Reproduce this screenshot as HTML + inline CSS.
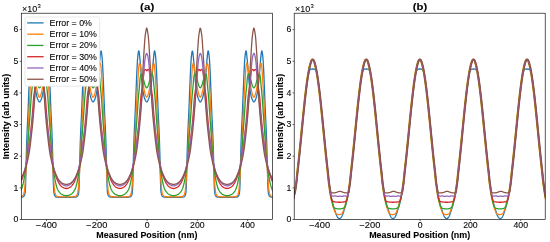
<!DOCTYPE html><html><head><meta charset="utf-8"><style>html,body{margin:0;padding:0;background:#fff;}svg{display:block;will-change:transform;}text{font-family:"Liberation Sans",sans-serif;fill:#000;stroke:#000;stroke-width:0.08px;}</style></head><body>
<svg width="550" height="242" viewBox="0 0 550 242">
<rect width="550" height="242" fill="#fff"/>
<defs><clipPath id="cL"><rect x="21.3" y="13.2" width="251.09999999999997" height="206.3"/></clipPath><clipPath id="cR"><rect x="294.2" y="13.2" width="251.00000000000006" height="206.3"/></clipPath></defs>
<g clip-path="url(#cL)" fill="none" stroke-width="1.3" stroke-linejoin="round">
<path d="M20.30,197.23 L20.63,197.22 L20.96,197.21 L21.29,197.20 L21.62,197.18 L21.95,197.14 L22.28,197.07 L22.61,196.98 L22.94,196.86 L23.27,196.73 L23.60,196.51 L23.93,196.14 L24.26,195.61 L24.59,194.90 L24.92,193.55 L25.25,191.17 L25.58,185.18 L25.91,171.61 L26.24,157.96 L26.57,146.56 L26.90,136.91 L27.23,128.60 L27.56,121.88 L27.89,115.28 L28.22,107.35 L28.55,98.91 L28.88,90.51 L29.21,82.24 L29.54,74.13 L29.87,67.48 L30.20,61.58 L30.53,57.15 L30.86,54.34 L31.19,52.06 L31.52,50.86 L31.85,51.39 L32.18,53.57 L32.51,56.70 L32.84,60.04 L33.17,63.55 L33.50,67.83 L33.83,72.24 L34.16,76.15 L34.49,79.80 L34.82,83.34 L35.15,86.57 L35.48,89.25 L35.81,91.33 L36.14,93.19 L36.47,94.85 L36.80,96.31 L37.13,97.53 L37.46,98.50 L37.79,99.30 L38.12,100.08 L38.45,100.77 L38.78,101.34 L39.11,101.74 L39.44,101.92 L39.77,101.83 L40.10,101.51 L40.43,101.00 L40.76,100.34 L41.09,99.59 L41.42,98.79 L41.75,97.91 L42.08,96.78 L42.41,95.41 L42.74,93.82 L43.07,92.03 L43.40,90.05 L43.73,87.61 L44.06,84.56 L44.39,81.11 L44.72,77.48 L45.05,73.75 L45.38,69.45 L45.71,65.05 L46.04,61.20 L46.37,57.93 L46.70,54.64 L47.03,52.03 L47.36,50.82 L47.69,51.46 L48.02,53.43 L48.35,56.08 L48.68,59.75 L49.01,65.23 L49.34,71.54 L49.67,79.21 L50.00,87.47 L50.33,95.88 L50.66,104.29 L50.99,112.52 L51.32,119.59 L51.65,125.99 L51.98,133.74 L52.31,142.89 L52.64,153.47 L52.97,166.60 L53.30,181.20 L53.63,189.53 L53.96,192.82 L54.29,194.51 L54.62,195.38 L54.95,195.97 L55.28,196.39 L55.61,196.66 L55.94,196.82 L56.27,196.94 L56.60,197.04 L56.93,197.12 L57.26,197.17 L57.59,197.19 L57.92,197.20 L58.25,197.22 L58.58,197.23 L58.91,197.24 L59.24,197.25 L59.57,197.26 L59.90,197.27 L60.23,197.28 L60.56,197.29 L60.89,197.29 L61.22,197.30 L61.55,197.31 L61.88,197.31 L62.21,197.32 L62.54,197.32 L62.87,197.33 L63.20,197.33 L63.53,197.33 L63.86,197.34 L64.19,197.34 L64.52,197.34 L64.85,197.34 L65.18,197.34 L65.51,197.34 L65.84,197.34 L66.17,197.34 L66.50,197.34 L66.83,197.34 L67.16,197.34 L67.49,197.34 L67.82,197.34 L68.15,197.34 L68.48,197.34 L68.81,197.34 L69.14,197.33 L69.47,197.33 L69.80,197.32 L70.13,197.32 L70.46,197.32 L70.79,197.31 L71.12,197.30 L71.45,197.30 L71.78,197.29 L72.11,197.28 L72.44,197.28 L72.77,197.27 L73.10,197.26 L73.43,197.25 L73.76,197.24 L74.09,197.23 L74.42,197.21 L74.75,197.20 L75.08,197.19 L75.41,197.16 L75.74,197.11 L76.07,197.02 L76.40,196.92 L76.73,196.79 L77.06,196.62 L77.39,196.32 L77.72,195.86 L78.05,195.24 L78.38,194.23 L78.71,192.34 L79.04,188.27 L79.37,178.01 L79.70,163.66 L80.03,151.08 L80.36,140.84 L80.69,131.97 L81.02,124.58 L81.35,118.21 L81.68,110.83 L82.01,102.49 L82.34,94.10 L82.67,85.73 L83.00,77.47 L83.33,70.17 L83.66,63.97 L83.99,58.79 L84.32,55.49 L84.65,52.93 L84.98,51.19 L85.31,50.92 L85.64,52.49 L85.97,55.30 L86.30,58.64 L86.63,61.94 L86.96,65.96 L87.29,70.39 L87.62,74.59 L87.95,78.25 L88.28,81.87 L88.61,85.25 L88.94,88.19 L89.27,90.48 L89.60,92.42 L89.93,94.17 L90.26,95.72 L90.59,97.04 L90.92,98.12 L91.25,98.96 L91.58,99.75 L91.91,100.49 L92.24,101.12 L92.57,101.60 L92.90,101.87 L93.23,101.90 L93.56,101.67 L93.89,101.23 L94.22,100.63 L94.55,99.92 L94.88,99.13 L95.21,98.31 L95.54,97.29 L95.87,96.02 L96.20,94.52 L96.53,92.81 L96.86,90.91 L97.19,88.74 L97.52,85.92 L97.85,82.61 L98.18,79.03 L98.51,75.38 L98.84,71.33 L99.17,66.88 L99.50,62.72 L99.83,59.35 L100.16,55.99 L100.49,53.01 L100.82,51.12 L101.15,50.99 L101.48,52.47 L101.81,54.91 L102.14,57.92 L102.47,62.75 L102.80,68.82 L103.13,75.77 L103.46,84.00 L103.79,92.30 L104.12,100.69 L104.45,109.11 L104.78,116.78 L105.11,123.21 L105.44,130.25 L105.77,138.84 L106.10,148.79 L106.43,160.77 L106.76,174.68 L107.09,186.82 L107.42,191.81 L107.75,193.91 L108.08,195.08 L108.41,195.74 L108.74,196.23 L109.07,196.57 L109.40,196.76 L109.73,196.89 L110.06,197.00 L110.39,197.09 L110.72,197.15 L111.05,197.18 L111.38,197.20 L111.71,197.21 L112.04,197.22 L112.37,197.23 L112.70,197.25 L113.03,197.26 L113.36,197.26 L113.69,197.27 L114.02,197.28 L114.35,197.29 L114.68,197.30 L115.01,197.30 L115.34,197.31 L115.67,197.31 L116.00,197.32 L116.33,197.32 L116.66,197.33 L116.99,197.33 L117.32,197.33 L117.65,197.34 L117.98,197.34 L118.31,197.34 L118.64,197.34 L118.97,197.34 L119.30,197.34 L119.63,197.34 L119.96,197.34 L120.29,197.34 L120.62,197.34 L120.95,197.34 L121.28,197.34 L121.61,197.34 L121.94,197.34 L122.27,197.34 L122.60,197.33 L122.93,197.33 L123.26,197.33 L123.59,197.32 L123.92,197.32 L124.25,197.31 L124.58,197.31 L124.91,197.30 L125.24,197.29 L125.57,197.29 L125.90,197.28 L126.23,197.27 L126.56,197.26 L126.89,197.25 L127.22,197.24 L127.55,197.23 L127.88,197.22 L128.21,197.21 L128.54,197.19 L128.87,197.18 L129.20,197.13 L129.53,197.06 L129.86,196.97 L130.19,196.85 L130.52,196.70 L130.85,196.46 L131.18,196.07 L131.51,195.52 L131.84,194.75 L132.17,193.26 L132.50,190.57 L132.83,183.83 L133.16,169.54 L133.49,156.03 L133.82,145.01 L134.15,135.57 L134.48,127.48 L134.81,120.93 L135.14,114.15 L135.47,106.08 L135.80,97.65 L136.13,89.24 L136.46,80.98 L136.79,73.01 L137.12,66.53 L137.45,60.79 L137.78,56.68 L138.11,53.95 L138.44,51.79 L138.77,50.81 L139.10,51.63 L139.43,54.00 L139.76,57.21 L140.09,60.52 L140.42,64.16 L140.75,68.50 L141.08,72.88 L141.41,76.70 L141.74,80.35 L142.07,83.86 L142.40,87.01 L142.73,89.60 L143.06,91.62 L143.39,93.45 L143.72,95.09 L144.05,96.51 L144.38,97.69 L144.71,98.62 L145.04,99.42 L145.37,100.19 L145.70,100.87 L146.03,101.41 L146.36,101.78 L146.69,101.92 L147.02,101.80 L147.35,101.44 L147.68,100.91 L148.01,100.23 L148.34,99.47 L148.67,98.67 L149.00,97.76 L149.33,96.59 L149.66,95.18 L149.99,93.56 L150.32,91.74 L150.65,89.73 L150.98,87.19 L151.31,84.06 L151.64,80.57 L151.97,76.92 L152.30,73.13 L152.63,68.77 L152.96,64.41 L153.29,60.71 L153.62,57.41 L153.95,54.18 L154.28,51.74 L154.61,50.81 L154.94,51.69 L155.27,53.80 L155.60,56.50 L155.93,60.49 L156.26,66.16 L156.59,72.58 L156.92,80.48 L157.25,88.73 L157.58,97.14 L157.91,105.57 L158.24,113.69 L158.57,120.54 L158.90,127.05 L159.23,135.04 L159.56,144.40 L159.89,155.28 L160.22,168.70 L160.55,183.16 L160.88,190.30 L161.21,193.14 L161.54,194.69 L161.87,195.48 L162.20,196.04 L162.53,196.45 L162.86,196.69 L163.19,196.84 L163.52,196.96 L163.85,197.06 L164.18,197.13 L164.51,197.17 L164.84,197.19 L165.17,197.21 L165.50,197.22 L165.83,197.23 L166.16,197.24 L166.49,197.25 L166.82,197.26 L167.15,197.27 L167.48,197.28 L167.81,197.29 L168.14,197.29 L168.47,197.30 L168.80,197.31 L169.13,197.31 L169.46,197.32 L169.79,197.32 L170.12,197.33 L170.45,197.33 L170.78,197.33 L171.11,197.34 L171.44,197.34 L171.77,197.34 L172.10,197.34 L172.43,197.34 L172.76,197.34 L173.09,197.34 L173.42,197.34 L173.75,197.34 L174.08,197.34 L174.41,197.34 L174.74,197.34 L175.07,197.34 L175.40,197.34 L175.73,197.34 L176.06,197.33 L176.39,197.33 L176.72,197.33 L177.05,197.32 L177.38,197.32 L177.71,197.31 L178.04,197.31 L178.37,197.30 L178.70,197.30 L179.03,197.29 L179.36,197.28 L179.69,197.27 L180.02,197.27 L180.35,197.26 L180.68,197.25 L181.01,197.24 L181.34,197.22 L181.67,197.21 L182.00,197.20 L182.33,197.19 L182.66,197.15 L182.99,197.10 L183.32,197.01 L183.65,196.90 L183.98,196.77 L184.31,196.58 L184.64,196.26 L184.97,195.77 L185.30,195.13 L185.63,194.01 L185.96,191.97 L186.29,187.25 L186.62,175.62 L186.95,161.59 L187.28,149.44 L187.61,139.41 L187.94,130.74 L188.27,123.60 L188.60,117.20 L188.93,109.61 L189.26,101.21 L189.59,92.82 L189.92,84.50 L190.25,76.25 L190.58,69.20 L190.91,63.09 L191.24,58.16 L191.57,55.08 L191.90,52.60 L192.23,51.04 L192.56,51.05 L192.89,52.85 L193.22,55.79 L193.55,59.15 L193.88,62.49 L194.21,66.62 L194.54,71.06 L194.87,75.16 L195.20,78.81 L195.53,82.40 L195.86,85.73 L196.19,88.58 L196.52,90.79 L196.85,92.70 L197.18,94.42 L197.51,95.93 L197.84,97.22 L198.17,98.26 L198.50,99.08 L198.83,99.87 L199.16,100.59 L199.49,101.20 L199.82,101.65 L200.15,101.89 L200.48,101.88 L200.81,101.62 L201.14,101.15 L201.47,100.53 L201.80,99.80 L202.13,99.01 L202.46,98.18 L202.79,97.11 L203.12,95.80 L203.45,94.27 L203.78,92.53 L204.11,90.61 L204.44,88.35 L204.77,85.44 L205.10,82.08 L205.43,78.47 L205.76,74.82 L206.09,70.66 L206.42,66.22 L206.75,62.16 L207.08,58.85 L207.41,55.50 L207.74,52.63 L208.07,50.97 L208.40,51.13 L208.73,52.79 L209.06,55.32 L209.39,58.53 L209.72,63.61 L210.05,69.78 L210.38,76.98 L210.71,85.23 L211.04,93.58 L211.37,101.98 L211.70,110.34 L212.03,117.81 L212.36,124.18 L212.69,131.47 L213.02,140.26 L213.35,150.42 L213.68,162.83 L214.01,177.05 L214.34,187.87 L214.67,192.19 L215.00,194.14 L215.33,195.19 L215.66,195.82 L215.99,196.29 L216.32,196.61 L216.65,196.78 L216.98,196.91 L217.31,197.02 L217.64,197.10 L217.97,197.16 L218.30,197.19 L218.63,197.20 L218.96,197.21 L219.29,197.22 L219.62,197.24 L219.95,197.25 L220.28,197.26 L220.61,197.27 L220.94,197.27 L221.27,197.28 L221.60,197.29 L221.93,197.30 L222.26,197.30 L222.59,197.31 L222.92,197.32 L223.25,197.32 L223.58,197.32 L223.91,197.33 L224.24,197.33 L224.57,197.33 L224.90,197.34 L225.23,197.34 L225.56,197.34 L225.89,197.34 L226.22,197.34 L226.55,197.34 L226.88,197.34 L227.21,197.34 L227.54,197.34 L227.87,197.34 L228.20,197.34 L228.53,197.34 L228.86,197.34 L229.19,197.34 L229.52,197.34 L229.85,197.33 L230.18,197.33 L230.51,197.33 L230.84,197.32 L231.17,197.32 L231.50,197.31 L231.83,197.31 L232.16,197.30 L232.49,197.29 L232.82,197.29 L233.15,197.28 L233.48,197.27 L233.81,197.26 L234.14,197.25 L234.47,197.24 L234.80,197.23 L235.13,197.22 L235.46,197.20 L235.79,197.19 L236.12,197.17 L236.45,197.12 L236.78,197.05 L237.11,196.95 L237.44,196.83 L237.77,196.68 L238.10,196.42 L238.43,196.00 L238.76,195.42 L239.09,194.58 L239.42,192.95 L239.75,189.85 L240.08,182.03 L240.41,167.44 L240.74,154.18 L241.07,143.49 L241.40,134.26 L241.73,126.41 L242.06,119.97 L242.39,112.99 L242.72,104.80 L243.05,96.39 L243.38,87.98 L243.71,79.72 L244.04,71.95 L244.37,65.60 L244.70,60.04 L245.03,56.25 L245.36,53.57 L245.69,51.55 L246.02,50.81 L246.35,51.91 L246.68,54.45 L247.01,57.72 L247.34,61.00 L247.67,64.79 L248.00,69.18 L248.33,73.51 L248.66,77.26 L248.99,80.90 L249.32,84.36 L249.65,87.45 L249.98,89.93 L250.31,91.91 L250.64,93.71 L250.97,95.32 L251.30,96.70 L251.63,97.85 L251.96,98.74 L252.29,99.54 L252.62,100.30 L252.95,100.96 L253.28,101.48 L253.61,101.82 L253.94,101.92 L254.27,101.76 L254.60,101.37 L254.93,100.81 L255.26,100.12 L255.59,99.35 L255.92,98.55 L256.25,97.59 L256.58,96.39 L256.91,94.95 L257.24,93.29 L257.57,91.45 L257.90,89.39 L258.23,86.75 L258.56,83.55 L258.89,80.02 L259.22,76.37 L259.55,72.50 L259.88,68.10 L260.21,63.79 L260.54,60.24 L260.87,56.90 L261.20,53.74 L261.53,51.48 L261.86,50.84 L262.19,51.95 L262.52,54.19 L262.85,56.96 L263.18,61.26 L263.51,67.10 L263.84,73.68 L264.17,81.74 L264.50,90.00 L264.83,98.40 L265.16,106.84 L265.49,114.83 L265.82,121.50 L266.15,128.14 L266.48,136.37 L266.81,145.93 L267.14,157.18 L267.47,170.79 L267.80,184.68 L268.13,190.95 L268.46,193.44 L268.79,194.85 L269.12,195.58 L269.45,196.11 L269.78,196.49 L270.11,196.72 L270.44,196.86 L270.77,196.98 L271.10,197.07 L271.43,197.14 L271.76,197.18 L272.09,197.19 L272.42,197.21 L272.75,197.22 L273.08,197.23" stroke="#1f77b4"/>
<path d="M20.30,196.72 L20.63,196.70 L20.96,196.65 L21.29,196.55 L21.62,196.42 L21.95,196.25 L22.28,196.06 L22.61,195.84 L22.94,195.51 L23.27,195.03 L23.60,194.40 L23.93,193.48 L24.26,191.90 L24.59,189.64 L24.92,185.71 L25.25,181.42 L25.58,176.75 L25.91,171.88 L26.24,166.96 L26.57,161.83 L26.90,156.20 L27.23,149.65 L27.56,142.44 L27.89,135.28 L28.22,128.05 L28.55,120.82 L28.88,113.88 L29.21,107.36 L29.54,101.11 L29.87,95.03 L30.20,89.01 L30.53,83.15 L30.86,77.68 L31.19,72.09 L31.52,67.62 L31.85,65.22 L32.18,63.54 L32.51,63.21 L32.84,63.94 L33.17,65.17 L33.50,66.64 L33.83,68.84 L34.16,71.38 L34.49,73.84 L34.82,76.11 L35.15,78.40 L35.48,80.66 L35.81,82.84 L36.14,84.92 L36.47,87.06 L36.80,89.15 L37.13,91.00 L37.46,92.45 L37.79,93.55 L38.12,94.62 L38.45,95.58 L38.78,96.37 L39.11,96.92 L39.44,97.17 L39.77,97.05 L40.10,96.60 L40.43,95.89 L40.76,94.98 L41.09,93.95 L41.42,92.85 L41.75,91.59 L42.08,89.86 L42.41,87.84 L42.74,85.69 L43.07,83.60 L43.40,81.46 L43.73,79.23 L44.06,76.94 L44.39,74.66 L44.72,72.31 L45.05,69.74 L45.38,67.37 L45.71,65.64 L46.04,64.36 L46.37,63.39 L46.70,63.23 L47.03,64.49 L47.36,66.66 L47.69,70.22 L48.02,75.65 L48.35,81.11 L48.68,86.85 L49.01,92.84 L49.34,98.88 L49.67,105.06 L50.00,111.47 L50.33,118.24 L50.66,125.40 L50.99,132.67 L51.32,139.80 L51.65,147.06 L51.98,153.94 L52.31,159.86 L52.64,165.14 L52.97,170.09 L53.30,174.99 L53.63,179.76 L53.96,184.18 L54.29,188.36 L54.62,191.18 L54.95,192.98 L55.28,194.13 L55.61,194.82 L55.94,195.35 L56.27,195.74 L56.60,195.99 L56.93,196.18 L57.26,196.36 L57.59,196.50 L57.92,196.62 L58.25,196.69 L58.58,196.72 L58.91,196.73 L59.24,196.74 L59.57,196.76 L59.90,196.77 L60.23,196.78 L60.56,196.79 L60.89,196.80 L61.22,196.81 L61.55,196.82 L61.88,196.83 L62.21,196.83 L62.54,196.84 L62.87,196.85 L63.20,196.85 L63.53,196.85 L63.86,196.86 L64.19,196.86 L64.52,196.86 L64.85,196.87 L65.18,196.87 L65.51,196.87 L65.84,196.87 L66.17,196.87 L66.50,196.87 L66.83,196.87 L67.16,196.87 L67.49,196.87 L67.82,196.87 L68.15,196.86 L68.48,196.86 L68.81,196.86 L69.14,196.85 L69.47,196.85 L69.80,196.84 L70.13,196.84 L70.46,196.83 L70.79,196.82 L71.12,196.82 L71.45,196.81 L71.78,196.80 L72.11,196.79 L72.44,196.78 L72.77,196.77 L73.10,196.75 L73.43,196.74 L73.76,196.73 L74.09,196.71 L74.42,196.68 L74.75,196.59 L75.08,196.48 L75.41,196.32 L75.74,196.14 L76.07,195.94 L76.40,195.67 L76.73,195.25 L77.06,194.69 L77.39,193.95 L77.72,192.65 L78.05,190.72 L78.38,187.51 L78.71,183.28 L79.04,178.77 L79.37,173.96 L79.70,169.05 L80.03,164.05 L80.36,158.67 L80.69,152.55 L81.02,145.53 L81.35,138.28 L81.68,131.13 L82.01,123.87 L82.34,116.77 L82.67,110.09 L83.00,103.74 L83.33,97.60 L83.66,91.56 L83.99,85.60 L84.32,79.95 L84.65,74.44 L84.98,69.25 L85.31,66.16 L85.64,64.13 L85.97,63.16 L86.30,63.54 L86.63,64.62 L86.96,65.93 L87.29,67.84 L87.62,70.29 L87.95,72.84 L88.28,75.14 L88.61,77.43 L88.94,79.71 L89.27,81.93 L89.60,84.04 L89.93,86.15 L90.26,88.28 L90.59,90.26 L90.92,91.90 L91.25,93.09 L91.58,94.18 L91.91,95.19 L92.24,96.06 L92.57,96.72 L92.90,97.10 L93.23,97.14 L93.56,96.83 L93.89,96.22 L94.22,95.39 L94.55,94.40 L94.88,93.32 L95.21,92.18 L95.54,90.64 L95.87,88.72 L96.20,86.61 L96.53,84.47 L96.86,82.39 L97.19,80.19 L97.52,77.92 L97.85,75.63 L98.18,73.35 L98.51,70.84 L98.84,68.33 L99.17,66.27 L99.50,64.89 L99.83,63.73 L100.16,63.16 L100.49,63.80 L100.82,65.68 L101.15,68.37 L101.48,73.25 L101.81,78.82 L102.14,84.37 L102.47,90.28 L102.80,96.31 L103.13,102.42 L103.46,108.72 L103.79,115.31 L104.12,122.34 L104.45,129.59 L104.78,136.78 L105.11,143.99 L105.44,151.12 L105.77,157.45 L106.10,162.95 L106.43,168.01 L106.76,172.92 L107.09,177.77 L107.42,182.36 L107.75,186.61 L108.08,190.24 L108.41,192.29 L108.74,193.73 L109.07,194.55 L109.40,195.15 L109.73,195.59 L110.06,195.89 L110.39,196.10 L110.72,196.29 L111.05,196.45 L111.38,196.57 L111.71,196.66 L112.04,196.71 L112.37,196.72 L112.70,196.74 L113.03,196.75 L113.36,196.76 L113.69,196.78 L114.02,196.79 L114.35,196.80 L114.68,196.81 L115.01,196.82 L115.34,196.82 L115.67,196.83 L116.00,196.84 L116.33,196.84 L116.66,196.85 L116.99,196.85 L117.32,196.86 L117.65,196.86 L117.98,196.86 L118.31,196.87 L118.64,196.87 L118.97,196.87 L119.30,196.87 L119.63,196.87 L119.96,196.87 L120.29,196.87 L120.62,196.87 L120.95,196.87 L121.28,196.87 L121.61,196.86 L121.94,196.86 L122.27,196.86 L122.60,196.86 L122.93,196.85 L123.26,196.85 L123.59,196.84 L123.92,196.83 L124.25,196.83 L124.58,196.82 L124.91,196.81 L125.24,196.80 L125.57,196.79 L125.90,196.78 L126.23,196.77 L126.56,196.76 L126.89,196.75 L127.22,196.73 L127.55,196.72 L127.88,196.70 L128.21,196.63 L128.54,196.53 L128.87,196.39 L129.20,196.22 L129.53,196.03 L129.86,195.80 L130.19,195.45 L130.52,194.95 L130.85,194.29 L131.18,193.28 L131.51,191.61 L131.84,189.14 L132.17,185.06 L132.50,180.73 L132.83,176.02 L133.16,171.13 L133.49,166.20 L133.82,161.02 L134.15,155.28 L134.48,148.58 L134.81,141.34 L135.14,134.19 L135.47,126.95 L135.80,119.74 L136.13,112.87 L136.46,106.40 L136.79,100.18 L137.12,94.12 L137.45,88.11 L137.78,82.29 L138.11,76.84 L138.44,71.29 L138.77,67.18 L139.10,64.91 L139.43,63.39 L139.76,63.27 L140.09,64.11 L140.42,65.36 L140.75,66.94 L141.08,69.21 L141.41,71.77 L141.74,74.18 L142.07,76.46 L142.40,78.75 L142.73,81.00 L143.06,83.16 L143.39,85.24 L143.72,87.39 L144.05,89.45 L144.38,91.25 L144.71,92.62 L145.04,93.72 L145.37,94.77 L145.70,95.71 L146.03,96.47 L146.36,96.98 L146.69,97.17 L147.02,97.00 L147.35,96.51 L147.68,95.76 L148.01,94.83 L148.34,93.78 L148.67,92.68 L149.00,91.35 L149.33,89.57 L149.66,87.51 L149.99,85.37 L150.32,83.29 L150.65,81.13 L150.98,78.88 L151.31,76.60 L151.64,74.32 L151.97,71.93 L152.30,69.36 L152.63,67.06 L152.96,65.44 L153.29,64.18 L153.62,63.30 L153.95,63.34 L154.28,64.78 L154.61,67.02 L154.94,70.98 L155.27,76.50 L155.60,81.95 L155.93,87.74 L156.26,93.75 L156.59,99.81 L156.92,106.02 L157.25,112.47 L157.58,119.31 L157.91,126.50 L158.24,133.76 L158.57,140.90 L158.90,148.15 L159.23,154.90 L159.56,160.69 L159.89,165.90 L160.22,170.84 L160.55,175.73 L160.88,180.46 L161.21,184.81 L161.54,188.93 L161.87,191.49 L162.20,193.19 L162.53,194.25 L162.86,194.91 L163.19,195.42 L163.52,195.78 L163.85,196.02 L164.18,196.21 L164.51,196.38 L164.84,196.52 L165.17,196.63 L165.50,196.69 L165.83,196.72 L166.16,196.73 L166.49,196.75 L166.82,196.76 L167.15,196.77 L167.48,196.78 L167.81,196.79 L168.14,196.80 L168.47,196.81 L168.80,196.82 L169.13,196.83 L169.46,196.83 L169.79,196.84 L170.12,196.85 L170.45,196.85 L170.78,196.85 L171.11,196.86 L171.44,196.86 L171.77,196.86 L172.10,196.87 L172.43,196.87 L172.76,196.87 L173.09,196.87 L173.42,196.87 L173.75,196.87 L174.08,196.87 L174.41,196.87 L174.74,196.87 L175.07,196.87 L175.40,196.86 L175.73,196.86 L176.06,196.86 L176.39,196.85 L176.72,196.85 L177.05,196.84 L177.38,196.84 L177.71,196.83 L178.04,196.82 L178.37,196.82 L178.70,196.81 L179.03,196.80 L179.36,196.79 L179.69,196.78 L180.02,196.77 L180.35,196.75 L180.68,196.74 L181.01,196.73 L181.34,196.71 L181.67,196.67 L182.00,196.58 L182.33,196.46 L182.66,196.30 L182.99,196.11 L183.32,195.91 L183.65,195.61 L183.98,195.18 L184.31,194.59 L184.64,193.79 L184.97,192.39 L185.30,190.38 L185.63,186.87 L185.96,182.63 L186.29,178.05 L186.62,173.21 L186.95,168.31 L187.28,163.27 L187.61,157.80 L187.94,151.53 L188.27,144.43 L188.60,137.21 L188.93,130.03 L189.26,122.77 L189.59,115.72 L189.92,109.11 L190.25,102.79 L190.58,96.68 L190.91,90.65 L191.24,84.72 L191.57,79.14 L191.90,73.59 L192.23,68.61 L192.56,65.82 L192.89,63.89 L193.22,63.15 L193.55,63.67 L193.88,64.81 L194.21,66.17 L194.54,68.18 L194.87,70.68 L195.20,73.21 L195.53,75.49 L195.86,77.78 L196.19,80.05 L196.52,82.26 L196.85,84.35 L197.18,86.47 L197.51,88.60 L197.84,90.53 L198.17,92.10 L198.50,93.25 L198.83,94.34 L199.16,95.33 L199.49,96.18 L199.82,96.80 L200.15,97.13 L200.48,97.12 L200.81,96.75 L201.14,96.11 L201.47,95.25 L201.80,94.24 L202.13,93.15 L202.46,91.98 L202.79,90.37 L203.12,88.41 L203.45,86.28 L203.78,84.16 L204.11,82.06 L204.44,79.85 L204.77,77.57 L205.10,75.28 L205.43,72.99 L205.76,70.44 L206.09,67.97 L206.42,66.02 L206.75,64.69 L207.08,63.59 L207.41,63.15 L207.74,64.03 L208.07,66.02 L208.40,68.99 L208.73,74.10 L209.06,79.62 L209.39,85.25 L209.72,91.19 L210.05,97.23 L210.38,103.36 L210.71,109.69 L211.04,116.35 L211.37,123.43 L211.70,130.69 L212.03,137.85 L212.36,145.09 L212.69,152.14 L213.02,158.33 L213.35,163.74 L213.68,168.76 L214.01,173.66 L214.34,178.48 L214.67,183.02 L215.00,187.26 L215.33,190.59 L215.66,192.55 L215.99,193.89 L216.32,194.65 L216.65,195.22 L216.98,195.65 L217.31,195.93 L217.64,196.13 L217.97,196.31 L218.30,196.47 L218.63,196.59 L218.96,196.67 L219.29,196.71 L219.62,196.73 L219.95,196.74 L220.28,196.75 L220.61,196.77 L220.94,196.78 L221.27,196.79 L221.60,196.80 L221.93,196.81 L222.26,196.82 L222.59,196.82 L222.92,196.83 L223.25,196.84 L223.58,196.84 L223.91,196.85 L224.24,196.85 L224.57,196.86 L224.90,196.86 L225.23,196.86 L225.56,196.87 L225.89,196.87 L226.22,196.87 L226.55,196.87 L226.88,196.87 L227.21,196.87 L227.54,196.87 L227.87,196.87 L228.20,196.87 L228.53,196.87 L228.86,196.86 L229.19,196.86 L229.52,196.86 L229.85,196.85 L230.18,196.85 L230.51,196.85 L230.84,196.84 L231.17,196.83 L231.50,196.83 L231.83,196.82 L232.16,196.81 L232.49,196.80 L232.82,196.79 L233.15,196.78 L233.48,196.77 L233.81,196.76 L234.14,196.75 L234.47,196.73 L234.80,196.72 L235.13,196.69 L235.46,196.62 L235.79,196.51 L236.12,196.37 L236.45,196.20 L236.78,196.00 L237.11,195.76 L237.44,195.38 L237.77,194.86 L238.10,194.18 L238.43,193.07 L238.76,191.30 L239.09,188.59 L239.42,184.43 L239.75,180.04 L240.08,175.29 L240.41,170.39 L240.74,165.44 L241.07,160.19 L241.40,154.33 L241.73,147.50 L242.06,140.24 L242.39,133.10 L242.72,125.84 L243.05,118.67 L243.38,111.87 L243.71,105.44 L244.04,99.25 L244.37,93.20 L244.70,87.21 L245.03,81.45 L245.36,75.99 L245.69,70.52 L246.02,66.80 L246.35,64.61 L246.68,63.27 L247.01,63.35 L247.34,64.28 L247.67,65.56 L248.00,67.24 L248.33,69.59 L248.66,72.16 L248.99,74.52 L249.32,76.81 L249.65,79.09 L249.98,81.33 L250.31,83.48 L250.64,85.56 L250.97,87.71 L251.30,89.74 L251.63,91.49 L251.96,92.78 L252.29,93.88 L252.62,94.92 L252.95,95.84 L253.28,96.57 L253.61,97.03 L253.94,97.17 L254.27,96.95 L254.60,96.41 L254.93,95.63 L255.26,94.68 L255.59,93.62 L255.92,92.52 L256.25,91.10 L256.58,89.27 L256.91,87.19 L257.24,85.05 L257.57,82.97 L257.90,80.80 L258.23,78.54 L258.56,76.25 L258.89,73.98 L259.22,71.54 L259.55,68.98 L259.88,66.76 L260.21,65.25 L260.54,64.01 L260.87,63.23 L261.20,63.47 L261.53,65.09 L261.86,67.44 L262.19,71.76 L262.52,77.35 L262.85,82.81 L263.18,88.65 L263.51,94.67 L263.84,100.74 L264.17,106.98 L264.50,113.47 L264.83,120.39 L265.16,127.61 L265.49,134.84 L265.82,142.00 L266.15,149.22 L266.48,155.83 L266.81,161.51 L267.14,166.66 L267.47,171.58 L267.80,176.46 L268.13,181.14 L268.46,185.45 L268.79,189.45 L269.12,191.79 L269.45,193.40 L269.78,194.36 L270.11,195.00 L270.44,195.49 L270.77,195.83 L271.10,196.05 L271.43,196.24 L271.76,196.41 L272.09,196.54 L272.42,196.64 L272.75,196.70 L273.08,196.72" stroke="#ff7f0e"/>
<path d="M20.30,191.25 L20.63,190.74 L20.96,190.18 L21.29,189.55 L21.62,188.84 L21.95,187.96 L22.28,186.92 L22.61,185.76 L22.94,184.53 L23.27,183.15 L23.60,181.60 L23.93,179.97 L24.26,178.32 L24.59,176.60 L24.92,174.73 L25.25,172.62 L25.58,170.28 L25.91,167.70 L26.24,164.90 L26.57,161.84 L26.90,158.45 L27.23,154.61 L27.56,150.02 L27.89,144.95 L28.22,139.79 L28.55,134.92 L28.88,130.35 L29.21,125.87 L29.54,121.42 L29.87,116.88 L30.20,112.13 L30.53,107.05 L30.86,102.01 L31.19,97.42 L31.52,93.62 L31.85,90.36 L32.18,87.17 L32.51,83.43 L32.84,79.31 L33.17,76.70 L33.50,75.09 L33.83,74.07 L34.16,73.96 L34.49,74.31 L34.82,74.85 L35.15,75.49 L35.48,76.43 L35.81,77.62 L36.14,78.90 L36.47,80.13 L36.80,81.37 L37.13,82.71 L37.46,84.00 L37.79,85.10 L38.12,85.87 L38.45,86.56 L38.78,87.17 L39.11,87.62 L39.44,87.83 L39.77,87.73 L40.10,87.36 L40.43,86.80 L40.76,86.13 L41.09,85.42 L41.42,84.43 L41.75,83.19 L42.08,81.85 L42.41,80.56 L42.74,79.36 L43.07,78.08 L43.40,76.84 L43.73,75.80 L44.06,75.07 L44.39,74.49 L44.72,74.05 L45.05,73.92 L45.38,74.63 L45.71,76.07 L46.04,78.09 L46.37,81.88 L46.70,85.94 L47.03,89.22 L47.36,92.40 L47.69,95.95 L48.02,100.27 L48.35,105.19 L48.68,110.30 L49.01,115.20 L49.34,119.78 L49.67,124.26 L50.00,128.71 L50.33,133.24 L50.66,137.97 L50.99,143.06 L51.32,148.21 L51.65,153.02 L51.98,157.12 L52.31,160.65 L52.64,163.82 L52.97,166.71 L53.30,169.37 L53.63,171.80 L53.96,173.99 L54.29,175.94 L54.62,177.71 L54.95,179.37 L55.28,181.01 L55.61,182.60 L55.94,184.05 L56.27,185.32 L56.60,186.51 L56.93,187.60 L57.26,188.54 L57.59,189.31 L57.92,189.96 L58.25,190.55 L58.58,191.07 L58.91,191.54 L59.24,191.97 L59.57,192.36 L59.90,192.73 L60.23,193.09 L60.56,193.42 L60.89,193.73 L61.22,194.01 L61.55,194.24 L61.88,194.44 L62.21,194.59 L62.54,194.74 L62.87,194.89 L63.20,195.03 L63.53,195.16 L63.86,195.28 L64.19,195.39 L64.52,195.49 L64.85,195.58 L65.18,195.65 L65.51,195.70 L65.84,195.74 L66.17,195.76 L66.50,195.76 L66.83,195.74 L67.16,195.69 L67.49,195.64 L67.82,195.56 L68.15,195.47 L68.48,195.37 L68.81,195.25 L69.14,195.13 L69.47,195.00 L69.80,194.86 L70.13,194.71 L70.46,194.56 L70.79,194.40 L71.12,194.20 L71.45,193.95 L71.78,193.67 L72.11,193.35 L72.44,193.01 L72.77,192.65 L73.10,192.28 L73.43,191.88 L73.76,191.45 L74.09,190.96 L74.42,190.43 L74.75,189.83 L75.08,189.16 L75.41,188.36 L75.74,187.38 L76.07,186.27 L76.40,185.06 L76.73,183.76 L77.06,182.27 L77.39,180.66 L77.72,179.02 L78.05,177.35 L78.38,175.55 L78.71,173.55 L79.04,171.30 L79.37,168.82 L79.70,166.12 L80.03,163.18 L80.36,159.94 L80.69,156.32 L81.02,152.05 L81.35,147.13 L81.68,141.96 L82.01,136.93 L82.34,132.27 L82.67,127.76 L83.00,123.31 L83.33,118.82 L83.66,114.20 L83.99,109.22 L84.32,104.11 L84.65,99.29 L84.98,95.14 L85.31,91.71 L85.64,88.55 L85.97,85.16 L86.30,80.99 L86.63,77.52 L86.96,75.73 L87.29,74.40 L87.62,73.91 L87.95,74.12 L88.28,74.61 L88.61,75.19 L88.94,75.99 L89.27,77.10 L89.60,78.35 L89.93,79.63 L90.26,80.82 L90.59,82.13 L90.92,83.47 L91.25,84.67 L91.58,85.58 L91.91,86.27 L92.24,86.93 L92.57,87.46 L92.90,87.78 L93.23,87.81 L93.56,87.54 L93.89,87.05 L94.22,86.42 L94.55,85.73 L94.88,84.89 L95.21,83.74 L95.54,82.42 L95.87,81.09 L96.20,79.88 L96.53,78.63 L96.86,77.35 L97.19,76.21 L97.52,75.33 L97.85,74.73 L98.18,74.21 L98.51,73.93 L98.84,74.21 L99.17,75.40 L99.50,77.07 L99.83,80.12 L100.16,84.32 L100.49,87.87 L100.82,91.03 L101.15,94.37 L101.48,98.34 L101.81,103.05 L102.14,108.13 L102.47,113.17 L102.80,117.85 L103.13,122.36 L103.46,126.82 L103.79,131.30 L104.12,135.91 L104.45,140.87 L104.78,146.05 L105.11,151.05 L105.44,155.48 L105.77,159.20 L106.10,162.52 L106.43,165.52 L106.76,168.27 L107.09,170.80 L107.42,173.09 L107.75,175.14 L108.08,176.98 L108.41,178.67 L108.74,180.32 L109.07,181.94 L109.40,183.46 L109.73,184.80 L110.06,186.02 L110.39,187.15 L110.72,188.16 L111.05,189.01 L111.38,189.69 L111.71,190.31 L112.04,190.86 L112.37,191.35 L112.70,191.80 L113.03,192.20 L113.36,192.58 L113.69,192.94 L114.02,193.28 L114.35,193.60 L114.68,193.89 L115.01,194.15 L115.34,194.36 L115.67,194.53 L116.00,194.68 L116.33,194.83 L116.66,194.97 L116.99,195.10 L117.32,195.23 L117.65,195.34 L117.98,195.45 L118.31,195.54 L118.64,195.62 L118.97,195.68 L119.30,195.73 L119.63,195.76 L119.96,195.76 L120.29,195.75 L120.62,195.71 L120.95,195.66 L121.28,195.59 L121.61,195.51 L121.94,195.41 L122.27,195.30 L122.60,195.18 L122.93,195.05 L123.26,194.92 L123.59,194.77 L123.92,194.63 L124.25,194.47 L124.58,194.29 L124.91,194.06 L125.24,193.79 L125.57,193.49 L125.90,193.16 L126.23,192.81 L126.56,192.44 L126.89,192.06 L127.22,191.64 L127.55,191.18 L127.88,190.66 L128.21,190.09 L128.54,189.45 L128.87,188.72 L129.20,187.81 L129.53,186.75 L129.86,185.58 L130.19,184.34 L130.52,182.92 L130.85,181.35 L131.18,179.72 L131.51,178.07 L131.84,176.33 L132.17,174.43 L132.50,172.28 L132.83,169.90 L133.16,167.29 L133.49,164.46 L133.82,161.35 L134.15,157.90 L134.48,153.96 L134.81,149.27 L135.14,144.16 L135.47,139.02 L135.80,134.22 L136.13,129.66 L136.46,125.20 L136.79,120.74 L137.12,116.18 L137.45,111.37 L137.78,106.27 L138.11,101.28 L138.44,96.79 L138.77,93.11 L139.10,89.89 L139.43,86.67 L139.76,82.79 L140.09,78.77 L140.42,76.44 L140.75,74.89 L141.08,73.99 L141.41,73.99 L141.74,74.38 L142.07,74.94 L142.40,75.61 L142.73,76.60 L143.06,77.81 L143.39,79.09 L143.72,80.31 L144.05,81.57 L144.38,82.91 L144.71,84.18 L145.04,85.24 L145.37,85.98 L145.70,86.66 L146.03,87.25 L146.36,87.67 L146.69,87.84 L147.02,87.69 L147.35,87.28 L147.68,86.70 L148.01,86.02 L148.34,85.29 L148.67,84.25 L149.00,82.99 L149.33,81.65 L149.66,80.38 L149.99,79.17 L150.32,77.89 L150.65,76.67 L150.98,75.66 L151.31,74.98 L151.64,74.41 L151.97,74.01 L152.30,73.97 L152.63,74.81 L152.96,76.33 L153.29,78.57 L153.62,82.53 L153.95,86.46 L154.28,89.70 L154.61,92.90 L154.94,96.55 L155.27,100.99 L155.60,105.96 L155.93,111.07 L156.26,115.90 L156.59,120.46 L156.92,124.93 L157.25,129.39 L157.58,133.94 L157.91,138.72 L158.24,143.85 L158.57,148.97 L158.90,153.70 L159.23,157.68 L159.56,161.15 L159.89,164.28 L160.22,167.13 L160.55,169.75 L160.88,172.15 L161.21,174.30 L161.54,176.22 L161.87,177.97 L162.20,179.62 L162.53,181.26 L162.86,182.83 L163.19,184.26 L163.52,185.51 L163.85,186.68 L164.18,187.75 L164.51,188.67 L164.84,189.41 L165.17,190.05 L165.50,190.63 L165.83,191.15 L166.16,191.61 L166.49,192.03 L166.82,192.42 L167.15,192.79 L167.48,193.14 L167.81,193.47 L168.14,193.77 L168.47,194.04 L168.80,194.28 L169.13,194.46 L169.46,194.62 L169.79,194.76 L170.12,194.91 L170.45,195.05 L170.78,195.18 L171.11,195.30 L171.44,195.41 L171.77,195.51 L172.10,195.59 L172.43,195.66 L172.76,195.71 L173.09,195.75 L173.42,195.76 L173.75,195.76 L174.08,195.73 L174.41,195.69 L174.74,195.63 L175.07,195.55 L175.40,195.46 L175.73,195.35 L176.06,195.24 L176.39,195.11 L176.72,194.98 L177.05,194.84 L177.38,194.69 L177.71,194.54 L178.04,194.37 L178.37,194.16 L178.70,193.91 L179.03,193.62 L179.36,193.30 L179.69,192.96 L180.02,192.60 L180.35,192.22 L180.68,191.82 L181.01,191.38 L181.34,190.89 L181.67,190.34 L182.00,189.73 L182.33,189.05 L182.66,188.22 L182.99,187.22 L183.32,186.09 L183.65,184.87 L183.98,183.54 L184.31,182.03 L184.64,180.42 L184.97,178.77 L185.30,177.08 L185.63,175.26 L185.96,173.22 L186.29,170.94 L186.62,168.43 L186.95,165.69 L187.28,162.71 L187.61,159.41 L187.94,155.73 L188.27,151.34 L188.60,146.36 L188.93,141.18 L189.26,136.20 L189.59,131.58 L189.92,127.09 L190.25,122.63 L190.58,118.13 L190.91,113.47 L191.24,108.44 L191.57,103.36 L191.90,98.61 L192.23,94.58 L192.56,91.23 L192.89,88.06 L193.22,84.56 L193.55,80.36 L193.88,77.19 L194.21,75.49 L194.54,74.26 L194.87,73.92 L195.20,74.18 L195.53,74.69 L195.86,75.29 L196.19,76.15 L196.52,77.28 L196.85,78.55 L197.18,79.81 L197.51,81.01 L197.84,82.34 L198.17,83.66 L198.50,84.83 L198.83,85.68 L199.16,86.38 L199.49,87.02 L199.82,87.52 L200.15,87.80 L200.48,87.79 L200.81,87.48 L201.14,86.96 L201.47,86.32 L201.80,85.62 L202.13,84.73 L202.46,83.54 L202.79,82.22 L203.12,80.90 L203.45,79.70 L203.78,78.43 L204.11,77.17 L204.44,76.05 L204.77,75.23 L205.10,74.64 L205.43,74.15 L205.76,73.91 L206.09,74.34 L206.42,75.63 L206.75,77.38 L207.08,80.73 L207.41,84.92 L207.74,88.36 L208.07,91.52 L208.40,94.92 L208.73,99.01 L209.06,103.81 L209.39,108.91 L209.72,113.91 L210.05,118.54 L210.38,123.04 L210.71,127.49 L211.04,131.99 L211.37,136.63 L211.70,141.65 L212.03,146.83 L212.36,151.77 L212.69,156.08 L213.02,159.73 L213.35,162.99 L213.68,165.95 L214.01,168.67 L214.34,171.16 L214.67,173.42 L215.00,175.43 L215.33,177.24 L215.66,178.92 L215.99,180.57 L216.32,182.17 L216.65,183.67 L216.98,184.99 L217.31,186.19 L217.64,187.31 L217.97,188.30 L218.30,189.12 L218.63,189.79 L218.96,190.39 L219.29,190.93 L219.62,191.42 L219.95,191.86 L220.28,192.26 L220.61,192.63 L220.94,192.99 L221.27,193.33 L221.60,193.65 L221.93,193.93 L222.26,194.18 L222.59,194.39 L222.92,194.55 L223.25,194.70 L223.58,194.85 L223.91,194.99 L224.24,195.12 L224.57,195.25 L224.90,195.36 L225.23,195.46 L225.56,195.56 L225.89,195.63 L226.22,195.69 L226.55,195.73 L226.88,195.76 L227.21,195.76 L227.54,195.74 L227.87,195.71 L228.20,195.65 L228.53,195.58 L228.86,195.50 L229.19,195.40 L229.52,195.29 L229.85,195.16 L230.18,195.03 L230.51,194.90 L230.84,194.75 L231.17,194.60 L231.50,194.45 L231.83,194.26 L232.16,194.02 L232.49,193.75 L232.82,193.44 L233.15,193.11 L233.48,192.75 L233.81,192.38 L234.14,192.00 L234.47,191.57 L234.80,191.10 L235.13,190.58 L235.46,190.00 L235.79,189.35 L236.12,188.60 L236.45,187.66 L236.78,186.58 L237.11,185.40 L237.44,184.13 L237.77,182.69 L238.10,181.11 L238.43,179.47 L238.76,177.81 L239.09,176.05 L239.42,174.12 L239.75,171.94 L240.08,169.52 L240.41,166.88 L240.74,164.01 L241.07,160.85 L241.40,157.34 L241.73,153.29 L242.06,148.52 L242.39,143.38 L242.72,138.27 L243.05,133.52 L243.38,128.98 L243.71,124.53 L244.04,120.05 L244.37,115.48 L244.70,110.61 L245.03,105.50 L245.36,100.55 L245.69,96.18 L246.02,92.60 L246.35,89.41 L246.68,86.15 L247.01,82.14 L247.34,78.28 L247.67,76.18 L248.00,74.70 L248.33,73.94 L248.66,74.03 L248.99,74.46 L249.32,75.03 L249.65,75.74 L249.98,76.77 L250.31,78.00 L250.64,79.28 L250.97,80.49 L251.30,81.77 L251.63,83.11 L251.96,84.36 L252.29,85.37 L252.62,86.08 L252.95,86.76 L253.28,87.33 L253.61,87.71 L253.94,87.83 L254.27,87.64 L254.60,87.20 L254.93,86.60 L255.26,85.92 L255.59,85.15 L255.92,84.07 L256.25,82.79 L256.58,81.45 L256.91,80.21 L257.24,78.98 L257.57,77.69 L257.90,76.50 L258.23,75.54 L258.56,74.89 L258.89,74.33 L259.22,73.97 L259.55,74.03 L259.88,75.01 L260.21,76.59 L260.54,79.09 L260.87,83.18 L261.20,86.97 L261.53,90.17 L261.86,93.41 L262.19,97.17 L262.52,101.71 L262.85,106.74 L263.18,111.82 L263.51,116.60 L263.84,121.14 L264.17,125.60 L264.50,130.07 L264.83,134.64 L265.16,139.48 L265.49,144.64 L265.82,149.72 L266.15,154.35 L266.48,158.23 L266.81,161.65 L267.14,164.73 L267.47,167.54 L267.80,170.13 L268.13,172.49 L268.46,174.61 L268.79,176.49 L269.12,178.22 L269.45,179.87 L269.78,181.50 L270.11,183.06 L270.44,184.45 L270.77,185.69 L271.10,186.85 L271.43,187.90 L271.76,188.80 L272.09,189.51 L272.42,190.14 L272.75,190.71 L273.08,191.22" stroke="#2ca02c"/>
<path d="M20.30,182.73 L20.63,182.09 L20.96,181.41 L21.29,180.71 L21.62,179.99 L21.95,179.25 L22.28,178.48 L22.61,177.66 L22.94,176.79 L23.27,175.87 L23.60,174.88 L23.93,173.80 L24.26,172.63 L24.59,171.37 L24.92,170.04 L25.25,168.64 L25.58,167.15 L25.91,165.55 L26.24,163.85 L26.57,162.06 L26.90,160.17 L27.23,158.15 L27.56,156.03 L27.89,153.83 L28.22,151.57 L28.55,149.23 L28.88,146.80 L29.21,144.28 L29.54,141.67 L29.87,138.98 L30.20,136.22 L30.53,133.36 L30.86,130.37 L31.19,127.22 L31.52,123.87 L31.85,120.29 L32.18,116.51 L32.51,112.60 L32.84,108.52 L33.17,103.86 L33.50,99.33 L33.83,95.81 L34.16,93.50 L34.49,91.39 L34.82,88.94 L35.15,86.36 L35.48,83.58 L35.81,80.30 L36.14,76.79 L36.47,74.04 L36.80,71.73 L37.13,70.23 L37.46,69.86 L37.79,69.62 L38.12,69.50 L38.45,69.53 L38.78,69.92 L39.11,70.43 L39.44,70.74 L39.77,70.58 L40.10,70.11 L40.43,69.64 L40.76,69.48 L41.09,69.56 L41.42,69.76 L41.75,70.06 L42.08,71.04 L42.41,73.17 L42.74,75.66 L43.07,78.99 L43.40,82.48 L43.73,85.37 L44.06,88.02 L44.39,90.51 L44.72,92.77 L45.05,94.88 L45.38,97.88 L45.71,102.15 L46.04,106.87 L46.37,111.15 L46.70,115.10 L47.03,118.93 L47.36,122.60 L47.69,126.03 L48.02,129.24 L48.35,132.28 L48.68,135.19 L49.01,137.99 L49.34,140.70 L49.67,143.34 L50.00,145.89 L50.33,148.35 L50.66,150.73 L50.99,153.02 L51.32,155.24 L51.65,157.39 L51.98,159.45 L52.31,161.39 L52.64,163.21 L52.97,164.95 L53.30,166.58 L53.63,168.12 L53.96,169.54 L54.29,170.89 L54.62,172.18 L54.95,173.38 L55.28,174.50 L55.61,175.52 L55.94,176.46 L56.27,177.35 L56.60,178.18 L56.93,178.97 L57.26,179.73 L57.59,180.45 L57.92,181.16 L58.25,181.85 L58.58,182.51 L58.91,183.12 L59.24,183.67 L59.57,184.15 L59.90,184.60 L60.23,185.03 L60.56,185.45 L60.89,185.84 L61.22,186.20 L61.55,186.52 L61.88,186.81 L62.21,187.05 L62.54,187.24 L62.87,187.41 L63.20,187.57 L63.53,187.73 L63.86,187.88 L64.19,188.01 L64.52,188.14 L64.85,188.25 L65.18,188.34 L65.51,188.41 L65.84,188.46 L66.17,188.48 L66.50,188.48 L66.83,188.45 L67.16,188.40 L67.49,188.32 L67.82,188.23 L68.15,188.11 L68.48,187.99 L68.81,187.85 L69.14,187.70 L69.47,187.54 L69.80,187.37 L70.13,187.20 L70.46,187.00 L70.79,186.75 L71.12,186.45 L71.45,186.12 L71.78,185.76 L72.11,185.36 L72.44,184.94 L72.77,184.50 L73.10,184.05 L73.43,183.56 L73.76,182.99 L74.09,182.37 L74.42,181.70 L74.75,181.01 L75.08,180.30 L75.41,179.57 L75.74,178.81 L76.07,178.01 L76.40,177.17 L76.73,176.27 L77.06,175.31 L77.39,174.27 L77.72,173.13 L78.05,171.91 L78.38,170.61 L78.71,169.24 L79.04,167.80 L79.37,166.25 L79.70,164.59 L80.03,162.83 L80.36,160.99 L80.69,159.02 L81.02,156.94 L81.35,154.78 L81.68,152.54 L82.01,150.23 L82.34,147.84 L82.67,145.36 L83.00,142.79 L83.33,140.13 L83.66,137.40 L83.99,134.58 L84.32,131.65 L84.65,128.58 L84.98,125.33 L85.31,121.84 L85.64,118.13 L85.97,114.27 L86.30,110.31 L86.63,105.88 L86.96,101.18 L87.29,97.12 L87.62,94.40 L87.95,92.33 L88.28,89.99 L88.61,87.47 L88.94,84.78 L89.27,81.78 L89.60,78.24 L89.93,75.07 L90.26,72.67 L90.59,70.71 L90.92,69.99 L91.25,69.71 L91.58,69.54 L91.91,69.48 L92.24,69.73 L92.57,70.22 L92.90,70.65 L93.23,70.70 L93.56,70.33 L93.89,69.82 L94.22,69.50 L94.55,69.51 L94.88,69.66 L95.21,69.92 L95.54,70.43 L95.87,72.19 L96.20,74.54 L96.53,77.50 L96.86,81.05 L97.19,84.19 L97.52,86.92 L97.85,89.47 L98.18,91.88 L98.51,93.94 L98.84,96.43 L99.17,100.23 L99.50,104.87 L99.83,109.44 L100.16,113.44 L100.49,117.32 L100.82,121.07 L101.15,124.61 L101.48,127.90 L101.81,131.01 L102.14,133.97 L102.47,136.81 L102.80,139.56 L103.13,142.23 L103.46,144.82 L103.79,147.32 L104.12,149.73 L104.45,152.06 L104.78,154.31 L105.11,156.49 L105.44,158.59 L105.77,160.58 L106.10,162.45 L106.43,164.22 L106.76,165.90 L107.09,167.48 L107.42,168.95 L107.75,170.33 L108.08,171.64 L108.41,172.88 L108.74,174.04 L109.07,175.10 L109.40,176.07 L109.73,176.98 L110.06,177.84 L110.39,178.64 L110.72,179.41 L111.05,180.15 L111.38,180.86 L111.71,181.56 L112.04,182.23 L112.37,182.86 L112.70,183.44 L113.03,183.95 L113.36,184.41 L113.69,184.85 L114.02,185.27 L114.35,185.67 L114.68,186.05 L115.01,186.39 L115.34,186.69 L115.67,186.95 L116.00,187.16 L116.33,187.34 L116.66,187.50 L116.99,187.66 L117.32,187.82 L117.65,187.96 L117.98,188.09 L118.31,188.20 L118.64,188.30 L118.97,188.38 L119.30,188.44 L119.63,188.47 L119.96,188.48 L120.29,188.46 L120.62,188.42 L120.95,188.35 L121.28,188.27 L121.61,188.16 L121.94,188.04 L122.27,187.91 L122.60,187.76 L122.93,187.60 L123.26,187.44 L123.59,187.27 L123.92,187.09 L124.25,186.86 L124.58,186.58 L124.91,186.27 L125.24,185.91 L125.57,185.53 L125.90,185.12 L126.23,184.69 L126.56,184.24 L126.89,183.78 L127.22,183.24 L127.55,182.64 L127.88,181.99 L128.21,181.31 L128.54,180.60 L128.87,179.88 L129.20,179.14 L129.53,178.36 L129.86,177.53 L130.19,176.66 L130.52,175.73 L130.85,174.72 L131.18,173.63 L131.51,172.44 L131.84,171.17 L132.17,169.83 L132.50,168.43 L132.83,166.92 L133.16,165.30 L133.49,163.59 L133.82,161.79 L134.15,159.87 L134.48,157.84 L134.81,155.71 L135.14,153.49 L135.47,151.22 L135.80,148.87 L136.13,146.42 L136.46,143.89 L136.79,141.27 L137.12,138.57 L137.45,135.79 L137.78,132.91 L138.11,129.90 L138.44,126.73 L138.77,123.35 L139.10,119.73 L139.43,115.92 L139.76,112.00 L140.09,107.84 L140.42,103.15 L140.75,98.70 L141.08,95.41 L141.41,93.20 L141.74,91.03 L142.07,88.56 L142.40,85.95 L142.73,83.14 L143.06,79.76 L143.39,76.31 L143.72,73.68 L144.05,71.43 L144.38,70.14 L144.71,69.82 L145.04,69.60 L145.37,69.49 L145.70,69.57 L146.03,70.00 L146.36,70.50 L146.69,70.74 L147.02,70.52 L147.35,70.03 L147.68,69.59 L148.01,69.49 L148.34,69.59 L148.67,69.80 L149.00,70.11 L149.33,71.31 L149.66,73.53 L149.99,76.12 L150.32,79.54 L150.65,82.95 L150.98,85.78 L151.31,88.41 L151.64,90.88 L151.97,93.08 L152.30,95.25 L152.63,98.46 L152.96,102.86 L153.29,107.57 L153.62,111.76 L153.95,115.69 L154.28,119.50 L154.61,123.13 L154.94,126.53 L155.27,129.71 L155.60,132.73 L155.93,135.62 L156.26,138.40 L156.59,141.11 L156.92,143.73 L157.25,146.27 L157.58,148.72 L157.91,151.08 L158.24,153.36 L158.57,155.57 L158.90,157.71 L159.23,159.75 L159.56,161.67 L159.89,163.48 L160.22,165.20 L160.55,166.82 L160.88,168.34 L161.21,169.75 L161.54,171.09 L161.87,172.37 L162.20,173.56 L162.53,174.66 L162.86,175.67 L163.19,176.60 L163.52,177.48 L163.85,178.31 L164.18,179.09 L164.51,179.84 L164.84,180.56 L165.17,181.26 L165.50,181.95 L165.83,182.60 L166.16,183.20 L166.49,183.75 L166.82,184.22 L167.15,184.66 L167.48,185.10 L167.81,185.51 L168.14,185.89 L168.47,186.25 L168.80,186.57 L169.13,186.85 L169.46,187.08 L169.79,187.26 L170.12,187.43 L170.45,187.60 L170.78,187.75 L171.11,187.90 L171.44,188.03 L171.77,188.16 L172.10,188.26 L172.43,188.35 L172.76,188.42 L173.09,188.46 L173.42,188.48 L173.75,188.48 L174.08,188.44 L174.41,188.39 L174.74,188.31 L175.07,188.21 L175.40,188.10 L175.73,187.97 L176.06,187.82 L176.39,187.67 L176.72,187.51 L177.05,187.35 L177.38,187.17 L177.71,186.96 L178.04,186.71 L178.37,186.41 L178.70,186.07 L179.03,185.70 L179.36,185.30 L179.69,184.88 L180.02,184.44 L180.35,183.98 L180.68,183.47 L181.01,182.90 L181.34,182.27 L181.67,181.60 L182.00,180.90 L182.33,180.19 L182.66,179.46 L182.99,178.69 L183.32,177.89 L183.65,177.03 L183.98,176.13 L184.31,175.16 L184.64,174.11 L184.97,172.95 L185.30,171.72 L185.63,170.41 L185.96,169.03 L186.29,167.57 L186.62,166.00 L186.95,164.33 L187.28,162.56 L187.61,160.70 L187.94,158.72 L188.27,156.62 L188.60,154.44 L188.93,152.20 L189.26,149.88 L189.59,147.47 L189.92,144.97 L190.25,142.39 L190.58,139.72 L190.91,136.98 L191.24,134.15 L191.57,131.20 L191.90,128.10 L192.23,124.81 L192.56,121.29 L192.89,117.56 L193.22,113.67 L193.55,109.69 L193.88,105.16 L194.21,100.50 L194.54,96.62 L194.87,94.07 L195.20,92.01 L195.53,89.62 L195.86,87.08 L196.19,84.36 L196.52,81.26 L196.85,77.71 L197.18,74.69 L197.51,72.32 L197.84,70.50 L198.17,69.94 L198.50,69.68 L198.83,69.52 L199.16,69.49 L199.49,69.79 L199.82,70.30 L200.15,70.69 L200.48,70.67 L200.81,70.25 L201.14,69.75 L201.47,69.48 L201.80,69.53 L202.13,69.70 L202.46,69.97 L202.79,70.62 L203.12,72.53 L203.45,74.91 L203.78,78.03 L204.11,81.57 L204.44,84.61 L204.77,87.31 L205.10,89.85 L205.43,92.20 L205.76,94.26 L206.09,96.91 L206.42,100.91 L206.75,105.59 L207.08,110.06 L207.41,114.03 L207.74,117.90 L208.07,121.62 L208.40,125.12 L208.73,128.38 L209.06,131.47 L209.39,134.41 L209.72,137.23 L210.05,139.97 L210.38,142.63 L210.71,145.20 L211.04,147.69 L211.37,150.09 L211.70,152.40 L212.03,154.64 L212.36,156.82 L212.69,158.90 L213.02,160.87 L213.35,162.72 L213.68,164.48 L214.01,166.15 L214.34,167.71 L214.67,169.16 L215.00,170.53 L215.33,171.83 L215.66,173.06 L215.99,174.21 L216.32,175.25 L216.65,176.21 L216.98,177.11 L217.31,177.96 L217.64,178.76 L217.97,179.52 L218.30,180.25 L218.63,180.97 L218.96,181.66 L219.29,182.33 L219.62,182.95 L219.95,183.52 L220.28,184.02 L220.61,184.48 L220.94,184.91 L221.27,185.34 L221.60,185.73 L221.93,186.10 L222.26,186.44 L222.59,186.73 L222.92,186.99 L223.25,187.19 L223.58,187.36 L223.91,187.53 L224.24,187.69 L224.57,187.84 L224.90,187.98 L225.23,188.11 L225.56,188.22 L225.89,188.32 L226.22,188.39 L226.55,188.45 L226.88,188.48 L227.21,188.48 L227.54,188.46 L227.87,188.41 L228.20,188.34 L228.53,188.25 L228.86,188.15 L229.19,188.02 L229.52,187.89 L229.85,187.74 L230.18,187.58 L230.51,187.42 L230.84,187.25 L231.17,187.06 L231.50,186.82 L231.83,186.54 L232.16,186.22 L232.49,185.86 L232.82,185.47 L233.15,185.06 L233.48,184.62 L233.81,184.18 L234.14,183.70 L234.47,183.15 L234.80,182.54 L235.13,181.89 L235.46,181.20 L235.79,180.49 L236.12,179.77 L236.45,179.02 L236.78,178.23 L237.11,177.40 L237.44,176.52 L237.77,175.58 L238.10,174.56 L238.43,173.45 L238.76,172.25 L239.09,170.97 L239.42,169.62 L239.75,168.21 L240.08,166.68 L240.41,165.05 L240.74,163.32 L241.07,161.50 L241.40,159.57 L241.73,157.52 L242.06,155.38 L242.39,153.15 L242.72,150.87 L243.05,148.50 L243.38,146.04 L243.71,143.49 L244.04,140.86 L244.37,138.15 L244.70,135.36 L245.03,132.46 L245.36,129.43 L245.69,126.23 L246.02,122.81 L246.35,119.16 L246.68,115.34 L247.01,111.39 L247.34,107.15 L247.67,102.43 L248.00,98.11 L248.33,95.03 L248.66,92.89 L248.99,90.66 L249.32,88.17 L249.65,85.54 L249.98,82.67 L250.31,79.21 L250.64,75.84 L250.97,73.32 L251.30,71.15 L251.63,70.08 L251.96,69.78 L252.29,69.57 L252.62,69.48 L252.95,69.62 L253.28,70.08 L253.61,70.56 L253.94,70.74 L254.27,70.46 L254.60,69.96 L254.93,69.55 L255.26,69.49 L255.59,69.61 L255.92,69.84 L256.25,70.19 L256.58,71.61 L256.91,73.90 L257.24,76.59 L257.57,80.08 L257.90,83.40 L258.23,86.19 L258.56,88.79 L258.89,91.24 L259.22,93.38 L259.55,95.64 L259.88,99.07 L260.21,103.58 L260.54,108.25 L260.87,112.36 L261.20,116.28 L261.53,120.06 L261.86,123.66 L262.19,127.02 L262.52,130.18 L262.85,133.18 L263.18,136.05 L263.51,138.82 L263.84,141.51 L264.17,144.12 L264.50,146.65 L264.83,149.08 L265.16,151.43 L265.49,153.70 L265.82,155.90 L266.15,158.03 L266.48,160.05 L266.81,161.95 L267.14,163.75 L267.47,165.45 L267.80,167.06 L268.13,168.56 L268.46,169.96 L268.79,171.29 L269.12,172.55 L269.45,173.73 L269.78,174.82 L270.11,175.81 L270.44,176.74 L270.77,177.61 L271.10,178.43 L271.43,179.21 L271.76,179.95 L272.09,180.67 L272.42,181.37 L272.75,182.05 L273.08,182.70" stroke="#d62728"/>
<path d="M20.30,180.45 L20.63,179.93 L20.96,179.37 L21.29,178.78 L21.62,178.12 L21.95,177.41 L22.28,176.65 L22.61,175.85 L22.94,175.03 L23.27,174.17 L23.60,173.27 L23.93,172.31 L24.26,171.30 L24.59,170.22 L24.92,169.06 L25.25,167.80 L25.58,166.43 L25.91,164.98 L26.24,163.45 L26.57,161.83 L26.90,160.10 L27.23,158.27 L27.56,156.38 L27.89,154.45 L28.22,152.47 L28.55,150.42 L28.88,148.27 L29.21,146.00 L29.54,143.53 L29.87,140.88 L30.20,138.15 L30.53,135.42 L30.86,132.79 L31.19,130.28 L31.52,127.79 L31.85,125.22 L32.18,122.46 L32.51,119.38 L32.84,115.96 L33.17,112.35 L33.50,108.73 L33.83,105.09 L34.16,101.40 L34.49,97.72 L34.82,94.17 L35.15,90.89 L35.48,87.52 L35.81,83.55 L36.14,78.57 L36.47,73.67 L36.80,69.44 L37.13,65.49 L37.46,62.22 L37.79,59.60 L38.12,57.35 L38.45,55.73 L38.78,54.65 L39.11,53.78 L39.44,53.35 L39.77,53.56 L40.10,54.30 L40.43,55.32 L40.76,56.67 L41.09,58.73 L41.42,61.24 L41.75,64.20 L42.08,67.95 L42.41,72.12 L42.74,76.70 L43.07,81.81 L43.40,86.18 L43.73,89.70 L44.06,92.96 L44.39,96.40 L44.72,100.05 L45.05,103.75 L45.38,107.42 L45.71,111.02 L46.04,114.66 L46.37,118.17 L46.70,121.38 L47.03,124.24 L47.36,126.87 L47.69,129.38 L48.02,131.87 L48.35,134.44 L48.68,137.15 L49.01,139.89 L49.34,142.59 L49.67,145.13 L50.00,147.46 L50.33,149.65 L50.66,151.74 L50.99,153.74 L51.32,155.68 L51.65,157.59 L51.98,159.44 L52.31,161.22 L52.64,162.88 L52.97,164.43 L53.30,165.91 L53.63,167.31 L53.96,168.62 L54.29,169.81 L54.62,170.91 L54.95,171.95 L55.28,172.93 L55.61,173.85 L55.94,174.72 L56.27,175.56 L56.60,176.36 L56.93,177.14 L57.26,177.87 L57.59,178.55 L57.92,179.16 L58.25,179.73 L58.58,180.26 L58.91,180.77 L59.24,181.25 L59.57,181.70 L59.90,182.12 L60.23,182.50 L60.56,182.85 L60.89,183.17 L61.22,183.49 L61.55,183.79 L61.88,184.07 L62.21,184.33 L62.54,184.57 L62.87,184.78 L63.20,184.95 L63.53,185.11 L63.86,185.25 L64.19,185.39 L64.52,185.52 L64.85,185.64 L65.18,185.74 L65.51,185.83 L65.84,185.89 L66.17,185.94 L66.50,185.93 L66.83,185.88 L67.16,185.81 L67.49,185.72 L67.82,185.61 L68.15,185.49 L68.48,185.36 L68.81,185.22 L69.14,185.07 L69.47,184.92 L69.80,184.74 L70.13,184.52 L70.46,184.28 L70.79,184.02 L71.12,183.73 L71.45,183.42 L71.78,183.11 L72.11,182.78 L72.44,182.42 L72.77,182.03 L73.10,181.61 L73.43,181.15 L73.76,180.67 L74.09,180.15 L74.42,179.61 L74.75,179.04 L75.08,178.41 L75.41,177.72 L75.74,176.98 L76.07,176.19 L76.40,175.38 L76.73,174.54 L77.06,173.66 L77.39,172.72 L77.72,171.73 L78.05,170.68 L78.38,169.56 L78.71,168.35 L79.04,167.02 L79.37,165.60 L79.70,164.10 L80.03,162.53 L80.36,160.85 L80.69,159.06 L81.02,157.19 L81.35,155.27 L81.68,153.32 L82.01,151.30 L82.34,149.20 L82.67,146.98 L83.00,144.61 L83.33,142.03 L83.66,139.31 L83.99,136.57 L84.32,133.89 L84.65,131.34 L84.98,128.85 L85.31,126.33 L85.64,123.66 L85.97,120.74 L86.30,117.44 L86.63,113.89 L86.96,110.25 L87.29,106.65 L87.62,102.97 L87.95,99.27 L88.28,95.65 L88.61,92.27 L88.94,88.99 L89.27,85.35 L89.60,80.75 L89.93,75.65 L90.26,71.22 L90.59,67.11 L90.92,63.50 L91.25,60.68 L91.58,58.24 L91.91,56.32 L92.24,55.10 L92.57,54.11 L92.90,53.46 L93.23,53.39 L93.56,53.94 L93.89,54.87 L94.22,56.01 L94.55,57.79 L94.88,60.13 L95.21,62.84 L95.54,66.29 L95.87,70.32 L96.20,74.63 L96.53,79.66 L96.86,84.48 L97.19,88.27 L97.52,91.58 L97.85,94.90 L98.18,98.49 L98.51,102.18 L98.84,105.87 L99.17,109.49 L99.50,113.12 L99.83,116.71 L100.16,120.07 L100.49,123.06 L100.82,125.78 L101.15,128.32 L101.48,130.81 L101.81,133.33 L102.14,135.99 L102.47,138.73 L102.80,141.46 L103.13,144.08 L103.46,146.49 L103.79,148.74 L104.12,150.86 L104.45,152.90 L104.78,154.86 L105.11,156.79 L105.44,158.67 L105.77,160.48 L106.10,162.19 L106.43,163.78 L106.76,165.29 L107.09,166.73 L107.42,168.08 L107.75,169.32 L108.08,170.45 L108.41,171.52 L108.74,172.52 L109.07,173.46 L109.40,174.36 L109.73,175.20 L110.06,176.02 L110.39,176.81 L110.72,177.56 L111.05,178.26 L111.38,178.91 L111.71,179.49 L112.04,180.04 L112.37,180.56 L112.70,181.05 L113.03,181.52 L113.36,181.95 L113.69,182.34 L114.02,182.70 L114.35,183.04 L114.68,183.36 L115.01,183.67 L115.34,183.96 L115.67,184.23 L116.00,184.47 L116.33,184.69 L116.66,184.88 L116.99,185.04 L117.32,185.19 L117.65,185.33 L117.98,185.47 L118.31,185.59 L118.64,185.70 L118.97,185.79 L119.30,185.87 L119.63,185.92 L119.96,185.95 L120.29,185.91 L120.62,185.84 L120.95,185.76 L121.28,185.66 L121.61,185.55 L121.94,185.42 L122.27,185.28 L122.60,185.14 L122.93,184.99 L123.26,184.82 L123.59,184.62 L123.92,184.39 L124.25,184.13 L124.58,183.85 L124.91,183.56 L125.24,183.24 L125.57,182.92 L125.90,182.58 L126.23,182.20 L126.56,181.79 L126.89,181.35 L127.22,180.88 L127.55,180.38 L127.88,179.84 L128.21,179.29 L128.54,178.68 L128.87,178.02 L129.20,177.30 L129.53,176.53 L129.86,175.73 L130.19,174.90 L130.52,174.04 L130.85,173.13 L131.18,172.16 L131.51,171.14 L131.84,170.05 L132.17,168.88 L132.50,167.60 L132.83,166.22 L133.16,164.75 L133.49,163.21 L133.82,161.58 L134.15,159.83 L134.48,157.99 L134.81,156.09 L135.14,154.16 L135.47,152.17 L135.80,150.10 L136.13,147.94 L136.46,145.64 L136.79,143.14 L137.12,140.47 L137.45,137.73 L137.78,135.01 L138.11,132.40 L138.44,129.90 L138.77,127.41 L139.10,124.81 L139.43,122.02 L139.76,118.88 L140.09,115.42 L140.42,111.79 L140.75,108.18 L141.08,104.54 L141.41,100.83 L141.74,97.17 L142.07,93.67 L142.40,90.40 L142.73,86.97 L143.06,82.84 L143.39,77.78 L143.72,73.02 L144.05,68.81 L144.38,64.94 L144.71,61.80 L145.04,59.23 L145.37,57.06 L145.70,55.55 L146.03,54.50 L146.36,53.68 L146.69,53.34 L147.02,53.64 L147.35,54.44 L147.68,55.49 L148.01,56.95 L148.34,59.08 L148.67,61.64 L149.00,64.73 L149.33,68.56 L149.66,72.76 L149.99,77.47 L150.32,82.55 L150.65,86.75 L150.98,90.20 L151.31,93.46 L151.64,96.95 L151.97,100.61 L152.30,104.31 L152.63,107.97 L152.96,111.57 L153.29,115.20 L153.62,118.68 L153.95,121.84 L154.28,124.65 L154.61,127.26 L154.94,129.75 L155.27,132.25 L155.60,134.85 L155.93,137.56 L156.26,140.31 L156.59,142.98 L156.92,145.50 L157.25,147.80 L157.58,149.97 L157.91,152.04 L158.24,154.04 L158.57,155.98 L158.90,157.88 L159.23,159.72 L159.56,161.47 L159.89,163.12 L160.22,164.66 L160.55,166.13 L160.88,167.52 L161.21,168.80 L161.54,169.98 L161.87,171.07 L162.20,172.10 L162.53,173.07 L162.86,173.98 L163.19,174.85 L163.52,175.68 L163.85,176.48 L164.18,177.25 L164.51,177.97 L164.84,178.64 L165.17,179.25 L165.50,179.81 L165.83,180.34 L166.16,180.85 L166.49,181.32 L166.82,181.77 L167.15,182.18 L167.48,182.55 L167.81,182.90 L168.14,183.22 L168.47,183.54 L168.80,183.84 L169.13,184.11 L169.46,184.37 L169.79,184.60 L170.12,184.81 L170.45,184.98 L170.78,185.13 L171.11,185.27 L171.44,185.41 L171.77,185.54 L172.10,185.65 L172.43,185.75 L172.76,185.84 L173.09,185.90 L173.42,185.94 L173.75,185.93 L174.08,185.87 L174.41,185.80 L174.74,185.70 L175.07,185.60 L175.40,185.47 L175.73,185.34 L176.06,185.20 L176.39,185.05 L176.72,184.89 L177.05,184.71 L177.38,184.49 L177.71,184.24 L178.04,183.97 L178.37,183.68 L178.70,183.38 L179.03,183.06 L179.36,182.72 L179.69,182.37 L180.02,181.97 L180.35,181.54 L180.68,181.08 L181.01,180.59 L181.34,180.07 L181.67,179.53 L182.00,178.95 L182.33,178.31 L182.66,177.61 L182.99,176.86 L183.32,176.07 L183.65,175.25 L183.98,174.41 L184.31,173.52 L184.64,172.58 L184.97,171.58 L185.30,170.52 L185.63,169.39 L185.96,168.15 L186.29,166.81 L186.62,165.38 L186.95,163.87 L187.28,162.29 L187.61,160.58 L187.94,158.78 L188.27,156.90 L188.60,154.98 L188.93,153.02 L189.26,150.99 L189.59,148.87 L189.92,146.63 L190.25,144.23 L190.58,141.62 L190.91,138.90 L191.24,136.16 L191.57,133.49 L191.90,130.96 L192.23,128.47 L192.56,125.93 L192.89,123.23 L193.22,120.26 L193.55,116.92 L193.88,113.34 L194.21,109.70 L194.54,106.10 L194.87,102.41 L195.20,98.71 L195.53,95.11 L195.86,91.78 L196.19,88.47 L196.52,84.74 L196.85,79.97 L197.18,74.92 L197.51,70.58 L197.84,66.52 L198.17,63.02 L198.50,60.29 L198.83,57.91 L199.16,56.09 L199.49,54.93 L199.82,53.99 L200.15,53.41 L200.48,53.44 L200.81,54.06 L201.14,55.03 L201.47,56.23 L201.80,58.11 L202.13,60.52 L202.46,63.31 L202.79,66.87 L203.12,70.96 L203.45,75.35 L203.78,80.44 L204.11,85.11 L204.44,88.79 L204.77,92.07 L205.10,95.43 L205.43,99.05 L205.76,102.74 L206.09,106.43 L206.42,110.03 L206.75,113.67 L207.08,117.24 L207.41,120.55 L207.74,123.49 L208.07,126.17 L208.40,128.70 L208.73,131.18 L209.06,133.73 L209.39,136.40 L209.72,139.15 L210.05,141.86 L210.38,144.46 L210.71,146.84 L211.04,149.07 L211.37,151.18 L211.70,153.20 L212.03,155.16 L212.36,157.08 L212.69,158.95 L213.02,160.74 L213.35,162.44 L213.68,164.01 L214.01,165.51 L214.34,166.94 L214.67,168.27 L215.00,169.49 L215.33,170.62 L215.66,171.67 L215.99,172.67 L216.32,173.60 L216.65,174.49 L216.98,175.33 L217.31,176.15 L217.64,176.93 L217.97,177.67 L218.30,178.37 L218.63,179.00 L218.96,179.58 L219.29,180.12 L219.62,180.64 L219.95,181.13 L220.28,181.58 L220.61,182.01 L220.94,182.40 L221.27,182.76 L221.60,183.09 L221.93,183.41 L222.26,183.71 L222.59,184.00 L222.92,184.27 L223.25,184.51 L223.58,184.72 L223.91,184.91 L224.24,185.06 L224.57,185.21 L224.90,185.35 L225.23,185.48 L225.56,185.61 L225.89,185.71 L226.22,185.81 L226.55,185.88 L226.88,185.93 L227.21,185.94 L227.54,185.90 L227.87,185.83 L228.20,185.75 L228.53,185.64 L228.86,185.53 L229.19,185.40 L229.52,185.26 L229.85,185.11 L230.18,184.96 L230.51,184.79 L230.84,184.58 L231.17,184.35 L231.50,184.09 L231.83,183.81 L232.16,183.51 L232.49,183.19 L232.82,182.87 L233.15,182.52 L233.48,182.14 L233.81,181.73 L234.14,181.28 L234.47,180.80 L234.80,180.30 L235.13,179.76 L235.46,179.20 L235.79,178.59 L236.12,177.91 L236.45,177.18 L236.78,176.41 L237.11,175.60 L237.44,174.77 L237.77,173.90 L238.10,172.98 L238.43,172.01 L238.76,170.98 L239.09,169.88 L239.42,168.69 L239.75,167.40 L240.08,166.00 L240.41,164.52 L240.74,162.97 L241.07,161.32 L241.40,159.55 L241.73,157.71 L242.06,155.80 L242.39,153.86 L242.72,151.86 L243.05,149.78 L243.38,147.60 L243.71,145.28 L244.04,142.75 L244.37,140.06 L244.70,137.31 L245.03,134.61 L245.36,132.02 L245.69,129.53 L246.02,127.02 L246.35,124.41 L246.68,121.57 L247.01,118.38 L247.34,114.88 L247.67,111.24 L248.00,107.64 L248.33,103.98 L248.66,100.27 L248.99,96.62 L249.32,93.16 L249.65,89.90 L249.98,86.41 L250.31,82.11 L250.64,77.01 L250.97,72.38 L251.30,68.19 L251.63,64.41 L251.96,61.40 L252.29,58.87 L252.62,56.78 L252.95,55.39 L253.28,54.36 L253.61,53.59 L253.94,53.34 L254.27,53.74 L254.60,54.59 L254.93,55.66 L255.26,57.23 L255.59,59.45 L255.92,62.05 L256.25,65.27 L256.58,69.19 L256.91,73.41 L257.24,78.25 L257.57,83.27 L257.90,87.30 L258.23,90.70 L258.56,93.97 L258.89,97.50 L259.22,101.17 L259.55,104.87 L259.88,108.51 L260.21,112.13 L260.54,115.74 L260.87,119.18 L261.20,122.28 L261.53,125.06 L261.86,127.64 L262.19,130.13 L262.52,132.63 L262.85,135.25 L263.18,137.98 L263.51,140.72 L263.84,143.38 L264.17,145.86 L264.50,148.14 L264.83,150.29 L265.16,152.35 L265.49,154.33 L265.82,156.27 L266.15,158.16 L266.48,159.99 L266.81,161.73 L267.14,163.35 L267.47,164.88 L267.80,166.35 L268.13,167.72 L268.46,168.99 L268.79,170.15 L269.12,171.23 L269.45,172.25 L269.78,173.21 L270.11,174.12 L270.44,174.98 L270.77,175.80 L271.10,176.60 L271.43,177.36 L271.76,178.08 L272.09,178.74 L272.42,179.34 L272.75,179.89 L273.08,180.42" stroke="#9467bd"/>
<path d="M20.30,179.71 L20.63,179.23 L20.96,178.73 L21.29,178.21 L21.62,177.63 L21.95,177.01 L22.28,176.36 L22.61,175.69 L22.94,175.00 L23.27,174.30 L23.60,173.58 L23.93,172.84 L24.26,172.06 L24.59,171.23 L24.92,170.35 L25.25,169.39 L25.58,168.34 L25.91,167.21 L26.24,166.03 L26.57,164.80 L26.90,163.51 L27.23,162.15 L27.56,160.73 L27.89,159.24 L28.22,157.70 L28.55,156.12 L28.88,154.44 L29.21,152.60 L29.54,150.55 L29.87,148.19 L30.20,145.58 L30.53,142.82 L30.86,139.99 L31.19,137.16 L31.52,134.28 L31.85,131.30 L32.18,128.18 L32.51,124.86 L32.84,121.32 L33.17,117.53 L33.50,113.51 L33.83,109.24 L34.16,104.73 L34.49,100.12 L34.82,94.82 L35.15,87.42 L35.48,76.35 L35.81,67.84 L36.14,62.19 L36.47,56.94 L36.80,51.62 L37.13,46.55 L37.46,41.46 L37.79,37.60 L38.12,34.81 L38.45,32.57 L38.78,30.77 L39.11,29.05 L39.44,28.05 L39.77,28.55 L40.10,30.12 L40.43,31.87 L40.76,33.94 L41.09,36.51 L41.42,39.82 L41.75,44.69 L42.08,49.75 L42.41,54.98 L42.74,60.32 L43.07,65.63 L43.40,72.64 L43.73,83.54 L44.06,92.55 L44.39,98.32 L44.72,103.08 L45.05,107.63 L45.38,111.99 L45.71,116.10 L46.04,119.97 L46.37,123.60 L46.70,126.99 L47.03,130.18 L47.36,133.21 L47.69,136.12 L48.02,138.96 L48.35,141.80 L48.68,144.59 L49.01,147.26 L49.34,149.72 L49.67,151.88 L50.00,153.79 L50.33,155.52 L50.66,157.13 L50.99,158.69 L51.32,160.20 L51.65,161.64 L51.98,163.02 L52.31,164.34 L52.64,165.58 L52.97,166.79 L53.30,167.94 L53.63,169.02 L53.96,170.01 L54.29,170.92 L54.62,171.76 L54.95,172.56 L55.28,173.31 L55.61,174.04 L55.94,174.75 L56.27,175.44 L56.60,176.12 L56.93,176.78 L57.26,177.41 L57.59,178.00 L57.92,178.55 L58.25,179.05 L58.58,179.54 L58.91,180.00 L59.24,180.44 L59.57,180.86 L59.90,181.24 L60.23,181.58 L60.56,181.89 L60.89,182.18 L61.22,182.46 L61.55,182.72 L61.88,182.97 L62.21,183.19 L62.54,183.39 L62.87,183.56 L63.20,183.70 L63.53,183.81 L63.86,183.91 L64.19,184.01 L64.52,184.10 L64.85,184.19 L65.18,184.25 L65.51,184.31 L65.84,184.35 L66.17,184.37 L66.50,184.36 L66.83,184.34 L67.16,184.30 L67.49,184.24 L67.82,184.17 L68.15,184.08 L68.48,183.99 L68.81,183.89 L69.14,183.79 L69.47,183.68 L69.80,183.53 L70.13,183.35 L70.46,183.15 L70.79,182.92 L71.12,182.67 L71.45,182.40 L71.78,182.12 L72.11,181.83 L72.44,181.51 L72.77,181.16 L73.10,180.77 L73.43,180.35 L73.76,179.90 L74.09,179.43 L74.42,178.94 L74.75,178.44 L75.08,177.88 L75.41,177.28 L75.74,176.64 L76.07,175.98 L76.40,175.29 L76.73,174.60 L77.06,173.89 L77.39,173.16 L77.72,172.39 L78.05,171.59 L78.38,170.73 L78.71,169.81 L79.04,168.80 L79.37,167.70 L79.70,166.54 L80.03,165.32 L80.36,164.06 L80.69,162.74 L81.02,161.34 L81.35,159.88 L81.68,158.36 L82.01,156.80 L82.34,155.17 L82.67,153.40 L83.00,151.45 L83.33,149.22 L83.66,146.71 L83.99,144.01 L84.32,141.20 L84.65,138.36 L84.98,135.51 L85.31,132.58 L85.64,129.52 L85.97,126.29 L86.30,122.85 L86.63,119.17 L86.96,115.25 L87.29,111.08 L87.62,106.67 L87.95,102.11 L88.28,97.22 L88.61,91.10 L88.94,81.14 L89.27,70.80 L89.60,64.44 L89.93,59.22 L90.26,53.85 L90.59,48.67 L90.92,43.59 L91.25,38.99 L91.58,35.92 L91.91,33.46 L92.24,31.49 L92.57,29.74 L92.90,28.32 L93.23,28.15 L93.56,29.38 L93.89,31.13 L94.22,33.00 L94.55,35.35 L94.88,38.27 L95.21,42.51 L95.54,47.61 L95.87,52.73 L96.20,58.08 L96.53,63.30 L96.86,69.25 L97.19,78.71 L97.52,89.41 L97.85,96.05 L98.18,101.13 L98.51,105.70 L98.84,110.17 L99.17,114.39 L99.50,118.36 L99.83,122.09 L100.16,125.58 L100.49,128.85 L100.82,131.94 L101.15,134.90 L101.48,137.76 L101.81,140.59 L102.14,143.42 L102.47,146.15 L102.80,148.71 L103.13,151.01 L103.46,153.01 L103.79,154.80 L104.12,156.46 L104.45,158.03 L104.78,159.56 L105.11,161.04 L105.44,162.45 L105.77,163.79 L106.10,165.06 L106.43,166.28 L106.76,167.46 L107.09,168.57 L107.42,169.60 L107.75,170.54 L108.08,171.41 L108.41,172.23 L108.74,173.00 L109.07,173.74 L109.40,174.45 L109.73,175.15 L110.06,175.83 L110.39,176.50 L110.72,177.15 L111.05,177.76 L111.38,178.32 L111.71,178.84 L112.04,179.33 L112.37,179.81 L112.70,180.26 L113.03,180.68 L113.36,181.08 L113.69,181.44 L114.02,181.76 L114.35,182.06 L114.68,182.34 L115.01,182.61 L115.34,182.87 L115.67,183.10 L116.00,183.31 L116.33,183.50 L116.66,183.65 L116.99,183.76 L117.32,183.87 L117.65,183.97 L117.98,184.07 L118.31,184.15 L118.64,184.23 L118.97,184.29 L119.30,184.33 L119.63,184.36 L119.96,184.37 L120.29,184.35 L120.62,184.32 L120.95,184.27 L121.28,184.20 L121.61,184.12 L121.94,184.03 L122.27,183.93 L122.60,183.83 L122.93,183.73 L123.26,183.60 L123.59,183.43 L123.92,183.24 L124.25,183.02 L124.58,182.78 L124.91,182.51 L125.24,182.24 L125.57,181.95 L125.90,181.65 L126.23,181.31 L126.56,180.94 L126.89,180.53 L127.22,180.10 L127.55,179.64 L127.88,179.15 L128.21,178.66 L128.54,178.12 L128.87,177.54 L129.20,176.92 L129.53,176.26 L129.86,175.59 L130.19,174.89 L130.52,174.19 L130.85,173.47 L131.18,172.72 L131.51,171.93 L131.84,171.10 L132.17,170.21 L132.50,169.24 L132.83,168.18 L133.16,167.04 L133.49,165.84 L133.82,164.61 L134.15,163.31 L134.48,161.94 L134.81,160.51 L135.14,159.01 L135.47,157.47 L135.80,155.87 L136.13,154.17 L136.46,152.31 L136.79,150.21 L137.12,147.81 L137.45,145.17 L137.78,142.40 L138.11,139.56 L138.44,136.73 L138.77,133.84 L139.10,130.84 L139.43,127.69 L139.76,124.34 L140.09,120.76 L140.42,116.94 L140.75,112.88 L141.08,108.57 L141.41,104.04 L141.74,99.39 L142.07,93.90 L142.40,85.86 L142.73,74.73 L143.06,66.89 L143.39,61.41 L143.72,56.12 L144.05,50.84 L144.38,45.78 L144.71,40.75 L145.04,37.13 L145.37,34.44 L145.70,32.27 L146.03,30.50 L146.36,28.83 L146.69,28.02 L147.02,28.74 L147.35,30.39 L147.68,32.16 L148.01,34.29 L148.34,36.95 L148.67,40.48 L149.00,45.47 L149.33,50.53 L149.66,55.79 L149.99,61.10 L150.32,66.52 L150.65,74.11 L150.98,85.21 L151.31,93.52 L151.64,99.09 L151.97,103.77 L152.30,108.30 L152.63,112.63 L152.96,116.70 L153.29,120.53 L153.62,124.13 L153.95,127.49 L154.28,130.65 L154.61,133.66 L154.94,136.56 L155.27,139.39 L155.60,142.23 L155.93,145.01 L156.26,147.65 L156.59,150.07 L156.92,152.19 L157.25,154.06 L157.58,155.77 L157.91,157.37 L158.24,158.92 L158.57,160.42 L158.90,161.86 L159.23,163.23 L159.56,164.53 L159.89,165.77 L160.22,166.97 L160.55,168.11 L160.88,169.18 L161.21,170.15 L161.54,171.05 L161.87,171.89 L162.20,172.67 L162.53,173.43 L162.86,174.15 L163.19,174.85 L163.52,175.54 L163.85,176.22 L164.18,176.88 L164.51,177.50 L164.84,178.09 L165.17,178.63 L165.50,179.12 L165.83,179.61 L166.16,180.07 L166.49,180.51 L166.82,180.92 L167.15,181.29 L167.48,181.63 L167.81,181.93 L168.14,182.22 L168.47,182.50 L168.80,182.76 L169.13,183.00 L169.46,183.23 L169.79,183.42 L170.12,183.59 L170.45,183.72 L170.78,183.83 L171.11,183.93 L171.44,184.03 L171.77,184.12 L172.10,184.20 L172.43,184.26 L172.76,184.32 L173.09,184.35 L173.42,184.37 L173.75,184.36 L174.08,184.34 L174.41,184.29 L174.74,184.23 L175.07,184.16 L175.40,184.07 L175.73,183.98 L176.06,183.88 L176.39,183.77 L176.72,183.66 L177.05,183.51 L177.38,183.33 L177.71,183.12 L178.04,182.88 L178.37,182.63 L178.70,182.36 L179.03,182.07 L179.36,181.78 L179.69,181.46 L180.02,181.10 L180.35,180.71 L180.68,180.28 L181.01,179.83 L181.34,179.36 L181.67,178.87 L182.00,178.36 L182.33,177.79 L182.66,177.19 L182.99,176.54 L183.32,175.88 L183.65,175.19 L183.98,174.49 L184.31,173.78 L184.64,173.04 L184.97,172.27 L185.30,171.46 L185.63,170.60 L185.96,169.66 L186.29,168.64 L186.62,167.53 L186.95,166.36 L187.28,165.14 L187.61,163.87 L187.94,162.53 L188.27,161.12 L188.60,159.65 L188.93,158.12 L189.26,156.56 L189.59,154.91 L189.92,153.12 L190.25,151.14 L190.58,148.86 L190.91,146.31 L191.24,143.59 L191.57,140.77 L191.90,137.94 L192.23,135.08 L192.56,132.13 L192.89,129.05 L193.22,125.79 L193.55,122.31 L193.88,118.59 L194.21,114.63 L194.54,110.43 L194.87,105.98 L195.20,101.41 L195.53,96.39 L195.86,89.92 L196.19,79.40 L196.52,69.68 L196.85,63.62 L197.18,58.41 L197.51,53.05 L197.84,47.91 L198.17,42.81 L198.50,38.46 L198.83,35.51 L199.16,33.13 L199.49,31.23 L199.82,29.48 L200.15,28.19 L200.48,28.27 L200.81,29.64 L201.14,31.39 L201.47,33.33 L201.80,35.75 L202.13,38.77 L202.46,43.28 L202.79,48.37 L203.12,53.53 L203.45,58.90 L203.78,64.11 L204.11,70.33 L204.44,80.44 L204.77,90.65 L205.10,96.89 L205.43,101.83 L205.76,106.39 L206.09,110.82 L206.42,115.00 L206.75,118.94 L207.08,122.63 L207.41,126.09 L207.74,129.33 L208.07,132.40 L208.40,135.34 L208.73,138.19 L209.06,141.02 L209.39,143.84 L209.72,146.55 L210.05,149.08 L210.38,151.33 L210.71,153.29 L211.04,155.06 L211.37,156.70 L211.70,158.27 L212.03,159.79 L212.36,161.25 L212.69,162.65 L213.02,163.99 L213.35,165.25 L213.68,166.46 L214.01,167.63 L214.34,168.73 L214.67,169.75 L215.00,170.68 L215.33,171.54 L215.66,172.35 L215.99,173.11 L216.32,173.85 L216.65,174.56 L216.98,175.25 L217.31,175.94 L217.64,176.60 L217.97,177.24 L218.30,177.85 L218.63,178.40 L218.96,178.91 L219.29,179.40 L219.62,179.88 L219.95,180.32 L220.28,180.75 L220.61,181.14 L220.94,181.49 L221.27,181.81 L221.60,182.10 L221.93,182.38 L222.26,182.65 L222.59,182.90 L222.92,183.14 L223.25,183.34 L223.58,183.52 L223.91,183.67 L224.24,183.78 L224.57,183.89 L224.90,183.99 L225.23,184.08 L225.56,184.16 L225.89,184.24 L226.22,184.30 L226.55,184.34 L226.88,184.36 L227.21,184.37 L227.54,184.35 L227.87,184.31 L228.20,184.26 L228.53,184.19 L228.86,184.11 L229.19,184.02 L229.52,183.92 L229.85,183.82 L230.18,183.71 L230.51,183.57 L230.84,183.41 L231.17,183.21 L231.50,182.98 L231.83,182.74 L232.16,182.47 L232.49,182.20 L232.82,181.91 L233.15,181.60 L233.48,181.26 L233.81,180.88 L234.14,180.47 L234.47,180.03 L234.80,179.56 L235.13,179.08 L235.46,178.58 L235.79,178.04 L236.12,177.45 L236.45,176.82 L236.78,176.16 L237.11,175.48 L237.44,174.79 L237.77,174.08 L238.10,173.36 L238.43,172.60 L238.76,171.81 L239.09,170.97 L239.42,170.07 L239.75,169.08 L240.08,168.01 L240.41,166.86 L240.74,165.66 L241.07,164.41 L241.40,163.11 L241.73,161.73 L242.06,160.29 L242.39,158.78 L242.72,157.23 L243.05,155.62 L243.38,153.90 L243.71,152.01 L244.04,149.86 L244.37,147.42 L244.70,144.76 L245.03,141.97 L245.36,139.13 L245.69,136.30 L246.02,133.39 L246.35,130.37 L246.68,127.19 L247.01,123.81 L247.34,120.19 L247.67,116.34 L248.00,112.24 L248.33,107.90 L248.66,103.35 L248.99,98.63 L249.32,92.94 L249.65,84.22 L249.98,73.22 L250.31,65.98 L250.64,60.63 L250.97,55.30 L251.30,50.06 L251.63,45.00 L251.96,40.08 L252.29,36.69 L252.62,34.08 L252.95,31.98 L253.28,30.23 L253.61,28.62 L253.94,28.03 L254.27,28.96 L254.60,30.66 L254.93,32.45 L255.26,34.66 L255.59,37.41 L255.92,41.18 L256.25,46.25 L256.58,51.31 L256.91,56.61 L257.24,61.88 L257.57,67.46 L257.90,75.69 L258.23,86.81 L258.56,94.46 L258.89,99.83 L259.22,104.45 L259.55,108.97 L259.88,113.26 L260.21,117.30 L260.54,121.09 L260.87,124.65 L261.20,127.98 L261.53,131.12 L261.86,134.10 L262.19,136.99 L262.52,139.82 L262.85,142.65 L263.18,145.42 L263.51,148.03 L263.84,150.41 L264.17,152.48 L264.50,154.33 L264.83,156.02 L265.16,157.61 L265.49,159.15 L265.82,160.64 L266.15,162.07 L266.48,163.43 L266.81,164.72 L267.14,165.95 L267.47,167.14 L267.80,168.28 L268.13,169.33 L268.46,170.29 L268.79,171.18 L269.12,172.01 L269.45,172.79 L269.78,173.54 L270.11,174.26 L270.44,174.96 L270.77,175.65 L271.10,176.32 L271.43,176.98 L271.76,177.59 L272.09,178.17 L272.42,178.70 L272.75,179.20 L273.08,179.68" stroke="#8c564b"/>
</g>
<rect x="21.3" y="13.2" width="251.10" height="206.3" fill="none" stroke="#000" stroke-width="0.65"/>
<line x1="46.58" y1="219.5" x2="46.58" y2="221.1" stroke="#000" stroke-width="0.6"/>
<text x="46.58" y="228.40" font-size="8.4" text-anchor="middle" font-weight="normal" textLength="20.98" lengthAdjust="spacingAndGlyphs">−400</text>
<line x1="96.84" y1="219.5" x2="96.84" y2="221.1" stroke="#000" stroke-width="0.6"/>
<text x="96.84" y="228.40" font-size="8.4" text-anchor="middle" font-weight="normal" textLength="20.98" lengthAdjust="spacingAndGlyphs">−200</text>
<line x1="147.10" y1="219.5" x2="147.10" y2="221.1" stroke="#000" stroke-width="0.6"/>
<text x="147.10" y="228.40" font-size="8.4" text-anchor="middle" font-weight="normal" textLength="4.86" lengthAdjust="spacingAndGlyphs">0</text>
<line x1="197.36" y1="219.5" x2="197.36" y2="221.1" stroke="#000" stroke-width="0.6"/>
<text x="197.36" y="228.40" font-size="8.4" text-anchor="middle" font-weight="normal" textLength="14.58" lengthAdjust="spacingAndGlyphs">200</text>
<line x1="247.62" y1="219.5" x2="247.62" y2="221.1" stroke="#000" stroke-width="0.6"/>
<text x="247.62" y="228.40" font-size="8.4" text-anchor="middle" font-weight="normal" textLength="14.58" lengthAdjust="spacingAndGlyphs">400</text>
<line x1="19.70" y1="219.50" x2="21.3" y2="219.50" stroke="#000" stroke-width="0.6"/>
<text x="18.40" y="222.20" font-size="8.4" text-anchor="end" font-weight="normal" textLength="4.86" lengthAdjust="spacingAndGlyphs">0</text>
<line x1="19.70" y1="187.85" x2="21.3" y2="187.85" stroke="#000" stroke-width="0.6"/>
<text x="18.40" y="190.55" font-size="8.4" text-anchor="end" font-weight="normal" textLength="4.86" lengthAdjust="spacingAndGlyphs">1</text>
<line x1="19.70" y1="156.20" x2="21.3" y2="156.20" stroke="#000" stroke-width="0.6"/>
<text x="18.40" y="158.90" font-size="8.4" text-anchor="end" font-weight="normal" textLength="4.86" lengthAdjust="spacingAndGlyphs">2</text>
<line x1="19.70" y1="124.55" x2="21.3" y2="124.55" stroke="#000" stroke-width="0.6"/>
<text x="18.40" y="127.25" font-size="8.4" text-anchor="end" font-weight="normal" textLength="4.86" lengthAdjust="spacingAndGlyphs">3</text>
<line x1="19.70" y1="92.90" x2="21.3" y2="92.90" stroke="#000" stroke-width="0.6"/>
<text x="18.40" y="95.60" font-size="8.4" text-anchor="end" font-weight="normal" textLength="4.86" lengthAdjust="spacingAndGlyphs">4</text>
<line x1="19.70" y1="61.25" x2="21.3" y2="61.25" stroke="#000" stroke-width="0.6"/>
<text x="18.40" y="63.95" font-size="8.4" text-anchor="end" font-weight="normal" textLength="4.86" lengthAdjust="spacingAndGlyphs">5</text>
<line x1="19.70" y1="29.60" x2="21.3" y2="29.60" stroke="#000" stroke-width="0.6"/>
<text x="18.40" y="32.30" font-size="8.4" text-anchor="end" font-weight="normal" textLength="4.86" lengthAdjust="spacingAndGlyphs">6</text>
<text x="146.85" y="237.70" font-size="8.5" text-anchor="middle" font-weight="bold" textLength="101.00" lengthAdjust="spacingAndGlyphs">Measured Position (nm)</text>
<text x="22.10" y="11.60" font-size="8.4" text-anchor="start" font-weight="normal" textLength="15.20" lengthAdjust="spacingAndGlyphs">×10</text>
<text x="37.60" y="8.10" font-size="5.8" text-anchor="start" font-weight="normal">3</text>
<g clip-path="url(#cR)" fill="none" stroke-width="1.3" stroke-linejoin="round">
<path d="M293.20,200.86 L293.53,199.51 L293.86,198.07 L294.19,196.51 L294.52,194.77 L294.85,192.85 L295.18,190.83 L295.51,188.58 L295.84,186.30 L296.17,184.10 L296.50,181.53 L296.83,178.36 L297.16,175.02 L297.49,171.87 L297.82,168.97 L298.15,166.02 L298.48,163.01 L298.81,159.93 L299.14,156.80 L299.47,153.61 L299.80,150.37 L300.13,147.10 L300.46,143.79 L300.79,140.46 L301.12,137.11 L301.45,133.74 L301.78,130.38 L302.11,127.01 L302.44,123.66 L302.77,120.33 L303.10,117.02 L303.43,113.75 L303.76,110.51 L304.09,107.33 L304.42,104.20 L304.75,101.14 L305.08,98.14 L305.41,95.23 L305.74,92.39 L306.07,89.65 L306.40,87.01 L306.73,84.47 L307.06,82.06 L307.39,79.78 L307.72,77.66 L308.05,75.74 L308.38,74.06 L308.71,72.65 L309.04,71.54 L309.37,70.71 L309.70,70.13 L310.03,69.73 L310.36,69.46 L310.69,69.29 L311.02,69.17 L311.35,69.10 L311.68,69.05 L312.01,69.02 L312.34,69.00 L312.67,69.00 L313.00,69.01 L313.33,69.02 L313.66,69.05 L313.99,69.11 L314.32,69.18 L314.65,69.30 L314.98,69.49 L315.31,69.77 L315.64,70.19 L315.97,70.80 L316.30,71.66 L316.63,72.80 L316.96,74.25 L317.29,75.96 L317.62,77.91 L317.95,80.05 L318.28,82.34 L318.61,84.77 L318.94,87.32 L319.27,89.98 L319.60,92.73 L319.93,95.58 L320.26,98.50 L320.59,101.51 L320.92,104.58 L321.25,107.71 L321.58,110.90 L321.91,114.14 L322.24,117.42 L322.57,120.73 L322.90,124.07 L323.23,127.42 L323.56,130.78 L323.89,134.15 L324.22,137.51 L324.55,140.86 L324.88,144.19 L325.21,147.50 L325.54,150.77 L325.87,154.00 L326.20,157.18 L326.53,160.31 L326.86,163.38 L327.19,166.38 L327.52,169.32 L327.85,172.24 L328.18,175.42 L328.51,178.77 L328.84,181.88 L329.17,184.37 L329.50,186.57 L329.83,188.86 L330.16,191.08 L330.49,193.09 L330.82,194.99 L331.15,196.71 L331.48,198.25 L331.81,199.68 L332.14,201.02 L332.47,202.33 L332.80,203.64 L333.13,204.95 L333.46,206.19 L333.79,207.28 L334.12,208.24 L334.45,209.14 L334.78,210.10 L335.11,211.15 L335.44,212.23 L335.77,213.26 L336.10,214.19 L336.43,215.08 L336.76,215.84 L337.09,216.46 L337.42,217.03 L337.75,217.51 L338.08,217.86 L338.41,218.10 L338.74,218.32 L339.07,218.48 L339.40,218.55 L339.73,218.51 L340.06,218.37 L340.39,218.17 L340.72,217.94 L341.05,217.63 L341.38,217.18 L341.71,216.64 L342.04,216.04 L342.37,215.32 L342.70,214.47 L343.03,213.54 L343.36,212.55 L343.69,211.48 L344.02,210.41 L344.35,209.42 L344.68,208.51 L345.01,207.58 L345.34,206.54 L345.67,205.34 L346.00,204.04 L346.33,202.72 L346.66,201.42 L346.99,200.09 L347.32,198.70 L347.65,197.19 L347.98,195.53 L348.31,193.68 L348.64,191.70 L348.97,189.56 L349.30,187.26 L349.63,185.04 L349.96,182.70 L350.29,179.76 L350.62,176.43 L350.95,173.17 L351.28,170.19 L351.61,167.28 L351.94,164.29 L352.27,161.24 L352.60,158.13 L352.93,154.97 L353.26,151.75 L353.59,148.49 L353.92,145.20 L354.25,141.88 L354.58,138.53 L354.91,135.17 L355.24,131.81 L355.57,128.44 L355.90,125.08 L356.23,121.74 L356.56,118.42 L356.89,115.13 L357.22,111.88 L357.55,108.67 L357.88,105.52 L358.21,102.43 L358.54,99.41 L358.87,96.46 L359.20,93.59 L359.53,90.80 L359.86,88.12 L360.19,85.54 L360.52,83.07 L360.85,80.73 L361.18,78.54 L361.51,76.53 L361.84,74.74 L362.17,73.21 L362.50,71.97 L362.83,71.03 L363.16,70.35 L363.49,69.88 L363.82,69.56 L364.15,69.35 L364.48,69.22 L364.81,69.13 L365.14,69.07 L365.47,69.03 L365.80,69.01 L366.13,69.00 L366.46,69.00 L366.79,69.01 L367.12,69.04 L367.45,69.08 L367.78,69.15 L368.11,69.25 L368.44,69.40 L368.77,69.64 L369.10,69.99 L369.43,70.51 L369.76,71.26 L370.09,72.28 L370.42,73.60 L370.75,75.20 L371.08,77.06 L371.41,79.12 L371.74,81.35 L372.07,83.73 L372.40,86.23 L372.73,88.84 L373.06,91.55 L373.39,94.36 L373.72,97.25 L374.05,100.22 L374.38,103.27 L374.71,106.38 L375.04,109.54 L375.37,112.76 L375.70,116.02 L376.03,119.32 L376.36,122.65 L376.69,126.00 L377.02,129.36 L377.35,132.72 L377.68,136.09 L378.01,139.44 L378.34,142.78 L378.67,146.10 L379.00,149.38 L379.33,152.63 L379.66,155.83 L379.99,158.99 L380.32,162.08 L380.65,165.12 L380.98,168.08 L381.31,170.98 L381.64,174.03 L381.97,177.34 L382.30,180.62 L382.63,183.38 L382.96,185.63 L383.29,187.88 L383.62,190.17 L383.95,192.25 L384.28,194.20 L384.61,196.01 L384.94,197.62 L385.27,199.08 L385.60,200.46 L385.93,201.77 L386.26,203.08 L386.59,204.40 L386.92,205.68 L387.25,206.84 L387.58,207.85 L387.91,208.76 L388.24,209.68 L388.57,210.69 L388.90,211.77 L389.23,212.84 L389.56,213.80 L389.89,214.71 L390.22,215.54 L390.55,216.21 L390.88,216.80 L391.21,217.32 L391.54,217.73 L391.87,218.00 L392.20,218.23 L392.53,218.42 L392.86,218.53 L393.19,218.54 L393.52,218.44 L393.85,218.26 L394.18,218.04 L394.51,217.78 L394.84,217.39 L395.17,216.88 L395.50,216.30 L395.83,215.65 L396.16,214.84 L396.49,213.94 L396.82,212.99 L397.15,211.94 L397.48,210.85 L397.81,209.83 L398.14,208.90 L398.47,207.99 L398.80,207.00 L399.13,205.86 L399.46,204.60 L399.79,203.28 L400.12,201.97 L400.45,200.66 L400.78,199.30 L401.11,197.85 L401.44,196.26 L401.77,194.49 L402.10,192.55 L402.43,190.50 L402.76,188.23 L403.09,185.96 L403.42,183.75 L403.75,181.09 L404.08,177.85 L404.41,174.52 L404.74,171.42 L405.07,168.52 L405.40,165.57 L405.73,162.55 L406.06,159.46 L406.39,156.32 L406.72,153.12 L407.05,149.88 L407.38,146.60 L407.71,143.29 L408.04,139.95 L408.37,136.60 L408.70,133.23 L409.03,129.87 L409.36,126.50 L409.69,123.15 L410.02,119.82 L410.35,116.52 L410.68,113.25 L411.01,110.03 L411.34,106.85 L411.67,103.73 L412.00,100.68 L412.33,97.70 L412.66,94.79 L412.99,91.97 L413.32,89.25 L413.65,86.62 L413.98,84.10 L414.31,81.70 L414.64,79.45 L414.97,77.36 L415.30,75.47 L415.63,73.82 L415.96,72.46 L416.29,71.40 L416.62,70.61 L416.95,70.06 L417.28,69.68 L417.61,69.43 L417.94,69.27 L418.27,69.16 L418.60,69.09 L418.93,69.04 L419.26,69.02 L419.59,69.00 L419.92,69.00 L420.25,69.01 L420.58,69.03 L420.91,69.06 L421.24,69.12 L421.57,69.20 L421.90,69.33 L422.23,69.52 L422.56,69.82 L422.89,70.26 L423.22,70.91 L423.55,71.81 L423.88,73.00 L424.21,74.49 L424.54,76.24 L424.87,78.22 L425.20,80.39 L425.53,82.70 L425.86,85.15 L426.19,87.72 L426.52,90.39 L426.85,93.16 L427.18,96.02 L427.51,98.95 L427.84,101.97 L428.17,105.05 L428.50,108.19 L428.83,111.39 L429.16,114.63 L429.49,117.92 L429.82,121.23 L430.15,124.57 L430.48,127.93 L430.81,131.29 L431.14,134.66 L431.47,138.02 L431.80,141.37 L432.13,144.70 L432.46,147.99 L432.79,151.26 L433.12,154.48 L433.45,157.66 L433.78,160.78 L434.11,163.84 L434.44,166.83 L434.77,169.76 L435.10,172.70 L435.43,175.92 L435.76,179.27 L436.09,182.30 L436.42,184.71 L436.75,186.91 L437.08,189.21 L437.41,191.39 L437.74,193.39 L438.07,195.26 L438.40,196.96 L438.73,198.48 L439.06,199.88 L439.39,201.22 L439.72,202.53 L440.05,203.84 L440.38,205.14 L440.71,206.36 L441.04,207.44 L441.37,208.38 L441.70,209.28 L442.03,210.25 L442.36,211.31 L442.69,212.39 L443.02,213.40 L443.35,214.33 L443.68,215.20 L444.01,215.94 L444.34,216.55 L444.67,217.11 L445.00,217.57 L445.33,217.90 L445.66,218.14 L445.99,218.35 L446.32,218.49 L446.65,218.55 L446.98,218.49 L447.31,218.35 L447.64,218.14 L447.97,217.90 L448.30,217.57 L448.63,217.11 L448.96,216.55 L449.29,215.94 L449.62,215.20 L449.95,214.33 L450.28,213.40 L450.61,212.39 L450.94,211.31 L451.27,210.25 L451.60,209.28 L451.93,208.38 L452.26,207.44 L452.59,206.36 L452.92,205.14 L453.25,203.84 L453.58,202.53 L453.91,201.22 L454.24,199.88 L454.57,198.48 L454.90,196.96 L455.23,195.26 L455.56,193.39 L455.89,191.39 L456.22,189.21 L456.55,186.91 L456.88,184.71 L457.21,182.30 L457.54,179.27 L457.87,175.92 L458.20,172.70 L458.53,169.76 L458.86,166.83 L459.19,163.84 L459.52,160.78 L459.85,157.66 L460.18,154.48 L460.51,151.26 L460.84,147.99 L461.17,144.70 L461.50,141.37 L461.83,138.02 L462.16,134.66 L462.49,131.29 L462.82,127.93 L463.15,124.57 L463.48,121.23 L463.81,117.92 L464.14,114.63 L464.47,111.39 L464.80,108.19 L465.13,105.05 L465.46,101.97 L465.79,98.95 L466.12,96.02 L466.45,93.16 L466.78,90.39 L467.11,87.72 L467.44,85.15 L467.77,82.70 L468.10,80.39 L468.43,78.22 L468.76,76.24 L469.09,74.49 L469.42,73.00 L469.75,71.81 L470.08,70.91 L470.41,70.26 L470.74,69.82 L471.07,69.52 L471.40,69.33 L471.73,69.20 L472.06,69.12 L472.39,69.06 L472.72,69.03 L473.05,69.01 L473.38,69.00 L473.71,69.00 L474.04,69.02 L474.37,69.04 L474.70,69.09 L475.03,69.16 L475.36,69.27 L475.69,69.43 L476.02,69.68 L476.35,70.06 L476.68,70.61 L477.01,71.40 L477.34,72.46 L477.67,73.82 L478.00,75.47 L478.33,77.36 L478.66,79.45 L478.99,81.70 L479.32,84.10 L479.65,86.62 L479.98,89.25 L480.31,91.97 L480.64,94.79 L480.97,97.70 L481.30,100.68 L481.63,103.73 L481.96,106.85 L482.29,110.03 L482.62,113.25 L482.95,116.52 L483.28,119.82 L483.61,123.15 L483.94,126.50 L484.27,129.87 L484.60,133.23 L484.93,136.60 L485.26,139.95 L485.59,143.29 L485.92,146.60 L486.25,149.88 L486.58,153.12 L486.91,156.32 L487.24,159.46 L487.57,162.55 L487.90,165.57 L488.23,168.52 L488.56,171.42 L488.89,174.52 L489.22,177.85 L489.55,181.09 L489.88,183.75 L490.21,185.96 L490.54,188.23 L490.87,190.50 L491.20,192.55 L491.53,194.49 L491.86,196.26 L492.19,197.85 L492.52,199.30 L492.85,200.66 L493.18,201.97 L493.51,203.28 L493.84,204.60 L494.17,205.86 L494.50,207.00 L494.83,207.99 L495.16,208.90 L495.49,209.83 L495.82,210.85 L496.15,211.94 L496.48,212.99 L496.81,213.94 L497.14,214.84 L497.47,215.65 L497.80,216.30 L498.13,216.88 L498.46,217.39 L498.79,217.78 L499.12,218.04 L499.45,218.26 L499.78,218.44 L500.11,218.54 L500.44,218.53 L500.77,218.42 L501.10,218.23 L501.43,218.00 L501.76,217.73 L502.09,217.32 L502.42,216.80 L502.75,216.21 L503.08,215.54 L503.41,214.71 L503.74,213.80 L504.07,212.84 L504.40,211.77 L504.73,210.69 L505.06,209.68 L505.39,208.76 L505.72,207.85 L506.05,206.84 L506.38,205.68 L506.71,204.40 L507.04,203.08 L507.37,201.77 L507.70,200.46 L508.03,199.08 L508.36,197.62 L508.69,196.01 L509.02,194.20 L509.35,192.25 L509.68,190.17 L510.01,187.88 L510.34,185.63 L510.67,183.38 L511.00,180.62 L511.33,177.34 L511.66,174.03 L511.99,170.98 L512.32,168.08 L512.65,165.12 L512.98,162.08 L513.31,158.99 L513.64,155.83 L513.97,152.63 L514.30,149.38 L514.63,146.10 L514.96,142.78 L515.29,139.44 L515.62,136.09 L515.95,132.72 L516.28,129.36 L516.61,126.00 L516.94,122.65 L517.27,119.32 L517.60,116.02 L517.93,112.76 L518.26,109.54 L518.59,106.38 L518.92,103.27 L519.25,100.22 L519.58,97.25 L519.91,94.36 L520.24,91.55 L520.57,88.84 L520.90,86.23 L521.23,83.73 L521.56,81.35 L521.89,79.12 L522.22,77.06 L522.55,75.20 L522.88,73.60 L523.21,72.28 L523.54,71.26 L523.87,70.51 L524.20,69.99 L524.53,69.64 L524.86,69.40 L525.19,69.25 L525.52,69.15 L525.85,69.08 L526.18,69.04 L526.51,69.01 L526.84,69.00 L527.17,69.00 L527.50,69.01 L527.83,69.03 L528.16,69.07 L528.49,69.13 L528.82,69.22 L529.15,69.35 L529.48,69.56 L529.81,69.88 L530.14,70.35 L530.47,71.03 L530.80,71.97 L531.13,73.21 L531.46,74.74 L531.79,76.53 L532.12,78.54 L532.45,80.73 L532.78,83.07 L533.11,85.54 L533.44,88.12 L533.77,90.80 L534.10,93.59 L534.43,96.46 L534.76,99.41 L535.09,102.43 L535.42,105.52 L535.75,108.67 L536.08,111.88 L536.41,115.13 L536.74,118.42 L537.07,121.74 L537.40,125.08 L537.73,128.44 L538.06,131.81 L538.39,135.17 L538.72,138.53 L539.05,141.88 L539.38,145.20 L539.71,148.49 L540.04,151.75 L540.37,154.97 L540.70,158.13 L541.03,161.24 L541.36,164.29 L541.69,167.28 L542.02,170.19 L542.35,173.17 L542.68,176.43 L543.01,179.76 L543.34,182.70 L543.67,185.04 L544.00,187.26 L544.33,189.56 L544.66,191.70 L544.99,193.68 L545.32,195.53 L545.65,197.19 L545.98,198.70" stroke="#1f77b4"/>
<path d="M293.20,198.56 L293.53,197.05 L293.86,195.37 L294.19,193.51 L294.52,191.51 L294.85,189.35 L295.18,187.05 L295.51,184.84 L295.84,182.46 L296.17,179.47 L296.50,176.12 L296.83,172.89 L297.16,169.93 L297.49,167.01 L297.82,164.02 L298.15,160.96 L298.48,157.85 L298.81,154.68 L299.14,151.46 L299.47,148.19 L299.80,144.90 L300.13,141.57 L300.46,138.23 L300.79,134.87 L301.12,131.50 L301.45,128.13 L301.78,124.78 L302.11,121.44 L302.44,118.12 L302.77,114.83 L303.10,111.59 L303.43,108.39 L303.76,105.24 L304.09,102.15 L304.42,99.13 L304.75,96.19 L305.08,93.33 L305.41,90.55 L305.74,87.87 L306.07,85.29 L306.40,82.81 L306.73,80.44 L307.06,78.19 L307.39,76.05 L307.72,74.03 L308.05,72.12 L308.38,70.34 L308.71,68.68 L309.04,67.13 L309.37,65.70 L309.70,64.39 L310.03,63.20 L310.36,62.14 L310.69,61.23 L311.02,60.48 L311.35,59.91 L311.68,59.54 L312.01,59.37 L312.34,59.42 L312.67,59.68 L313.00,60.15 L313.33,60.80 L313.66,61.63 L313.99,62.61 L314.32,63.73 L314.65,64.97 L314.98,66.34 L315.31,67.82 L315.64,69.42 L315.97,71.14 L316.30,72.97 L316.63,74.93 L316.96,77.00 L317.29,79.20 L317.62,81.50 L317.95,83.92 L318.28,86.45 L318.61,89.08 L318.94,91.80 L319.27,94.62 L319.60,97.52 L319.93,100.50 L320.26,103.55 L320.59,106.66 L320.92,109.83 L321.25,113.06 L321.58,116.32 L321.91,119.62 L322.24,122.95 L322.57,126.30 L322.90,129.66 L323.23,133.03 L323.56,136.39 L323.89,139.75 L324.22,143.09 L324.55,146.40 L324.88,149.68 L325.21,152.92 L325.54,156.12 L325.87,159.27 L326.20,162.36 L326.53,165.39 L326.86,168.35 L327.19,171.24 L327.52,174.32 L327.85,177.65 L328.18,180.90 L328.51,183.60 L328.84,185.83 L329.17,188.09 L329.50,190.37 L329.83,192.43 L330.16,194.37 L330.49,196.16 L330.82,197.76 L331.15,199.21 L331.48,200.58 L331.81,201.89 L332.14,203.20 L332.47,204.52 L332.80,205.78 L333.13,206.93 L333.46,207.91 L333.79,208.80 L334.12,209.70 L334.45,210.65 L334.78,211.59 L335.11,212.39 L335.44,212.99 L335.77,213.43 L336.10,213.75 L336.43,213.96 L336.76,214.13 L337.09,214.27 L337.42,214.37 L337.75,214.45 L338.08,214.50 L338.41,214.54 L338.74,214.56 L339.07,214.56 L339.40,214.54 L339.73,214.50 L340.06,214.44 L340.39,214.37 L340.72,214.26 L341.05,214.13 L341.38,213.96 L341.71,213.74 L342.04,213.42 L342.37,212.97 L342.70,212.37 L343.03,211.57 L343.36,210.62 L343.69,209.67 L344.02,208.78 L344.35,207.88 L344.68,206.89 L345.01,205.75 L345.34,204.48 L345.67,203.16 L346.00,201.85 L346.33,200.54 L346.66,199.17 L346.99,197.71 L347.32,196.11 L347.65,194.32 L347.98,192.37 L348.31,190.31 L348.64,188.02 L348.97,185.76 L349.30,183.53 L349.63,180.81 L349.96,177.55 L350.29,174.23 L350.62,171.16 L350.95,168.26 L351.28,165.30 L351.61,162.27 L351.94,159.18 L352.27,156.03 L352.60,152.83 L352.93,149.58 L353.26,146.30 L353.59,142.99 L353.92,139.65 L354.25,136.29 L354.58,132.93 L354.91,129.56 L355.24,126.20 L355.57,122.85 L355.90,119.52 L356.23,116.22 L356.56,112.96 L356.89,109.74 L357.22,106.57 L357.55,103.45 L357.88,100.41 L358.21,97.43 L358.54,94.53 L358.87,91.72 L359.20,89.00 L359.53,86.37 L359.86,83.85 L360.19,81.43 L360.52,79.13 L360.85,76.94 L361.18,74.87 L361.51,72.92 L361.84,71.08 L362.17,69.37 L362.50,67.77 L362.83,66.29 L363.16,64.93 L363.49,63.69 L363.82,62.58 L364.15,61.60 L364.48,60.78 L364.81,60.13 L365.14,59.67 L365.47,59.41 L365.80,59.37 L366.13,59.54 L366.46,59.93 L366.79,60.50 L367.12,61.26 L367.45,62.17 L367.78,63.24 L368.11,64.43 L368.44,65.74 L368.77,67.18 L369.10,68.73 L369.43,70.39 L369.76,72.18 L370.09,74.09 L370.42,76.11 L370.75,78.25 L371.08,80.51 L371.41,82.88 L371.74,85.37 L372.07,87.95 L372.40,90.64 L372.73,93.41 L373.06,96.28 L373.39,99.22 L373.72,102.24 L374.05,105.33 L374.38,108.48 L374.71,111.68 L375.04,114.93 L375.37,118.22 L375.70,121.54 L376.03,124.88 L376.36,128.24 L376.69,131.60 L377.02,134.97 L377.35,138.33 L377.68,141.67 L378.01,145.00 L378.34,148.29 L378.67,151.55 L379.00,154.77 L379.33,157.94 L379.66,161.06 L379.99,164.11 L380.32,167.10 L380.65,170.02 L380.98,172.98 L381.31,176.22 L381.64,179.56 L381.97,182.54 L382.30,184.91 L382.63,187.12 L382.96,189.42 L383.29,191.57 L383.62,193.56 L383.95,195.42 L384.28,197.10 L384.61,198.61 L384.94,200.01 L385.27,201.34 L385.60,202.64 L385.93,203.96 L386.26,205.26 L386.59,206.46 L386.92,207.51 L387.25,208.43 L387.58,209.31 L387.91,210.24 L388.24,211.20 L388.57,212.08 L388.90,212.76 L389.23,213.26 L389.56,213.63 L389.89,213.88 L390.22,214.06 L390.55,214.21 L390.88,214.33 L391.21,214.41 L391.54,214.48 L391.87,214.53 L392.20,214.56 L392.53,214.56 L392.86,214.55 L393.19,214.52 L393.52,214.47 L393.85,214.40 L394.18,214.31 L394.51,214.19 L394.84,214.03 L395.17,213.84 L395.50,213.57 L395.83,213.18 L396.16,212.65 L396.49,211.93 L396.82,211.03 L397.15,210.07 L397.48,209.15 L397.81,208.27 L398.14,207.33 L398.47,206.25 L398.80,205.03 L399.13,203.72 L399.46,202.41 L399.79,201.10 L400.12,199.76 L400.45,198.34 L400.78,196.81 L401.11,195.10 L401.44,193.21 L401.77,191.20 L402.10,189.00 L402.43,186.70 L402.76,184.51 L403.09,182.05 L403.42,178.97 L403.75,175.62 L404.08,172.42 L404.41,169.49 L404.74,166.56 L405.07,163.56 L405.40,160.49 L405.73,157.37 L406.06,154.19 L406.39,150.96 L406.72,147.70 L407.05,144.39 L407.38,141.07 L407.71,137.72 L408.04,134.36 L408.37,130.99 L408.70,127.62 L409.03,124.27 L409.36,120.93 L409.69,117.62 L410.02,114.34 L410.35,111.10 L410.68,107.90 L411.01,104.77 L411.34,101.69 L411.67,98.68 L412.00,95.75 L412.33,92.90 L412.66,90.14 L412.99,87.47 L413.32,84.91 L413.65,82.44 L413.98,80.09 L414.31,77.85 L414.64,75.73 L414.97,73.73 L415.30,71.85 L415.63,70.08 L415.96,68.44 L416.29,66.91 L416.62,65.50 L416.95,64.20 L417.28,63.03 L417.61,62.00 L417.94,61.11 L418.27,60.38 L418.60,59.84 L418.93,59.50 L419.26,59.36 L419.59,59.45 L419.92,59.74 L420.25,60.23 L420.58,60.92 L420.91,61.77 L421.24,62.77 L421.57,63.91 L421.90,65.17 L422.23,66.55 L422.56,68.06 L422.89,69.67 L423.22,71.41 L423.55,73.26 L423.88,75.24 L424.21,77.33 L424.54,79.54 L424.87,81.86 L425.20,84.30 L425.53,86.84 L425.86,89.48 L426.19,92.22 L426.52,95.05 L426.85,97.97 L427.18,100.95 L427.51,104.02 L427.84,107.14 L428.17,110.32 L428.50,113.55 L428.83,116.82 L429.16,120.13 L429.49,123.46 L429.82,126.81 L430.15,130.17 L430.48,133.54 L430.81,136.90 L431.14,140.26 L431.47,143.59 L431.80,146.90 L432.13,150.18 L432.46,153.41 L432.79,156.60 L433.12,159.74 L433.45,162.82 L433.78,165.84 L434.11,168.79 L434.44,171.69 L434.77,174.82 L435.10,178.16 L435.43,181.36 L435.76,183.96 L436.09,186.16 L436.42,188.44 L436.75,190.70 L437.08,192.73 L437.41,194.66 L437.74,196.41 L438.07,197.98 L438.40,199.42 L438.73,200.78 L439.06,202.09 L439.39,203.40 L439.72,204.71 L440.05,205.97 L440.38,207.08 L440.71,208.05 L441.04,208.94 L441.37,209.84 L441.70,210.80 L442.03,211.73 L442.36,212.50 L442.69,213.07 L443.02,213.49 L443.35,213.78 L443.68,213.99 L444.01,214.15 L444.34,214.28 L444.67,214.38 L445.00,214.45 L445.33,214.51 L445.66,214.55 L445.99,214.56 L446.32,214.56 L446.65,214.54 L446.98,214.49 L447.31,214.43 L447.64,214.35 L447.97,214.24 L448.30,214.10 L448.63,213.93 L448.96,213.70 L449.29,213.36 L449.62,212.89 L449.95,212.26 L450.28,211.43 L450.61,210.48 L450.94,209.53 L451.27,208.64 L451.60,207.74 L451.93,206.73 L452.26,205.56 L452.59,204.28 L452.92,202.96 L453.25,201.66 L453.58,200.33 L453.91,198.96 L454.24,197.48 L454.57,195.85 L454.90,194.03 L455.23,192.06 L455.56,189.97 L455.89,187.67 L456.22,185.43 L456.55,183.16 L456.88,180.34 L457.21,177.04 L457.54,173.74 L457.87,170.72 L458.20,167.81 L458.53,164.84 L458.86,161.80 L459.19,158.70 L459.52,155.55 L459.85,152.34 L460.18,149.09 L460.51,145.80 L460.84,142.48 L461.17,139.14 L461.50,135.78 L461.83,132.42 L462.16,129.05 L462.49,125.69 L462.82,122.34 L463.15,119.02 L463.48,115.73 L463.81,112.47 L464.14,109.25 L464.47,106.09 L464.80,102.99 L465.13,99.95 L465.46,96.99 L465.79,94.10 L466.12,91.30 L466.45,88.59 L466.78,85.98 L467.11,83.48 L467.44,81.08 L467.77,78.79 L468.10,76.62 L468.43,74.57 L468.76,72.63 L469.09,70.82 L469.42,69.12 L469.75,67.54 L470.08,66.08 L470.41,64.74 L470.74,63.51 L471.07,62.42 L471.40,61.47 L471.73,60.67 L472.06,60.05 L472.39,59.62 L472.72,59.39 L473.05,59.38 L473.38,59.59 L473.71,60.00 L474.04,60.61 L474.37,61.39 L474.70,62.33 L475.03,63.41 L475.36,64.62 L475.69,65.95 L476.02,67.40 L476.35,68.97 L476.68,70.66 L477.01,72.46 L477.34,74.38 L477.67,76.43 L478.00,78.59 L478.33,80.86 L478.66,83.25 L478.99,85.75 L479.32,88.35 L479.65,91.05 L479.98,93.84 L480.31,96.72 L480.64,99.68 L480.97,102.71 L481.30,105.81 L481.63,108.96 L481.96,112.17 L482.29,115.43 L482.62,118.72 L482.95,122.04 L483.28,125.39 L483.61,128.74 L483.94,132.11 L484.27,135.48 L484.60,138.84 L484.93,142.18 L485.26,145.50 L485.59,148.79 L485.92,152.04 L486.25,155.26 L486.58,158.42 L486.91,161.52 L487.24,164.57 L487.57,167.55 L487.90,170.45 L488.23,173.45 L488.56,176.73 L488.89,180.05 L489.22,182.93 L489.55,185.24 L489.88,187.46 L490.21,189.77 L490.54,191.88 L490.87,193.86 L491.20,195.69 L491.53,197.34 L491.86,198.83 L492.19,200.21 L492.52,201.54 L492.85,202.84 L493.18,204.16 L493.51,205.45 L493.84,206.63 L494.17,207.65 L494.50,208.56 L494.83,209.45 L495.16,210.39 L495.49,211.34 L495.82,212.19 L496.15,212.84 L496.48,213.33 L496.81,213.67 L497.14,213.91 L497.47,214.09 L497.80,214.23 L498.13,214.34 L498.46,214.43 L498.79,214.49 L499.12,214.53 L499.45,214.56 L499.78,214.56 L500.11,214.55 L500.44,214.51 L500.77,214.46 L501.10,214.39 L501.43,214.29 L501.76,214.17 L502.09,214.01 L502.42,213.80 L502.75,213.52 L503.08,213.11 L503.41,212.56 L503.74,211.80 L504.07,210.89 L504.40,209.92 L504.73,209.02 L505.06,208.13 L505.39,207.18 L505.72,206.07 L506.05,204.83 L506.38,203.52 L506.71,202.21 L507.04,200.90 L507.37,199.55 L507.70,198.12 L508.03,196.56 L508.36,194.82 L508.69,192.91 L509.02,190.89 L509.35,188.65 L509.68,186.36 L510.01,184.17 L510.34,181.62 L510.67,178.46 L511.00,175.12 L511.33,171.96 L511.66,169.05 L511.99,166.11 L512.32,163.10 L512.65,160.02 L512.98,156.89 L513.31,153.70 L513.64,150.47 L513.97,147.20 L514.30,143.89 L514.63,140.56 L514.96,137.21 L515.29,133.85 L515.62,130.48 L515.95,127.11 L516.28,123.76 L516.61,120.43 L516.94,117.12 L517.27,113.84 L517.60,110.61 L517.93,107.43 L518.26,104.30 L518.59,101.23 L518.92,98.23 L519.25,95.31 L519.58,92.48 L519.91,89.73 L520.24,87.08 L520.57,84.53 L520.90,82.08 L521.23,79.75 L521.56,77.53 L521.89,75.42 L522.22,73.44 L522.55,71.57 L522.88,69.83 L523.21,68.20 L523.54,66.69 L523.87,65.29 L524.20,64.02 L524.53,62.87 L524.86,61.85 L525.19,60.99 L525.52,60.29 L525.85,59.78 L526.18,59.46 L526.51,59.36 L526.84,59.48 L527.17,59.80 L527.50,60.33 L527.83,61.03 L528.16,61.91 L528.49,62.93 L528.82,64.09 L529.15,65.37 L529.48,66.77 L529.81,68.29 L530.14,69.93 L530.47,71.68 L530.80,73.55 L531.13,75.55 L531.46,77.66 L531.79,79.88 L532.12,82.23 L532.45,84.68 L532.78,87.24 L533.11,89.89 L533.44,92.65 L533.77,95.49 L534.10,98.41 L534.43,101.41 L534.76,104.48 L535.09,107.62 L535.42,110.81 L535.75,114.04 L536.08,117.32 L536.41,120.63 L536.74,123.96 L537.07,127.32 L537.40,130.68 L537.73,134.05 L538.06,137.41 L538.39,140.76 L538.72,144.09 L539.05,147.40 L539.38,150.67 L539.71,153.90 L540.04,157.08 L540.37,160.21 L540.70,163.28 L541.03,166.29 L541.36,169.23 L541.69,172.14 L542.02,175.32 L542.35,178.67 L542.68,181.79 L543.01,184.31 L543.34,186.50 L543.67,188.79 L544.00,191.01 L544.33,193.03 L544.66,194.93 L544.99,196.66 L545.32,198.21 L545.65,199.63 L545.98,200.98" stroke="#ff7f0e"/>
<path d="M293.20,199.63 L293.53,198.21 L293.86,196.66 L294.19,194.93 L294.52,193.03 L294.85,191.01 L295.18,188.79 L295.51,186.50 L295.84,184.31 L296.17,181.79 L296.50,178.67 L296.83,175.32 L297.16,172.14 L297.49,169.23 L297.82,166.29 L298.15,163.28 L298.48,160.21 L298.81,157.08 L299.14,153.90 L299.47,150.67 L299.80,147.40 L300.13,144.09 L300.46,140.76 L300.79,137.41 L301.12,134.05 L301.45,130.68 L301.78,127.32 L302.11,123.96 L302.44,120.63 L302.77,117.32 L303.10,114.04 L303.43,110.81 L303.76,107.62 L304.09,104.48 L304.42,101.41 L304.75,98.41 L305.08,95.49 L305.41,92.65 L305.74,89.89 L306.07,87.24 L306.40,84.68 L306.73,82.23 L307.06,79.88 L307.39,77.66 L307.72,75.55 L308.05,73.55 L308.38,71.68 L308.71,69.93 L309.04,68.29 L309.37,66.77 L309.70,65.37 L310.03,64.09 L310.36,62.93 L310.69,61.91 L311.02,61.03 L311.35,60.33 L311.68,59.80 L312.01,59.48 L312.34,59.36 L312.67,59.46 L313.00,59.78 L313.33,60.29 L313.66,60.99 L313.99,61.85 L314.32,62.87 L314.65,64.02 L314.98,65.29 L315.31,66.69 L315.64,68.20 L315.97,69.83 L316.30,71.57 L316.63,73.44 L316.96,75.42 L317.29,77.53 L317.62,79.75 L317.95,82.08 L318.28,84.53 L318.61,87.08 L318.94,89.73 L319.27,92.48 L319.60,95.31 L319.93,98.23 L320.26,101.23 L320.59,104.30 L320.92,107.43 L321.25,110.61 L321.58,113.84 L321.91,117.12 L322.24,120.43 L322.57,123.76 L322.90,127.11 L323.23,130.48 L323.56,133.85 L323.89,137.21 L324.22,140.56 L324.55,143.89 L324.88,147.20 L325.21,150.47 L325.54,153.70 L325.87,156.89 L326.20,160.02 L326.53,163.10 L326.86,166.11 L327.19,169.05 L327.52,171.96 L327.85,175.12 L328.18,178.46 L328.51,181.62 L328.84,184.17 L329.17,186.36 L329.50,188.65 L329.83,190.89 L330.16,192.91 L330.49,194.82 L330.82,196.56 L331.15,198.12 L331.48,199.55 L331.81,200.89 L332.14,202.18 L332.47,203.45 L332.80,204.67 L333.13,205.73 L333.46,206.53 L333.79,207.09 L334.12,207.50 L334.45,207.81 L334.78,208.05 L335.11,208.22 L335.44,208.35 L335.77,208.45 L336.10,208.54 L336.43,208.61 L336.76,208.68 L337.09,208.73 L337.42,208.78 L337.75,208.82 L338.08,208.85 L338.41,208.88 L338.74,208.89 L339.07,208.90 L339.40,208.89 L339.73,208.88 L340.06,208.87 L340.39,208.84 L340.72,208.80 L341.05,208.76 L341.38,208.71 L341.71,208.64 L342.04,208.57 L342.37,208.49 L342.70,208.40 L343.03,208.28 L343.36,208.14 L343.69,207.94 L344.02,207.66 L344.35,207.30 L344.68,206.83 L345.01,206.15 L345.34,205.21 L345.67,204.06 L346.00,202.80 L346.33,201.52 L346.66,200.20 L346.99,198.82 L347.32,197.34 L347.65,195.69 L347.98,193.86 L348.31,191.88 L348.64,189.77 L348.97,187.46 L349.30,185.24 L349.63,182.93 L349.96,180.05 L350.29,176.73 L350.62,173.45 L350.95,170.45 L351.28,167.55 L351.61,164.57 L351.94,161.52 L352.27,158.42 L352.60,155.26 L352.93,152.04 L353.26,148.79 L353.59,145.50 L353.92,142.18 L354.25,138.84 L354.58,135.48 L354.91,132.11 L355.24,128.74 L355.57,125.39 L355.90,122.04 L356.23,118.72 L356.56,115.43 L356.89,112.17 L357.22,108.96 L357.55,105.81 L357.88,102.71 L358.21,99.68 L358.54,96.72 L358.87,93.84 L359.20,91.05 L359.53,88.35 L359.86,85.75 L360.19,83.25 L360.52,80.86 L360.85,78.59 L361.18,76.43 L361.51,74.38 L361.84,72.46 L362.17,70.66 L362.50,68.97 L362.83,67.40 L363.16,65.95 L363.49,64.62 L363.82,63.41 L364.15,62.33 L364.48,61.39 L364.81,60.61 L365.14,60.00 L365.47,59.59 L365.80,59.38 L366.13,59.39 L366.46,59.62 L366.79,60.05 L367.12,60.67 L367.45,61.47 L367.78,62.42 L368.11,63.51 L368.44,64.74 L368.77,66.08 L369.10,67.54 L369.43,69.12 L369.76,70.82 L370.09,72.63 L370.42,74.57 L370.75,76.62 L371.08,78.79 L371.41,81.08 L371.74,83.48 L372.07,85.98 L372.40,88.59 L372.73,91.30 L373.06,94.10 L373.39,96.99 L373.72,99.95 L374.05,102.99 L374.38,106.09 L374.71,109.25 L375.04,112.47 L375.37,115.73 L375.70,119.02 L376.03,122.34 L376.36,125.69 L376.69,129.05 L377.02,132.42 L377.35,135.78 L377.68,139.14 L378.01,142.48 L378.34,145.80 L378.67,149.09 L379.00,152.34 L379.33,155.55 L379.66,158.70 L379.99,161.80 L380.32,164.84 L380.65,167.81 L380.98,170.72 L381.31,173.74 L381.64,177.04 L381.97,180.34 L382.30,183.16 L382.63,185.43 L382.96,187.67 L383.29,189.97 L383.62,192.06 L383.95,194.03 L384.28,195.85 L384.61,197.48 L384.94,198.95 L385.27,200.33 L385.60,201.64 L385.93,202.92 L386.26,204.17 L386.59,205.31 L386.92,206.22 L387.25,206.88 L387.58,207.34 L387.91,207.69 L388.24,207.96 L388.57,208.15 L388.90,208.30 L389.23,208.41 L389.56,208.50 L389.89,208.58 L390.22,208.65 L390.55,208.71 L390.88,208.76 L391.21,208.81 L391.54,208.84 L391.87,208.87 L392.20,208.89 L392.53,208.89 L392.86,208.90 L393.19,208.89 L393.52,208.87 L393.85,208.85 L394.18,208.82 L394.51,208.78 L394.84,208.73 L395.17,208.67 L395.50,208.61 L395.83,208.53 L396.16,208.44 L396.49,208.34 L396.82,208.21 L397.15,208.03 L397.48,207.79 L397.81,207.47 L398.14,207.05 L398.47,206.47 L398.80,205.64 L399.13,204.57 L399.46,203.34 L399.79,202.07 L400.12,200.77 L400.45,199.42 L400.78,197.98 L401.11,196.41 L401.44,194.66 L401.77,192.73 L402.10,190.70 L402.43,188.44 L402.76,186.16 L403.09,183.96 L403.42,181.36 L403.75,178.16 L404.08,174.82 L404.41,171.69 L404.74,168.79 L405.07,165.84 L405.40,162.82 L405.73,159.74 L406.06,156.60 L406.39,153.41 L406.72,150.18 L407.05,146.90 L407.38,143.59 L407.71,140.26 L408.04,136.90 L408.37,133.54 L408.70,130.17 L409.03,126.81 L409.36,123.46 L409.69,120.13 L410.02,116.82 L410.35,113.55 L410.68,110.32 L411.01,107.14 L411.34,104.02 L411.67,100.95 L412.00,97.97 L412.33,95.05 L412.66,92.22 L412.99,89.48 L413.32,86.84 L413.65,84.30 L413.98,81.86 L414.31,79.54 L414.64,77.33 L414.97,75.24 L415.30,73.26 L415.63,71.41 L415.96,69.67 L416.29,68.06 L416.62,66.55 L416.95,65.17 L417.28,63.91 L417.61,62.77 L417.94,61.77 L418.27,60.92 L418.60,60.23 L418.93,59.74 L419.26,59.45 L419.59,59.36 L419.92,59.50 L420.25,59.84 L420.58,60.38 L420.91,61.11 L421.24,62.00 L421.57,63.03 L421.90,64.20 L422.23,65.50 L422.56,66.91 L422.89,68.44 L423.22,70.08 L423.55,71.85 L423.88,73.73 L424.21,75.73 L424.54,77.85 L424.87,80.09 L425.20,82.44 L425.53,84.91 L425.86,87.47 L426.19,90.14 L426.52,92.90 L426.85,95.75 L427.18,98.68 L427.51,101.69 L427.84,104.77 L428.17,107.90 L428.50,111.10 L428.83,114.34 L429.16,117.62 L429.49,120.93 L429.82,124.27 L430.15,127.62 L430.48,130.99 L430.81,134.36 L431.14,137.72 L431.47,141.07 L431.80,144.39 L432.13,147.70 L432.46,150.96 L432.79,154.19 L433.12,157.37 L433.45,160.49 L433.78,163.56 L434.11,166.56 L434.44,169.49 L434.77,172.42 L435.10,175.62 L435.43,178.97 L435.76,182.05 L436.09,184.51 L436.42,186.70 L436.75,189.00 L437.08,191.20 L437.41,193.21 L437.74,195.10 L438.07,196.81 L438.40,198.34 L438.73,199.75 L439.06,201.09 L439.39,202.38 L439.72,203.64 L440.05,204.85 L440.38,205.87 L440.71,206.63 L441.04,207.16 L441.37,207.55 L441.70,207.85 L442.03,208.08 L442.36,208.24 L442.69,208.36 L443.02,208.46 L443.35,208.55 L443.68,208.62 L444.01,208.69 L444.34,208.74 L444.67,208.79 L445.00,208.83 L445.33,208.86 L445.66,208.88 L445.99,208.89 L446.32,208.90 L446.65,208.89 L446.98,208.88 L447.31,208.86 L447.64,208.83 L447.97,208.80 L448.30,208.75 L448.63,208.70 L448.96,208.63 L449.29,208.56 L449.62,208.48 L449.95,208.38 L450.28,208.26 L450.61,208.11 L450.94,207.90 L451.27,207.61 L451.60,207.24 L451.93,206.74 L452.26,206.03 L452.59,205.05 L452.92,203.87 L453.25,202.61 L453.58,201.32 L453.91,200.00 L454.24,198.61 L454.57,197.10 L454.90,195.42 L455.23,193.56 L455.56,191.57 L455.89,189.42 L456.22,187.12 L456.55,184.91 L456.88,182.54 L457.21,179.56 L457.54,176.22 L457.87,172.98 L458.20,170.02 L458.53,167.10 L458.86,164.11 L459.19,161.06 L459.52,157.94 L459.85,154.77 L460.18,151.55 L460.51,148.29 L460.84,145.00 L461.17,141.67 L461.50,138.33 L461.83,134.97 L462.16,131.60 L462.49,128.24 L462.82,124.88 L463.15,121.54 L463.48,118.22 L463.81,114.93 L464.14,111.68 L464.47,108.48 L464.80,105.33 L465.13,102.24 L465.46,99.22 L465.79,96.28 L466.12,93.41 L466.45,90.64 L466.78,87.95 L467.11,85.37 L467.44,82.88 L467.77,80.51 L468.10,78.25 L468.43,76.11 L468.76,74.09 L469.09,72.18 L469.42,70.39 L469.75,68.73 L470.08,67.18 L470.41,65.74 L470.74,64.43 L471.07,63.24 L471.40,62.17 L471.73,61.26 L472.06,60.50 L472.39,59.93 L472.72,59.54 L473.05,59.37 L473.38,59.41 L473.71,59.67 L474.04,60.13 L474.37,60.78 L474.70,61.60 L475.03,62.58 L475.36,63.69 L475.69,64.93 L476.02,66.29 L476.35,67.77 L476.68,69.37 L477.01,71.08 L477.34,72.92 L477.67,74.87 L478.00,76.94 L478.33,79.13 L478.66,81.43 L478.99,83.85 L479.32,86.37 L479.65,89.00 L479.98,91.72 L480.31,94.53 L480.64,97.43 L480.97,100.41 L481.30,103.45 L481.63,106.57 L481.96,109.74 L482.29,112.96 L482.62,116.22 L482.95,119.52 L483.28,122.85 L483.61,126.20 L483.94,129.56 L484.27,132.93 L484.60,136.29 L484.93,139.65 L485.26,142.99 L485.59,146.30 L485.92,149.58 L486.25,152.83 L486.58,156.03 L486.91,159.18 L487.24,162.27 L487.57,165.30 L487.90,168.26 L488.23,171.16 L488.56,174.23 L488.89,177.55 L489.22,180.81 L489.55,183.53 L489.88,185.76 L490.21,188.02 L490.54,190.31 L490.87,192.37 L491.20,194.32 L491.53,196.11 L491.86,197.71 L492.19,199.17 L492.52,200.53 L492.85,201.83 L493.18,203.11 L493.51,204.35 L493.84,205.46 L494.17,206.34 L494.50,206.96 L494.83,207.40 L495.16,207.73 L495.49,207.99 L495.82,208.18 L496.15,208.31 L496.48,208.42 L496.81,208.51 L497.14,208.59 L497.47,208.66 L497.80,208.72 L498.13,208.77 L498.46,208.81 L498.79,208.85 L499.12,208.87 L499.45,208.89 L499.78,208.90 L500.11,208.90 L500.44,208.89 L500.77,208.87 L501.10,208.85 L501.43,208.81 L501.76,208.77 L502.09,208.72 L502.42,208.66 L502.75,208.59 L503.08,208.52 L503.41,208.43 L503.74,208.32 L504.07,208.18 L504.40,208.00 L504.73,207.74 L505.06,207.41 L505.39,206.97 L505.72,206.36 L506.05,205.49 L506.38,204.39 L506.71,203.15 L507.04,201.87 L507.37,200.57 L507.70,199.21 L508.03,197.75 L508.36,196.16 L508.69,194.37 L509.02,192.43 L509.35,190.37 L509.68,188.09 L510.01,185.83 L510.34,183.60 L510.67,180.90 L511.00,177.65 L511.33,174.32 L511.66,171.24 L511.99,168.35 L512.32,165.39 L512.65,162.36 L512.98,159.27 L513.31,156.12 L513.64,152.92 L513.97,149.68 L514.30,146.40 L514.63,143.09 L514.96,139.75 L515.29,136.39 L515.62,133.03 L515.95,129.66 L516.28,126.30 L516.61,122.95 L516.94,119.62 L517.27,116.32 L517.60,113.06 L517.93,109.83 L518.26,106.66 L518.59,103.55 L518.92,100.50 L519.25,97.52 L519.58,94.62 L519.91,91.80 L520.24,89.08 L520.57,86.45 L520.90,83.92 L521.23,81.50 L521.56,79.20 L521.89,77.00 L522.22,74.93 L522.55,72.97 L522.88,71.14 L523.21,69.42 L523.54,67.82 L523.87,66.34 L524.20,64.97 L524.53,63.73 L524.86,62.61 L525.19,61.63 L525.52,60.80 L525.85,60.15 L526.18,59.68 L526.51,59.42 L526.84,59.37 L527.17,59.54 L527.50,59.91 L527.83,60.48 L528.16,61.23 L528.49,62.14 L528.82,63.20 L529.15,64.39 L529.48,65.70 L529.81,67.13 L530.14,68.68 L530.47,70.34 L530.80,72.12 L531.13,74.03 L531.46,76.05 L531.79,78.19 L532.12,80.44 L532.45,82.81 L532.78,85.29 L533.11,87.87 L533.44,90.55 L533.77,93.33 L534.10,96.19 L534.43,99.13 L534.76,102.15 L535.09,105.24 L535.42,108.39 L535.75,111.59 L536.08,114.83 L536.41,118.12 L536.74,121.44 L537.07,124.78 L537.40,128.13 L537.73,131.50 L538.06,134.87 L538.39,138.23 L538.72,141.57 L539.05,144.90 L539.38,148.19 L539.71,151.46 L540.04,154.68 L540.37,157.85 L540.70,160.96 L541.03,164.02 L541.36,167.01 L541.69,169.93 L542.02,172.89 L542.35,176.12 L542.68,179.47 L543.01,182.46 L543.34,184.84 L543.67,187.05 L544.00,189.35 L544.33,191.51 L544.66,193.51 L544.99,195.37 L545.32,197.05 L545.65,198.56 L545.98,199.96" stroke="#2ca02c"/>
<path d="M293.20,200.09 L293.53,199.06 L293.86,197.76 L294.19,196.24 L294.52,194.48 L294.85,192.55 L295.18,190.50 L295.51,188.23 L295.84,185.96 L296.17,183.75 L296.50,181.09 L296.83,177.85 L297.16,174.52 L297.49,171.42 L297.82,168.52 L298.15,165.57 L298.48,162.55 L298.81,159.46 L299.14,156.32 L299.47,153.12 L299.80,149.88 L300.13,146.60 L300.46,143.29 L300.79,139.95 L301.12,136.60 L301.45,133.23 L301.78,129.87 L302.11,126.50 L302.44,123.15 L302.77,119.82 L303.10,116.52 L303.43,113.25 L303.76,110.03 L304.09,106.85 L304.42,103.73 L304.75,100.68 L305.08,97.70 L305.41,94.79 L305.74,91.97 L306.07,89.24 L306.40,86.61 L306.73,84.07 L307.06,81.65 L307.39,79.33 L307.72,77.13 L308.05,75.05 L308.38,73.09 L308.71,71.25 L309.04,69.52 L309.37,67.91 L309.70,66.42 L310.03,65.05 L310.36,63.80 L310.69,62.67 L311.02,61.68 L311.35,60.85 L311.68,60.18 L312.01,59.70 L312.34,59.43 L312.67,59.37 L313.00,59.52 L313.33,59.88 L313.66,60.44 L313.99,61.18 L314.32,62.08 L314.65,63.13 L314.98,64.31 L315.31,65.62 L315.64,67.04 L315.97,68.58 L316.30,70.24 L316.63,72.01 L316.96,73.91 L317.29,75.92 L317.62,78.05 L317.95,80.30 L318.28,82.66 L318.61,85.14 L318.94,87.71 L319.27,90.39 L319.60,93.16 L319.93,96.01 L320.26,98.95 L320.59,101.97 L320.92,105.05 L321.25,108.19 L321.58,111.39 L321.91,114.63 L322.24,117.92 L322.57,121.23 L322.90,124.57 L323.23,127.93 L323.56,131.29 L323.89,134.66 L324.22,138.02 L324.55,141.37 L324.88,144.70 L325.21,147.99 L325.54,151.26 L325.87,154.48 L326.20,157.66 L326.53,160.78 L326.86,163.84 L327.19,166.83 L327.52,169.76 L327.85,172.70 L328.18,175.92 L328.51,179.27 L328.84,182.30 L329.17,184.71 L329.50,186.91 L329.83,189.21 L330.16,191.39 L330.49,193.38 L330.82,195.25 L331.15,196.91 L331.48,198.34 L331.81,199.54 L332.14,200.44 L332.47,201.03 L332.80,201.37 L333.13,201.55 L333.46,201.66 L333.79,201.74 L334.12,201.80 L334.45,201.86 L334.78,201.91 L335.11,201.96 L335.44,202.00 L335.77,202.04 L336.10,202.08 L336.43,202.11 L336.76,202.14 L337.09,202.17 L337.42,202.19 L337.75,202.21 L338.08,202.22 L338.41,202.24 L338.74,202.24 L339.07,202.25 L339.40,202.25 L339.73,202.25 L340.06,202.24 L340.39,202.24 L340.72,202.22 L341.05,202.21 L341.38,202.19 L341.71,202.17 L342.04,202.14 L342.37,202.11 L342.70,202.08 L343.03,202.04 L343.36,202.00 L343.69,201.96 L344.02,201.91 L344.35,201.86 L344.68,201.80 L345.01,201.74 L345.34,201.66 L345.67,201.55 L346.00,201.37 L346.33,201.03 L346.66,200.44 L346.99,199.54 L347.32,198.34 L347.65,196.91 L347.98,195.25 L348.31,193.38 L348.64,191.39 L348.97,189.21 L349.30,186.91 L349.63,184.71 L349.96,182.30 L350.29,179.27 L350.62,175.92 L350.95,172.70 L351.28,169.76 L351.61,166.83 L351.94,163.84 L352.27,160.78 L352.60,157.66 L352.93,154.48 L353.26,151.26 L353.59,147.99 L353.92,144.70 L354.25,141.37 L354.58,138.02 L354.91,134.66 L355.24,131.29 L355.57,127.93 L355.90,124.57 L356.23,121.23 L356.56,117.92 L356.89,114.63 L357.22,111.39 L357.55,108.19 L357.88,105.05 L358.21,101.97 L358.54,98.95 L358.87,96.01 L359.20,93.16 L359.53,90.39 L359.86,87.71 L360.19,85.14 L360.52,82.66 L360.85,80.30 L361.18,78.05 L361.51,75.92 L361.84,73.91 L362.17,72.01 L362.50,70.24 L362.83,68.58 L363.16,67.04 L363.49,65.62 L363.82,64.31 L364.15,63.13 L364.48,62.08 L364.81,61.18 L365.14,60.44 L365.47,59.88 L365.80,59.52 L366.13,59.37 L366.46,59.43 L366.79,59.70 L367.12,60.18 L367.45,60.85 L367.78,61.68 L368.11,62.67 L368.44,63.80 L368.77,65.05 L369.10,66.42 L369.43,67.91 L369.76,69.52 L370.09,71.25 L370.42,73.09 L370.75,75.05 L371.08,77.13 L371.41,79.33 L371.74,81.65 L372.07,84.07 L372.40,86.61 L372.73,89.24 L373.06,91.97 L373.39,94.79 L373.72,97.70 L374.05,100.68 L374.38,103.73 L374.71,106.85 L375.04,110.03 L375.37,113.25 L375.70,116.52 L376.03,119.82 L376.36,123.15 L376.69,126.50 L377.02,129.87 L377.35,133.23 L377.68,136.60 L378.01,139.95 L378.34,143.29 L378.67,146.60 L379.00,149.88 L379.33,153.12 L379.66,156.32 L379.99,159.46 L380.32,162.55 L380.65,165.57 L380.98,168.52 L381.31,171.42 L381.64,174.52 L381.97,177.85 L382.30,181.09 L382.63,183.75 L382.96,185.96 L383.29,188.23 L383.62,190.50 L383.95,192.55 L384.28,194.48 L384.61,196.24 L384.94,197.76 L385.27,199.06 L385.60,200.09 L385.93,200.81 L386.26,201.25 L386.59,201.49 L386.92,201.62 L387.25,201.71 L387.58,201.78 L387.91,201.84 L388.24,201.89 L388.57,201.94 L388.90,201.98 L389.23,202.03 L389.56,202.06 L389.89,202.10 L390.22,202.13 L390.55,202.16 L390.88,202.18 L391.21,202.20 L391.54,202.22 L391.87,202.23 L392.20,202.24 L392.53,202.25 L392.86,202.25 L393.19,202.25 L393.52,202.25 L393.85,202.24 L394.18,202.23 L394.51,202.21 L394.84,202.20 L395.17,202.18 L395.50,202.15 L395.83,202.12 L396.16,202.09 L396.49,202.06 L396.82,202.02 L397.15,201.98 L397.48,201.93 L397.81,201.88 L398.14,201.83 L398.47,201.77 L398.80,201.70 L399.13,201.60 L399.46,201.46 L399.79,201.20 L400.12,200.72 L400.45,199.96 L400.78,198.88 L401.11,197.54 L401.44,195.98 L401.77,194.20 L402.10,192.25 L402.43,190.17 L402.76,187.88 L403.09,185.63 L403.42,183.38 L403.75,180.62 L404.08,177.34 L404.41,174.03 L404.74,170.98 L405.07,168.08 L405.40,165.12 L405.73,162.08 L406.06,158.99 L406.39,155.83 L406.72,152.63 L407.05,149.38 L407.38,146.10 L407.71,142.78 L408.04,139.44 L408.37,136.09 L408.70,132.72 L409.03,129.36 L409.36,126.00 L409.69,122.65 L410.02,119.32 L410.35,116.02 L410.68,112.76 L411.01,109.54 L411.34,106.38 L411.67,103.27 L412.00,100.22 L412.33,97.25 L412.66,94.36 L412.99,91.55 L413.32,88.83 L413.65,86.22 L413.98,83.70 L414.31,81.29 L414.64,78.99 L414.97,76.81 L415.30,74.75 L415.63,72.80 L415.96,70.98 L416.29,69.27 L416.62,67.68 L416.95,66.21 L417.28,64.85 L417.61,63.62 L417.94,62.51 L418.27,61.55 L418.60,60.73 L418.93,60.10 L419.26,59.65 L419.59,59.41 L419.92,59.38 L420.25,59.56 L420.58,59.95 L420.91,60.54 L421.24,61.31 L421.57,62.23 L421.90,63.30 L422.23,64.50 L422.56,65.83 L422.89,67.27 L423.22,68.83 L423.55,70.50 L423.88,72.29 L424.21,74.20 L424.54,76.24 L424.87,78.39 L425.20,80.65 L425.53,83.03 L425.86,85.52 L426.19,88.11 L426.52,90.80 L426.85,93.58 L427.18,96.45 L427.51,99.41 L427.84,102.43 L428.17,105.52 L428.50,108.67 L428.83,111.88 L429.16,115.13 L429.49,118.42 L429.82,121.74 L430.15,125.08 L430.48,128.44 L430.81,131.81 L431.14,135.17 L431.47,138.53 L431.80,141.88 L432.13,145.20 L432.46,148.49 L432.79,151.75 L433.12,154.97 L433.45,158.13 L433.78,161.24 L434.11,164.29 L434.44,167.28 L434.77,170.19 L435.10,173.17 L435.43,176.43 L435.76,179.76 L436.09,182.70 L436.42,185.04 L436.75,187.26 L437.08,189.56 L437.41,191.70 L437.74,193.68 L438.07,195.52 L438.40,197.14 L438.73,198.54 L439.06,199.69 L439.39,200.55 L439.72,201.09 L440.05,201.40 L440.38,201.57 L440.71,201.67 L441.04,201.75 L441.37,201.81 L441.70,201.87 L442.03,201.92 L442.36,201.97 L442.69,202.01 L443.02,202.05 L443.35,202.08 L443.68,202.12 L444.01,202.14 L444.34,202.17 L444.67,202.19 L445.00,202.21 L445.33,202.23 L445.66,202.24 L445.99,202.24 L446.32,202.25 L446.65,202.25 L446.98,202.25 L447.31,202.24 L447.64,202.23 L447.97,202.22 L448.30,202.21 L448.63,202.19 L448.96,202.16 L449.29,202.14 L449.62,202.11 L449.95,202.07 L450.28,202.04 L450.61,202.00 L450.94,201.95 L451.27,201.90 L451.60,201.85 L451.93,201.79 L452.26,201.73 L452.59,201.65 L452.92,201.53 L453.25,201.33 L453.58,200.96 L453.91,200.32 L454.24,199.37 L454.57,198.14 L454.90,196.67 L455.23,194.98 L455.56,193.09 L455.89,191.08 L456.22,188.86 L456.55,186.57 L456.88,184.37 L457.21,181.88 L457.54,178.77 L457.87,175.42 L458.20,172.24 L458.53,169.32 L458.86,166.38 L459.19,163.38 L459.52,160.31 L459.85,157.18 L460.18,154.00 L460.51,150.77 L460.84,147.50 L461.17,144.19 L461.50,140.86 L461.83,137.51 L462.16,134.15 L462.49,130.78 L462.82,127.42 L463.15,124.07 L463.48,120.73 L463.81,117.42 L464.14,114.14 L464.47,110.90 L464.80,107.71 L465.13,104.58 L465.46,101.51 L465.79,98.50 L466.12,95.58 L466.45,92.73 L466.78,89.98 L467.11,87.31 L467.44,84.75 L467.77,82.30 L468.10,79.95 L468.43,77.72 L468.76,75.61 L469.09,73.61 L469.42,71.74 L469.75,69.98 L470.08,68.34 L470.41,66.82 L470.74,65.41 L471.07,64.13 L471.40,62.97 L471.73,61.94 L472.06,61.06 L472.39,60.34 L472.72,59.81 L473.05,59.48 L473.38,59.36 L473.71,59.46 L474.04,59.76 L474.37,60.27 L474.70,60.96 L475.03,61.82 L475.36,62.83 L475.69,63.98 L476.02,65.25 L476.35,66.64 L476.68,68.15 L477.01,69.77 L477.34,71.52 L477.67,73.38 L478.00,75.36 L478.33,77.46 L478.66,79.68 L478.99,82.01 L479.32,84.45 L479.65,87.00 L479.98,89.65 L480.31,92.39 L480.64,95.23 L480.97,98.14 L481.30,101.14 L481.63,104.20 L481.96,107.33 L482.29,110.51 L482.62,113.75 L482.95,117.02 L483.28,120.33 L483.61,123.66 L483.94,127.01 L484.27,130.38 L484.60,133.74 L484.93,137.11 L485.26,140.46 L485.59,143.79 L485.92,147.10 L486.25,150.37 L486.58,153.61 L486.91,156.80 L487.24,159.93 L487.57,163.01 L487.90,166.02 L488.23,168.97 L488.56,171.87 L488.89,175.02 L489.22,178.36 L489.55,181.53 L489.88,184.10 L490.21,186.30 L490.54,188.58 L490.87,190.83 L491.20,192.85 L491.53,194.76 L491.86,196.48 L492.19,197.97 L492.52,199.24 L492.85,200.22 L493.18,200.90 L493.51,201.29 L493.84,201.51 L494.17,201.64 L494.50,201.72 L494.83,201.79 L495.16,201.84 L495.49,201.90 L495.82,201.95 L496.15,201.99 L496.48,202.03 L496.81,202.07 L497.14,202.10 L497.47,202.13 L497.80,202.16 L498.13,202.18 L498.46,202.20 L498.79,202.22 L499.12,202.23 L499.45,202.24 L499.78,202.25 L500.11,202.25 L500.44,202.25 L500.77,202.25 L501.10,202.24 L501.43,202.23 L501.76,202.21 L502.09,202.19 L502.42,202.17 L502.75,202.15 L503.08,202.12 L503.41,202.09 L503.74,202.05 L504.07,202.01 L504.40,201.97 L504.73,201.92 L505.06,201.87 L505.39,201.82 L505.72,201.76 L506.05,201.68 L506.38,201.59 L506.71,201.43 L507.04,201.14 L507.37,200.63 L507.70,199.81 L508.03,198.69 L508.36,197.32 L508.69,195.73 L509.02,193.91 L509.35,191.94 L509.68,189.83 L510.01,187.53 L510.34,185.30 L510.67,183.01 L511.00,180.15 L511.33,176.83 L511.66,173.55 L511.99,170.54 L512.32,167.64 L512.65,164.66 L512.98,161.62 L513.31,158.51 L513.64,155.35 L513.97,152.14 L514.30,148.89 L514.63,145.60 L514.96,142.28 L515.29,138.94 L515.62,135.58 L515.95,132.21 L516.28,128.85 L516.61,125.49 L516.94,122.14 L517.27,118.82 L517.60,115.53 L517.93,112.27 L518.26,109.06 L518.59,105.90 L518.92,102.80 L519.25,99.77 L519.58,96.81 L519.91,93.93 L520.24,91.13 L520.57,88.43 L520.90,85.83 L521.23,83.33 L521.56,80.93 L521.89,78.65 L522.22,76.49 L522.55,74.44 L522.88,72.52 L523.21,70.71 L523.54,69.02 L523.87,67.45 L524.20,66.00 L524.53,64.66 L524.86,63.44 L525.19,62.36 L525.52,61.41 L525.85,60.63 L526.18,60.02 L526.51,59.60 L526.84,59.39 L527.17,59.39 L527.50,59.61 L527.83,60.03 L528.16,60.65 L528.49,61.44 L528.82,62.39 L529.15,63.48 L529.48,64.70 L529.81,66.04 L530.14,67.50 L530.47,69.07 L530.80,70.76 L531.13,72.57 L531.46,74.50 L531.79,76.55 L532.12,78.72 L532.45,81.01 L532.78,83.40 L533.11,85.91 L533.44,88.51 L533.77,91.22 L534.10,94.01 L534.43,96.90 L534.76,99.86 L535.09,102.89 L535.42,106.00 L535.75,109.16 L536.08,112.37 L536.41,115.63 L536.74,118.92 L537.07,122.24 L537.40,125.59 L537.73,128.95 L538.06,132.32 L538.39,135.68 L538.72,139.04 L539.05,142.38 L539.38,145.70 L539.71,148.99 L540.04,152.24 L540.37,155.45 L540.70,158.61 L541.03,161.71 L541.36,164.75 L541.69,167.73 L542.02,170.63 L542.35,173.65 L542.68,176.94 L543.01,180.25 L543.34,183.09 L543.67,185.37 L544.00,187.60 L544.33,189.90 L544.66,192.00 L544.99,193.97 L545.32,195.78 L545.65,197.37 L545.98,198.73" stroke="#d62728"/>
<path d="M293.20,195.97 L293.53,195.85 L293.86,195.68 L294.19,195.42 L294.52,194.88 L294.85,193.74 L295.18,192.01 L295.51,189.96 L295.84,187.67 L296.17,185.43 L296.50,183.16 L296.83,180.34 L297.16,177.04 L297.49,173.74 L297.82,170.72 L298.15,167.81 L298.48,164.84 L298.81,161.80 L299.14,158.70 L299.47,155.55 L299.80,152.34 L300.13,149.09 L300.46,145.80 L300.79,142.48 L301.12,139.14 L301.45,135.78 L301.78,132.42 L302.11,129.05 L302.44,125.69 L302.77,122.34 L303.10,119.02 L303.43,115.73 L303.76,112.47 L304.09,109.25 L304.42,106.09 L304.75,102.99 L305.08,99.95 L305.41,96.99 L305.74,94.10 L306.07,91.30 L306.40,88.59 L306.73,85.98 L307.06,83.48 L307.39,81.08 L307.72,78.79 L308.05,76.62 L308.38,74.57 L308.71,72.63 L309.04,70.82 L309.37,69.12 L309.70,67.54 L310.03,66.08 L310.36,64.74 L310.69,63.51 L311.02,62.42 L311.35,61.47 L311.68,60.67 L312.01,60.05 L312.34,59.62 L312.67,59.39 L313.00,59.38 L313.33,59.59 L313.66,60.00 L313.99,60.61 L314.32,61.39 L314.65,62.33 L314.98,63.41 L315.31,64.62 L315.64,65.95 L315.97,67.40 L316.30,68.97 L316.63,70.66 L316.96,72.46 L317.29,74.38 L317.62,76.43 L317.95,78.59 L318.28,80.86 L318.61,83.25 L318.94,85.75 L319.27,88.35 L319.60,91.05 L319.93,93.84 L320.26,96.72 L320.59,99.68 L320.92,102.71 L321.25,105.81 L321.58,108.96 L321.91,112.17 L322.24,115.43 L322.57,118.72 L322.90,122.04 L323.23,125.39 L323.56,128.74 L323.89,132.11 L324.22,135.48 L324.55,138.84 L324.88,142.18 L325.21,145.50 L325.54,148.79 L325.87,152.04 L326.20,155.26 L326.53,158.42 L326.86,161.52 L327.19,164.57 L327.52,167.55 L327.85,170.45 L328.18,173.45 L328.51,176.73 L328.84,180.05 L329.17,182.93 L329.50,185.24 L329.83,187.46 L330.16,189.76 L330.49,191.83 L330.82,193.61 L331.15,194.81 L331.48,195.38 L331.81,195.66 L332.14,195.84 L332.47,195.96 L332.80,196.04 L333.13,196.08 L333.46,196.07 L333.79,196.04 L334.12,195.99 L334.45,195.94 L334.78,195.91 L335.11,195.92 L335.44,195.96 L335.77,196.03 L336.10,196.13 L336.43,196.24 L336.76,196.34 L337.09,196.41 L337.42,196.44 L337.75,196.43 L338.08,196.39 L338.41,196.32 L338.74,196.24 L339.07,196.17 L339.40,196.12 L339.73,196.11 L340.06,196.14 L340.39,196.20 L340.72,196.28 L341.05,196.35 L341.38,196.41 L341.71,196.44 L342.04,196.43 L342.37,196.38 L342.70,196.30 L343.03,196.19 L343.36,196.08 L343.69,195.99 L344.02,195.93 L344.35,195.91 L344.68,195.92 L345.01,195.96 L345.34,196.01 L345.67,196.06 L346.00,196.08 L346.33,196.06 L346.66,196.01 L346.99,195.91 L347.32,195.76 L347.65,195.55 L347.98,195.16 L348.31,194.31 L348.64,192.79 L348.97,190.87 L349.30,188.65 L349.63,186.36 L349.96,184.17 L350.29,181.62 L350.62,178.46 L350.95,175.12 L351.28,171.96 L351.61,169.05 L351.94,166.11 L352.27,163.10 L352.60,160.02 L352.93,156.89 L353.26,153.70 L353.59,150.47 L353.92,147.20 L354.25,143.89 L354.58,140.56 L354.91,137.21 L355.24,133.85 L355.57,130.48 L355.90,127.11 L356.23,123.76 L356.56,120.43 L356.89,117.12 L357.22,113.84 L357.55,110.61 L357.88,107.43 L358.21,104.30 L358.54,101.23 L358.87,98.23 L359.20,95.31 L359.53,92.48 L359.86,89.73 L360.19,87.08 L360.52,84.53 L360.85,82.08 L361.18,79.75 L361.51,77.53 L361.84,75.42 L362.17,73.44 L362.50,71.57 L362.83,69.83 L363.16,68.20 L363.49,66.69 L363.82,65.29 L364.15,64.02 L364.48,62.87 L364.81,61.85 L365.14,60.99 L365.47,60.29 L365.80,59.78 L366.13,59.46 L366.46,59.36 L366.79,59.48 L367.12,59.80 L367.45,60.33 L367.78,61.03 L368.11,61.91 L368.44,62.93 L368.77,64.09 L369.10,65.37 L369.43,66.77 L369.76,68.29 L370.09,69.93 L370.42,71.68 L370.75,73.55 L371.08,75.55 L371.41,77.66 L371.74,79.88 L372.07,82.23 L372.40,84.68 L372.73,87.24 L373.06,89.89 L373.39,92.65 L373.72,95.49 L374.05,98.41 L374.38,101.41 L374.71,104.48 L375.04,107.62 L375.37,110.81 L375.70,114.04 L376.03,117.32 L376.36,120.63 L376.69,123.96 L377.02,127.32 L377.35,130.68 L377.68,134.05 L378.01,137.41 L378.34,140.76 L378.67,144.09 L379.00,147.40 L379.33,150.67 L379.66,153.90 L379.99,157.08 L380.32,160.21 L380.65,163.28 L380.98,166.29 L381.31,169.23 L381.64,172.14 L381.97,175.32 L382.30,178.67 L382.63,181.79 L382.96,184.31 L383.29,186.50 L383.62,188.79 L383.95,190.99 L384.28,192.90 L384.61,194.38 L384.94,195.19 L385.27,195.56 L385.60,195.77 L385.93,195.91 L386.26,196.01 L386.59,196.07 L386.92,196.08 L387.25,196.05 L387.58,196.01 L387.91,195.96 L388.24,195.92 L388.57,195.91 L388.90,195.94 L389.23,196.00 L389.56,196.09 L389.89,196.20 L390.22,196.30 L390.55,196.38 L390.88,196.43 L391.21,196.44 L391.54,196.41 L391.87,196.35 L392.20,196.27 L392.53,196.19 L392.86,196.14 L393.19,196.11 L393.52,196.12 L393.85,196.17 L394.18,196.24 L394.51,196.32 L394.84,196.39 L395.17,196.44 L395.50,196.44 L395.83,196.41 L396.16,196.33 L396.49,196.24 L396.82,196.13 L397.15,196.03 L397.48,195.95 L397.81,195.91 L398.14,195.91 L398.47,195.94 L398.80,195.99 L399.13,196.04 L399.46,196.07 L399.79,196.08 L400.12,196.04 L400.45,195.95 L400.78,195.83 L401.11,195.65 L401.44,195.36 L401.77,194.75 L402.10,193.51 L402.43,191.71 L402.76,189.62 L403.09,187.32 L403.42,185.11 L403.75,182.78 L404.08,179.86 L404.41,176.53 L404.74,173.26 L405.07,170.28 L405.40,167.37 L405.73,164.39 L406.06,161.34 L406.39,158.23 L406.72,155.06 L407.05,151.85 L407.38,148.59 L407.71,145.30 L408.04,141.98 L408.37,138.63 L408.70,135.27 L409.03,131.91 L409.36,128.54 L409.69,125.18 L410.02,121.84 L410.35,118.52 L410.68,115.23 L411.01,111.98 L411.34,108.77 L411.67,105.62 L412.00,102.52 L412.33,99.50 L412.66,96.54 L412.99,93.67 L413.32,90.88 L413.65,88.19 L413.98,85.60 L414.31,83.11 L414.64,80.72 L414.97,78.45 L415.30,76.30 L415.63,74.26 L415.96,72.35 L416.29,70.55 L416.62,68.87 L416.95,67.31 L417.28,65.87 L417.61,64.54 L417.94,63.34 L418.27,62.26 L418.60,61.33 L418.93,60.56 L419.26,59.97 L419.59,59.57 L419.92,59.38 L420.25,59.40 L420.58,59.64 L420.91,60.08 L421.24,60.71 L421.57,61.52 L421.90,62.48 L422.23,63.58 L422.56,64.81 L422.89,66.17 L423.22,67.63 L423.55,69.22 L423.88,70.92 L424.21,72.75 L424.54,74.69 L424.87,76.75 L425.20,78.93 L425.53,81.22 L425.86,83.62 L426.19,86.14 L426.52,88.75 L426.85,91.47 L427.18,94.27 L427.51,97.16 L427.84,100.13 L428.17,103.17 L428.50,106.28 L428.83,109.45 L429.16,112.66 L429.49,115.92 L429.82,119.22 L430.15,122.55 L430.48,125.89 L430.81,129.25 L431.14,132.62 L431.47,135.99 L431.80,139.34 L432.13,142.68 L432.46,146.00 L432.79,149.29 L433.12,152.53 L433.45,155.74 L433.78,158.89 L434.11,161.99 L434.44,165.02 L434.77,167.99 L435.10,170.89 L435.43,173.93 L435.76,177.24 L436.09,180.53 L436.42,183.31 L436.75,185.56 L437.08,187.81 L437.41,190.10 L437.74,192.12 L438.07,193.83 L438.40,194.93 L438.73,195.44 L439.06,195.69 L439.39,195.86 L439.72,195.98 L440.05,196.05 L440.38,196.08 L440.71,196.07 L441.04,196.03 L441.37,195.98 L441.70,195.93 L442.03,195.91 L442.36,195.92 L442.69,195.97 L443.02,196.05 L443.35,196.15 L443.68,196.26 L444.01,196.35 L444.34,196.42 L444.67,196.44 L445.00,196.43 L445.33,196.38 L445.66,196.30 L445.99,196.22 L446.32,196.16 L446.65,196.12 L446.98,196.11 L447.31,196.15 L447.64,196.21 L447.97,196.29 L448.30,196.36 L448.63,196.42 L448.96,196.44 L449.29,196.43 L449.62,196.37 L449.95,196.28 L450.28,196.17 L450.61,196.07 L450.94,195.98 L451.27,195.93 L451.60,195.91 L451.93,195.92 L452.26,195.97 L452.59,196.02 L452.92,196.06 L453.25,196.08 L453.58,196.06 L453.91,195.99 L454.24,195.89 L454.57,195.73 L454.90,195.50 L455.23,195.07 L455.56,194.12 L455.89,192.52 L456.22,190.55 L456.55,188.30 L456.88,186.03 L457.21,183.82 L457.54,181.18 L457.87,177.96 L458.20,174.62 L458.53,171.51 L458.86,168.61 L459.19,165.66 L459.52,162.64 L459.85,159.55 L460.18,156.41 L460.51,153.22 L460.84,149.98 L461.17,146.70 L461.50,143.39 L461.83,140.05 L462.16,136.70 L462.49,133.34 L462.82,129.97 L463.15,126.61 L463.48,123.26 L463.81,119.92 L464.14,116.62 L464.47,113.35 L464.80,110.12 L465.13,106.95 L465.46,103.83 L465.79,100.77 L466.12,97.79 L466.45,94.88 L466.78,92.06 L467.11,89.32 L467.44,86.68 L467.77,84.15 L468.10,81.72 L468.43,79.40 L468.76,77.20 L469.09,75.11 L469.42,73.15 L469.75,71.30 L470.08,69.57 L470.41,67.96 L470.74,66.47 L471.07,65.09 L471.40,63.83 L471.73,62.70 L472.06,61.71 L472.39,60.87 L472.72,60.20 L473.05,59.72 L473.38,59.43 L473.71,59.37 L474.04,59.51 L474.37,59.87 L474.70,60.42 L475.03,61.16 L475.36,62.05 L475.69,63.10 L476.02,64.28 L476.35,65.58 L476.68,67.00 L477.01,68.53 L477.34,70.19 L477.67,71.96 L478.00,73.85 L478.33,75.86 L478.66,77.99 L478.99,80.23 L479.32,82.59 L479.65,85.06 L479.98,87.63 L480.31,90.30 L480.64,93.07 L480.97,95.93 L481.30,98.86 L481.63,101.88 L481.96,104.96 L482.29,108.10 L482.62,111.29 L482.95,114.54 L483.28,117.82 L483.61,121.13 L483.94,124.47 L484.27,127.83 L484.60,131.19 L484.93,134.56 L485.26,137.92 L485.59,141.27 L485.92,144.60 L486.25,147.90 L486.58,151.16 L486.91,154.38 L487.24,157.56 L487.57,160.68 L487.90,163.74 L488.23,166.74 L488.56,169.67 L488.89,172.61 L489.22,175.82 L489.55,179.17 L489.88,182.21 L490.21,184.64 L490.54,186.84 L490.87,189.14 L491.20,191.30 L491.53,193.16 L491.86,194.55 L492.19,195.27 L492.52,195.60 L492.85,195.79 L493.18,195.93 L493.51,196.02 L493.84,196.07 L494.17,196.08 L494.50,196.05 L494.83,196.00 L495.16,195.95 L495.49,195.91 L495.82,195.91 L496.15,195.94 L496.48,196.01 L496.81,196.11 L497.14,196.21 L497.47,196.32 L497.80,196.39 L498.13,196.44 L498.46,196.44 L498.79,196.40 L499.12,196.34 L499.45,196.26 L499.78,196.18 L500.11,196.13 L500.44,196.11 L500.77,196.13 L501.10,196.18 L501.43,196.25 L501.76,196.33 L502.09,196.40 L502.42,196.44 L502.75,196.44 L503.08,196.40 L503.41,196.32 L503.74,196.22 L504.07,196.11 L504.40,196.02 L504.73,195.95 L505.06,195.91 L505.39,195.91 L505.72,195.95 L506.05,196.00 L506.38,196.05 L506.71,196.08 L507.04,196.07 L507.37,196.03 L507.70,195.94 L508.03,195.80 L508.36,195.61 L508.69,195.30 L509.02,194.61 L509.35,193.27 L509.68,191.42 L510.01,189.28 L510.34,186.98 L510.67,184.78 L511.00,182.38 L511.33,179.37 L511.66,176.02 L511.99,172.79 L512.32,169.84 L512.65,166.92 L512.98,163.93 L513.31,160.87 L513.64,157.75 L513.97,154.58 L514.30,151.36 L514.63,148.09 L514.96,144.80 L515.29,141.47 L515.62,138.12 L515.95,134.76 L516.28,131.40 L516.61,128.03 L516.94,124.67 L517.27,121.33 L517.60,118.02 L517.93,114.73 L518.26,111.49 L518.59,108.29 L518.92,105.14 L519.25,102.06 L519.58,99.04 L519.91,96.10 L520.24,93.24 L520.57,90.47 L520.90,87.79 L521.23,85.21 L521.56,82.74 L521.89,80.37 L522.22,78.12 L522.55,75.98 L522.88,73.97 L523.21,72.07 L523.54,70.29 L523.87,68.63 L524.20,67.09 L524.53,65.66 L524.86,64.35 L525.19,63.17 L525.52,62.11 L525.85,61.21 L526.18,60.46 L526.51,59.90 L526.84,59.53 L527.17,59.37 L527.50,59.42 L527.83,59.69 L528.16,60.16 L528.49,60.82 L528.82,61.65 L529.15,62.64 L529.48,63.76 L529.81,65.01 L530.14,66.38 L530.47,67.87 L530.80,69.47 L531.13,71.19 L531.46,73.03 L531.79,74.99 L532.12,77.07 L532.45,79.27 L532.78,81.58 L533.11,84.00 L533.44,86.53 L533.77,89.16 L534.10,91.89 L534.43,94.71 L534.76,97.61 L535.09,100.59 L535.42,103.64 L535.75,106.76 L536.08,109.93 L536.41,113.15 L536.74,116.42 L537.07,119.72 L537.40,123.05 L537.73,126.40 L538.06,129.76 L538.39,133.13 L538.72,136.50 L539.05,139.85 L539.38,143.19 L539.71,146.50 L540.04,149.78 L540.37,153.02 L540.70,156.22 L541.03,159.36 L541.36,162.45 L541.69,165.48 L542.02,168.44 L542.35,171.33 L542.68,174.42 L543.01,177.75 L543.34,181.00 L543.67,183.68 L544.00,185.89 L544.33,188.16 L544.66,190.42 L544.99,192.41 L545.32,194.04 L545.65,195.03 L545.98,195.49" stroke="#9467bd"/>
<path d="M293.20,192.89 L293.53,192.90 L293.86,192.90 L294.19,192.90 L294.52,192.89 L294.85,192.80 L295.18,192.42 L295.51,191.28 L295.84,189.37 L296.17,187.11 L296.50,184.91 L296.83,182.54 L297.16,179.56 L297.49,176.22 L297.82,172.98 L298.15,170.02 L298.48,167.10 L298.81,164.11 L299.14,161.06 L299.47,157.94 L299.80,154.77 L300.13,151.55 L300.46,148.29 L300.79,145.00 L301.12,141.67 L301.45,138.33 L301.78,134.97 L302.11,131.60 L302.44,128.24 L302.77,124.88 L303.10,121.54 L303.43,118.22 L303.76,114.93 L304.09,111.68 L304.42,108.48 L304.75,105.33 L305.08,102.24 L305.41,99.22 L305.74,96.28 L306.07,93.41 L306.40,90.64 L306.73,87.95 L307.06,85.37 L307.39,82.88 L307.72,80.51 L308.05,78.25 L308.38,76.11 L308.71,74.09 L309.04,72.18 L309.37,70.39 L309.70,68.73 L310.03,67.18 L310.36,65.74 L310.69,64.43 L311.02,63.24 L311.35,62.17 L311.68,61.26 L312.01,60.50 L312.34,59.93 L312.67,59.54 L313.00,59.37 L313.33,59.41 L313.66,59.67 L313.99,60.13 L314.32,60.78 L314.65,61.60 L314.98,62.58 L315.31,63.69 L315.64,64.93 L315.97,66.29 L316.30,67.77 L316.63,69.37 L316.96,71.08 L317.29,72.92 L317.62,74.87 L317.95,76.94 L318.28,79.13 L318.61,81.43 L318.94,83.85 L319.27,86.37 L319.60,89.00 L319.93,91.72 L320.26,94.53 L320.59,97.43 L320.92,100.41 L321.25,103.45 L321.58,106.57 L321.91,109.74 L322.24,112.96 L322.57,116.22 L322.90,119.52 L323.23,122.85 L323.56,126.20 L323.89,129.56 L324.22,132.93 L324.55,136.29 L324.88,139.65 L325.21,142.99 L325.54,146.30 L325.87,149.58 L326.20,152.83 L326.53,156.03 L326.86,159.18 L327.19,162.27 L327.52,165.30 L327.85,168.26 L328.18,171.16 L328.51,174.23 L328.84,177.55 L329.17,180.81 L329.50,183.53 L329.83,185.76 L330.16,188.01 L330.49,190.21 L330.82,191.84 L331.15,192.64 L331.48,192.85 L331.81,192.90 L332.14,192.90 L332.47,192.90 L332.80,192.90 L333.13,192.89 L333.46,192.88 L333.79,192.86 L334.12,192.84 L334.45,192.81 L334.78,192.77 L335.11,192.72 L335.44,192.66 L335.77,192.58 L336.10,192.49 L336.43,192.39 L336.76,192.27 L337.09,192.15 L337.42,192.01 L337.75,191.88 L338.08,191.75 L338.41,191.62 L338.74,191.52 L339.07,191.43 L339.40,191.37 L339.73,191.34 L340.06,191.34 L340.39,191.37 L340.72,191.43 L341.05,191.51 L341.38,191.62 L341.71,191.74 L342.04,191.87 L342.37,192.01 L342.70,192.14 L343.03,192.27 L343.36,192.39 L343.69,192.49 L344.02,192.58 L344.35,192.66 L344.68,192.72 L345.01,192.77 L345.34,192.81 L345.67,192.84 L346.00,192.86 L346.33,192.88 L346.66,192.89 L346.99,192.90 L347.32,192.90 L347.65,192.90 L347.98,192.90 L348.31,192.85 L348.64,192.65 L348.97,191.88 L349.30,190.27 L349.63,188.08 L349.96,185.83 L350.29,183.60 L350.62,180.90 L350.95,177.65 L351.28,174.32 L351.61,171.24 L351.94,168.35 L352.27,165.39 L352.60,162.36 L352.93,159.27 L353.26,156.12 L353.59,152.92 L353.92,149.68 L354.25,146.40 L354.58,143.09 L354.91,139.75 L355.24,136.39 L355.57,133.03 L355.90,129.66 L356.23,126.30 L356.56,122.95 L356.89,119.62 L357.22,116.32 L357.55,113.06 L357.88,109.83 L358.21,106.66 L358.54,103.55 L358.87,100.50 L359.20,97.52 L359.53,94.62 L359.86,91.80 L360.19,89.08 L360.52,86.45 L360.85,83.92 L361.18,81.50 L361.51,79.20 L361.84,77.00 L362.17,74.93 L362.50,72.97 L362.83,71.14 L363.16,69.42 L363.49,67.82 L363.82,66.34 L364.15,64.97 L364.48,63.73 L364.81,62.61 L365.14,61.63 L365.47,60.80 L365.80,60.15 L366.13,59.68 L366.46,59.42 L366.79,59.37 L367.12,59.54 L367.45,59.91 L367.78,60.48 L368.11,61.23 L368.44,62.14 L368.77,63.20 L369.10,64.39 L369.43,65.70 L369.76,67.13 L370.09,68.68 L370.42,70.34 L370.75,72.12 L371.08,74.03 L371.41,76.05 L371.74,78.19 L372.07,80.44 L372.40,82.81 L372.73,85.29 L373.06,87.87 L373.39,90.55 L373.72,93.33 L374.05,96.19 L374.38,99.13 L374.71,102.15 L375.04,105.24 L375.37,108.39 L375.70,111.59 L376.03,114.83 L376.36,118.12 L376.69,121.44 L377.02,124.78 L377.35,128.13 L377.68,131.50 L378.01,134.87 L378.34,138.23 L378.67,141.57 L379.00,144.90 L379.33,148.19 L379.66,151.46 L379.99,154.68 L380.32,157.85 L380.65,160.96 L380.98,164.02 L381.31,167.01 L381.64,169.93 L381.97,172.89 L382.30,176.12 L382.63,179.47 L382.96,182.46 L383.29,184.84 L383.62,187.04 L383.95,189.31 L384.28,191.24 L384.61,192.40 L384.94,192.80 L385.27,192.88 L385.60,192.90 L385.93,192.90 L386.26,192.90 L386.59,192.89 L386.92,192.88 L387.25,192.87 L387.58,192.85 L387.91,192.82 L388.24,192.79 L388.57,192.74 L388.90,192.69 L389.23,192.62 L389.56,192.53 L389.89,192.44 L390.22,192.32 L390.55,192.20 L390.88,192.07 L391.21,191.94 L391.54,191.80 L391.87,191.67 L392.20,191.56 L392.53,191.46 L392.86,191.39 L393.19,191.35 L393.52,191.33 L393.85,191.35 L394.18,191.40 L394.51,191.47 L394.84,191.57 L395.17,191.69 L395.50,191.82 L395.83,191.95 L396.16,192.09 L396.49,192.22 L396.82,192.34 L397.15,192.45 L397.48,192.54 L397.81,192.63 L398.14,192.69 L398.47,192.75 L398.80,192.79 L399.13,192.83 L399.46,192.85 L399.79,192.87 L400.12,192.89 L400.45,192.90 L400.78,192.90 L401.11,192.90 L401.44,192.90 L401.77,192.88 L402.10,192.77 L402.43,192.31 L402.76,191.04 L403.09,189.04 L403.42,186.77 L403.75,184.58 L404.08,182.13 L404.41,179.07 L404.74,175.72 L405.07,172.51 L405.40,169.58 L405.73,166.65 L406.06,163.65 L406.39,160.59 L406.72,157.46 L407.05,154.29 L407.38,151.06 L407.71,147.80 L408.04,144.50 L408.37,141.17 L408.70,137.82 L409.03,134.46 L409.36,131.09 L409.69,127.73 L410.02,124.37 L410.35,121.03 L410.68,117.72 L411.01,114.44 L411.34,111.20 L411.67,108.00 L412.00,104.86 L412.33,101.78 L412.66,98.77 L412.99,95.84 L413.32,92.99 L413.65,90.22 L413.98,87.55 L414.31,84.98 L414.64,82.52 L414.97,80.16 L415.30,77.92 L415.63,75.80 L415.96,73.79 L416.29,71.90 L416.62,70.13 L416.95,68.49 L417.28,66.95 L417.61,65.54 L417.94,64.24 L418.27,63.07 L418.60,62.03 L418.93,61.13 L419.26,60.40 L419.59,59.85 L419.92,59.51 L420.25,59.37 L420.58,59.44 L420.91,59.73 L421.24,60.22 L421.57,60.89 L421.90,61.74 L422.23,62.74 L422.56,63.87 L422.89,65.13 L423.22,66.51 L423.55,68.01 L423.88,69.62 L424.21,71.35 L424.54,73.20 L424.87,75.17 L425.20,77.26 L425.53,79.47 L425.86,81.79 L426.19,84.22 L426.52,86.76 L426.85,89.40 L427.18,92.14 L427.51,94.97 L427.84,97.88 L428.17,100.86 L428.50,103.92 L428.83,107.04 L429.16,110.22 L429.49,113.45 L429.82,116.72 L430.15,120.02 L430.48,123.36 L430.81,126.71 L431.14,130.07 L431.47,133.44 L431.80,136.80 L432.13,140.15 L432.46,143.49 L432.79,146.80 L433.12,150.08 L433.45,153.31 L433.78,156.51 L434.11,159.65 L434.44,162.73 L434.77,165.75 L435.10,168.70 L435.43,171.60 L435.76,174.72 L436.09,178.06 L436.42,181.27 L436.75,183.89 L437.08,186.09 L437.41,188.35 L437.74,190.50 L438.07,192.02 L438.40,192.69 L438.73,192.86 L439.06,192.90 L439.39,192.90 L439.72,192.90 L440.05,192.90 L440.38,192.89 L440.71,192.88 L441.04,192.86 L441.37,192.84 L441.70,192.81 L442.03,192.76 L442.36,192.71 L442.69,192.65 L443.02,192.57 L443.35,192.48 L443.68,192.37 L444.01,192.26 L444.34,192.13 L444.67,191.99 L445.00,191.86 L445.33,191.73 L445.66,191.61 L445.99,191.50 L446.32,191.42 L446.65,191.36 L446.98,191.33 L447.31,191.34 L447.64,191.37 L447.97,191.44 L448.30,191.53 L448.63,191.64 L448.96,191.76 L449.29,191.90 L449.62,192.03 L449.95,192.16 L450.28,192.29 L450.61,192.40 L450.94,192.51 L451.27,192.59 L451.60,192.67 L451.93,192.73 L452.26,192.78 L452.59,192.81 L452.92,192.84 L453.25,192.86 L453.58,192.88 L453.91,192.89 L454.24,192.90 L454.57,192.90 L454.90,192.90 L455.23,192.89 L455.56,192.84 L455.89,192.58 L456.22,191.68 L456.55,189.96 L456.88,187.73 L457.21,185.50 L457.54,183.24 L457.87,180.44 L458.20,177.14 L458.53,173.84 L458.86,170.80 L459.19,167.90 L459.52,164.93 L459.85,161.90 L460.18,158.80 L460.51,155.64 L460.84,152.44 L461.17,149.19 L461.50,145.90 L461.83,142.58 L462.16,139.24 L462.49,135.88 L462.82,132.52 L463.15,129.15 L463.48,125.79 L463.81,122.45 L464.14,119.12 L464.47,115.82 L464.80,112.57 L465.13,109.35 L465.46,106.19 L465.79,103.08 L466.12,100.04 L466.45,97.07 L466.78,94.19 L467.11,91.38 L467.44,88.67 L467.77,86.06 L468.10,83.55 L468.43,81.15 L468.76,78.86 L469.09,76.68 L469.42,74.63 L469.75,72.69 L470.08,70.87 L470.41,69.17 L470.74,67.59 L471.07,66.12 L471.40,64.77 L471.73,63.55 L472.06,62.45 L472.39,61.49 L472.72,60.69 L473.05,60.06 L473.38,59.63 L473.71,59.40 L474.04,59.38 L474.37,59.58 L474.70,59.99 L475.03,60.58 L475.36,61.36 L475.69,62.30 L476.02,63.37 L476.35,64.58 L476.68,65.91 L477.01,67.36 L477.34,68.92 L477.67,70.60 L478.00,72.41 L478.33,74.32 L478.66,76.36 L478.99,78.52 L479.32,80.79 L479.65,83.18 L479.98,85.67 L480.31,88.27 L480.64,90.97 L480.97,93.76 L481.30,96.63 L481.63,99.59 L481.96,102.62 L482.29,105.71 L482.62,108.87 L482.95,112.07 L483.28,115.33 L483.61,118.62 L483.94,121.94 L484.27,125.28 L484.60,128.64 L484.93,132.01 L485.26,135.38 L485.59,138.73 L485.92,142.08 L486.25,145.40 L486.58,148.69 L486.91,151.95 L487.24,155.16 L487.57,158.32 L487.90,161.43 L488.23,164.48 L488.56,167.46 L488.89,170.37 L489.22,173.36 L489.55,176.63 L489.88,179.96 L490.21,182.85 L490.54,185.17 L490.87,187.39 L491.20,189.64 L491.53,191.47 L491.86,192.50 L492.19,192.82 L492.52,192.89 L492.85,192.90 L493.18,192.90 L493.51,192.90 L493.84,192.89 L494.17,192.88 L494.50,192.87 L494.83,192.85 L495.16,192.82 L495.49,192.78 L495.82,192.74 L496.15,192.68 L496.48,192.61 L496.81,192.52 L497.14,192.42 L497.47,192.31 L497.80,192.18 L498.13,192.05 L498.46,191.92 L498.79,191.78 L499.12,191.66 L499.45,191.54 L499.78,191.45 L500.11,191.38 L500.44,191.34 L500.77,191.33 L501.10,191.35 L501.43,191.41 L501.76,191.49 L502.09,191.59 L502.42,191.71 L502.75,191.84 L503.08,191.97 L503.41,192.11 L503.74,192.24 L504.07,192.36 L504.40,192.46 L504.73,192.56 L505.06,192.64 L505.39,192.70 L505.72,192.76 L506.05,192.80 L506.38,192.83 L506.71,192.86 L507.04,192.87 L507.37,192.89 L507.70,192.90 L508.03,192.90 L508.36,192.90 L508.69,192.90 L509.02,192.87 L509.35,192.74 L509.68,192.17 L510.01,190.78 L510.34,188.70 L510.67,186.43 L511.00,184.24 L511.33,181.71 L511.66,178.56 L511.99,175.22 L512.32,172.05 L512.65,169.14 L512.98,166.20 L513.31,163.19 L513.64,160.12 L513.97,156.99 L514.30,153.80 L514.63,150.57 L514.96,147.30 L515.29,143.99 L515.62,140.66 L515.95,137.31 L516.28,133.95 L516.61,130.58 L516.94,127.22 L517.27,123.86 L517.60,120.53 L517.93,117.22 L518.26,113.94 L518.59,110.71 L518.92,107.52 L519.25,104.39 L519.58,101.32 L519.91,98.32 L520.24,95.40 L520.57,92.56 L520.90,89.81 L521.23,87.16 L521.56,84.60 L521.89,82.15 L522.22,79.82 L522.55,77.59 L522.88,75.48 L523.21,73.50 L523.54,71.63 L523.87,69.88 L524.20,68.25 L524.53,66.73 L524.86,65.33 L525.19,64.05 L525.52,62.90 L525.85,61.88 L526.18,61.01 L526.51,60.31 L526.84,59.79 L527.17,59.47 L527.50,59.36 L527.83,59.47 L528.16,59.79 L528.49,60.31 L528.82,61.01 L529.15,61.88 L529.48,62.90 L529.81,64.05 L530.14,65.33 L530.47,66.73 L530.80,68.25 L531.13,69.88 L531.46,71.63 L531.79,73.50 L532.12,75.48 L532.45,77.59 L532.78,79.82 L533.11,82.15 L533.44,84.60 L533.77,87.16 L534.10,89.81 L534.43,92.56 L534.76,95.40 L535.09,98.32 L535.42,101.32 L535.75,104.39 L536.08,107.52 L536.41,110.71 L536.74,113.94 L537.07,117.22 L537.40,120.53 L537.73,123.86 L538.06,127.22 L538.39,130.58 L538.72,133.95 L539.05,137.31 L539.38,140.66 L539.71,143.99 L540.04,147.30 L540.37,150.57 L540.70,153.80 L541.03,156.99 L541.36,160.12 L541.69,163.19 L542.02,166.20 L542.35,169.14 L542.68,172.05 L543.01,175.22 L543.34,178.56 L543.67,181.71 L544.00,184.24 L544.33,186.43 L544.66,188.70 L544.99,190.78 L545.32,192.17 L545.65,192.74 L545.98,192.87" stroke="#8c564b"/>
</g>
<rect x="294.2" y="13.2" width="251.00" height="206.3" fill="none" stroke="#000" stroke-width="0.65"/>
<line x1="319.68" y1="219.5" x2="319.68" y2="221.1" stroke="#000" stroke-width="0.6"/>
<text x="319.68" y="228.40" font-size="8.4" text-anchor="middle" font-weight="normal" textLength="20.98" lengthAdjust="spacingAndGlyphs">−400</text>
<line x1="369.94" y1="219.5" x2="369.94" y2="221.1" stroke="#000" stroke-width="0.6"/>
<text x="369.94" y="228.40" font-size="8.4" text-anchor="middle" font-weight="normal" textLength="20.98" lengthAdjust="spacingAndGlyphs">−200</text>
<line x1="420.20" y1="219.5" x2="420.20" y2="221.1" stroke="#000" stroke-width="0.6"/>
<text x="420.20" y="228.40" font-size="8.4" text-anchor="middle" font-weight="normal" textLength="4.86" lengthAdjust="spacingAndGlyphs">0</text>
<line x1="470.46" y1="219.5" x2="470.46" y2="221.1" stroke="#000" stroke-width="0.6"/>
<text x="470.46" y="228.40" font-size="8.4" text-anchor="middle" font-weight="normal" textLength="14.58" lengthAdjust="spacingAndGlyphs">200</text>
<line x1="520.72" y1="219.5" x2="520.72" y2="221.1" stroke="#000" stroke-width="0.6"/>
<text x="520.72" y="228.40" font-size="8.4" text-anchor="middle" font-weight="normal" textLength="14.58" lengthAdjust="spacingAndGlyphs">400</text>
<line x1="292.60" y1="219.50" x2="294.2" y2="219.50" stroke="#000" stroke-width="0.6"/>
<text x="291.30" y="222.20" font-size="8.4" text-anchor="end" font-weight="normal" textLength="4.86" lengthAdjust="spacingAndGlyphs">0</text>
<line x1="292.60" y1="187.85" x2="294.2" y2="187.85" stroke="#000" stroke-width="0.6"/>
<text x="291.30" y="190.55" font-size="8.4" text-anchor="end" font-weight="normal" textLength="4.86" lengthAdjust="spacingAndGlyphs">1</text>
<line x1="292.60" y1="156.20" x2="294.2" y2="156.20" stroke="#000" stroke-width="0.6"/>
<text x="291.30" y="158.90" font-size="8.4" text-anchor="end" font-weight="normal" textLength="4.86" lengthAdjust="spacingAndGlyphs">2</text>
<line x1="292.60" y1="124.55" x2="294.2" y2="124.55" stroke="#000" stroke-width="0.6"/>
<text x="291.30" y="127.25" font-size="8.4" text-anchor="end" font-weight="normal" textLength="4.86" lengthAdjust="spacingAndGlyphs">3</text>
<line x1="292.60" y1="92.90" x2="294.2" y2="92.90" stroke="#000" stroke-width="0.6"/>
<text x="291.30" y="95.60" font-size="8.4" text-anchor="end" font-weight="normal" textLength="4.86" lengthAdjust="spacingAndGlyphs">4</text>
<line x1="292.60" y1="61.25" x2="294.2" y2="61.25" stroke="#000" stroke-width="0.6"/>
<text x="291.30" y="63.95" font-size="8.4" text-anchor="end" font-weight="normal" textLength="4.86" lengthAdjust="spacingAndGlyphs">5</text>
<line x1="292.60" y1="29.60" x2="294.2" y2="29.60" stroke="#000" stroke-width="0.6"/>
<text x="291.30" y="32.30" font-size="8.4" text-anchor="end" font-weight="normal" textLength="4.86" lengthAdjust="spacingAndGlyphs">6</text>
<text x="419.70" y="237.70" font-size="8.5" text-anchor="middle" font-weight="bold" textLength="101.00" lengthAdjust="spacingAndGlyphs">Measured Position (nm)</text>
<text x="295.00" y="11.60" font-size="8.4" text-anchor="start" font-weight="normal" textLength="15.20" lengthAdjust="spacingAndGlyphs">×10</text>
<text x="310.50" y="8.10" font-size="5.8" text-anchor="start" font-weight="normal">3</text>
<text x="147.20" y="10.40" font-size="9.6" text-anchor="middle" font-weight="bold" textLength="14.20" lengthAdjust="spacingAndGlyphs">(a)</text>
<text x="420.00" y="10.40" font-size="9.6" text-anchor="middle" font-weight="bold" textLength="14.40" lengthAdjust="spacingAndGlyphs">(b)</text>
<text x="0" y="0" font-size="8.5" font-weight="bold" text-anchor="middle" textLength="85.5" lengthAdjust="spacingAndGlyphs" transform="translate(9.3,116.5) rotate(-90)">Intensity (arb units)</text>
<text x="0" y="0" font-size="8.5" font-weight="bold" text-anchor="middle" textLength="85.5" lengthAdjust="spacingAndGlyphs" transform="translate(282.5,116.5) rotate(-90)">Intensity (arb units)</text>
<rect x="25.0" y="17.0" width="74.7" height="69.2" rx="1.5" ry="1.5" fill="#fff" stroke="#e0e0e0" stroke-width="0.7"/>
<line x1="27.2" y1="22.90" x2="43.6" y2="22.90" stroke="#1f77b4" stroke-width="1.3"/>
<text x="49.60" y="25.70" font-size="8.4" text-anchor="start" font-weight="normal" textLength="42.30" lengthAdjust="spacingAndGlyphs">Error = 0%</text>
<line x1="27.2" y1="34.17" x2="43.6" y2="34.17" stroke="#ff7f0e" stroke-width="1.3"/>
<text x="49.60" y="36.97" font-size="8.4" text-anchor="start" font-weight="normal" textLength="47.16" lengthAdjust="spacingAndGlyphs">Error = 10%</text>
<line x1="27.2" y1="45.44" x2="43.6" y2="45.44" stroke="#2ca02c" stroke-width="1.3"/>
<text x="49.60" y="48.24" font-size="8.4" text-anchor="start" font-weight="normal" textLength="47.16" lengthAdjust="spacingAndGlyphs">Error = 20%</text>
<line x1="27.2" y1="56.71" x2="43.6" y2="56.71" stroke="#d62728" stroke-width="1.3"/>
<text x="49.60" y="59.51" font-size="8.4" text-anchor="start" font-weight="normal" textLength="47.16" lengthAdjust="spacingAndGlyphs">Error = 30%</text>
<line x1="27.2" y1="67.98" x2="43.6" y2="67.98" stroke="#9467bd" stroke-width="1.3"/>
<text x="49.60" y="70.78" font-size="8.4" text-anchor="start" font-weight="normal" textLength="47.16" lengthAdjust="spacingAndGlyphs">Error = 40%</text>
<line x1="27.2" y1="79.25" x2="43.6" y2="79.25" stroke="#8c564b" stroke-width="1.3"/>
<text x="49.60" y="82.05" font-size="8.4" text-anchor="start" font-weight="normal" textLength="47.16" lengthAdjust="spacingAndGlyphs">Error = 50%</text>
</svg></body></html>
